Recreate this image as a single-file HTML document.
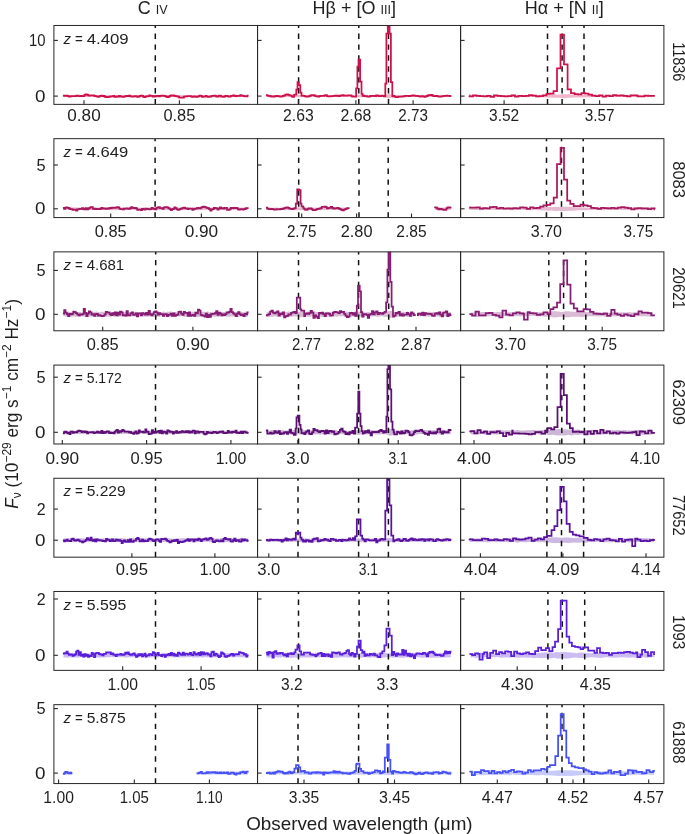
<!DOCTYPE html>
<html><head><meta charset="utf-8"><style>
html,body{margin:0;padding:0;background:#fff;overflow:hidden;}
svg{display:block;font-family:"Liberation Sans",sans-serif;will-change:transform;}
</style></head><body>
<svg width="685" height="834" viewBox="0 0 685 834">
<defs>
<clipPath id="cp00"><rect x="53.90" y="25.47" width="203.65" height="78.90"/></clipPath>
<clipPath id="cp01"><rect x="257.55" y="25.47" width="203.05" height="78.90"/></clipPath>
<clipPath id="cp02"><rect x="460.60" y="25.47" width="203.30" height="78.90"/></clipPath>
<clipPath id="cp10"><rect x="53.90" y="138.67" width="203.65" height="78.90"/></clipPath>
<clipPath id="cp11"><rect x="257.55" y="138.67" width="203.05" height="78.90"/></clipPath>
<clipPath id="cp12"><rect x="460.60" y="138.67" width="203.30" height="78.90"/></clipPath>
<clipPath id="cp20"><rect x="53.90" y="251.87" width="203.65" height="78.90"/></clipPath>
<clipPath id="cp21"><rect x="257.55" y="251.87" width="203.05" height="78.90"/></clipPath>
<clipPath id="cp22"><rect x="460.60" y="251.87" width="203.30" height="78.90"/></clipPath>
<clipPath id="cp30"><rect x="53.90" y="365.07" width="203.65" height="78.90"/></clipPath>
<clipPath id="cp31"><rect x="257.55" y="365.07" width="203.05" height="78.90"/></clipPath>
<clipPath id="cp32"><rect x="460.60" y="365.07" width="203.30" height="78.90"/></clipPath>
<clipPath id="cp40"><rect x="53.90" y="478.27" width="203.65" height="78.90"/></clipPath>
<clipPath id="cp41"><rect x="257.55" y="478.27" width="203.05" height="78.90"/></clipPath>
<clipPath id="cp42"><rect x="460.60" y="478.27" width="203.30" height="78.90"/></clipPath>
<clipPath id="cp50"><rect x="53.90" y="591.47" width="203.65" height="78.90"/></clipPath>
<clipPath id="cp51"><rect x="257.55" y="591.47" width="203.05" height="78.90"/></clipPath>
<clipPath id="cp52"><rect x="460.60" y="591.47" width="203.30" height="78.90"/></clipPath>
<clipPath id="cp60"><rect x="53.90" y="704.67" width="203.65" height="78.90"/></clipPath>
<clipPath id="cp61"><rect x="257.55" y="704.67" width="203.05" height="78.90"/></clipPath>
<clipPath id="cp62"><rect x="460.60" y="704.67" width="203.30" height="78.90"/></clipPath>
</defs>
<rect width="685" height="834" fill="#fff"/>
<g clip-path="url(#cp00)"><polygon points="63.50,95.22 64.70,95.20 65.90,95.26 67.09,95.12 68.29,95.37 69.49,94.99 70.69,95.36 71.89,95.19 73.08,95.10 74.28,95.42 75.48,95.21 76.68,95.17 77.88,95.38 79.07,95.18 80.27,95.27 81.47,95.21 82.67,94.98 83.87,95.14 85.06,95.19 86.26,95.23 87.46,95.33 88.66,95.24 89.86,95.22 91.05,95.15 92.25,95.32 93.45,95.07 94.65,95.22 95.85,95.28 97.04,95.26 98.24,95.12 99.44,95.15 100.64,95.01 101.84,95.14 103.04,95.07 104.23,94.98 105.43,95.25 106.63,95.13 107.83,95.22 109.03,95.09 110.22,95.26 111.42,95.03 112.62,95.13 113.82,95.30 115.02,95.14 116.21,95.25 117.41,95.19 118.61,95.06 119.81,95.05 121.01,95.39 122.20,95.17 123.40,95.24 124.60,95.14 125.80,95.24 127.00,95.15 128.19,95.35 129.39,95.16 130.59,95.29 131.79,95.15 132.99,95.22 134.18,95.07 135.38,95.02 136.58,95.27 137.78,94.84 138.98,95.16 140.18,95.16 141.37,95.23 142.57,95.35 143.77,95.27 144.97,95.21 146.17,95.10 147.36,95.31 148.56,95.32 149.76,95.23 150.96,95.26 152.16,95.31 153.35,95.19 154.55,95.27 155.75,95.08 156.95,95.10 158.15,95.45 159.34,95.24 160.54,95.22 161.74,95.07 162.94,95.27 164.14,95.23 165.33,95.08 166.53,95.07 167.73,95.12 168.93,95.34 170.13,95.04 171.32,95.22 172.52,95.24 173.72,95.15 174.92,95.04 176.12,95.17 177.32,95.20 178.51,95.11 179.71,94.95 180.91,95.30 182.11,95.19 183.31,94.93 184.50,95.16 185.70,95.40 186.90,95.06 188.10,95.25 189.30,95.34 190.49,95.13 191.69,95.23 192.89,95.24 194.09,95.26 195.29,95.11 196.48,95.20 197.68,95.04 198.88,95.16 200.08,95.25 201.28,95.09 202.47,95.08 203.67,95.43 204.87,95.12 206.07,95.23 207.27,95.15 208.46,95.15 209.66,94.91 210.86,94.98 212.06,95.12 213.26,95.26 214.46,95.29 215.65,95.22 216.85,95.15 218.05,95.23 219.25,95.29 220.45,95.03 221.64,95.32 222.84,95.12 224.04,95.33 225.24,95.18 226.44,95.29 227.63,95.19 228.83,95.30 230.03,95.40 231.23,95.18 232.43,95.26 233.62,95.21 234.82,94.86 236.02,94.84 237.22,95.03 238.42,95.09 239.61,95.00 240.81,95.24 242.01,95.15 243.21,95.32 244.41,95.14 245.60,95.19 246.80,95.16 248.00,95.06 248.00,97.14 246.80,97.04 245.60,97.01 244.41,97.06 243.21,96.88 242.01,97.05 240.81,96.96 239.61,97.20 238.42,97.11 237.22,97.17 236.02,97.36 234.82,97.34 233.62,96.99 232.43,96.94 231.23,97.02 230.03,96.80 228.83,96.90 227.63,97.01 226.44,96.91 225.24,97.02 224.04,96.87 222.84,97.08 221.64,96.88 220.45,97.17 219.25,96.91 218.05,96.97 216.85,97.05 215.65,96.98 214.46,96.91 213.26,96.94 212.06,97.08 210.86,97.22 209.66,97.29 208.46,97.05 207.27,97.05 206.07,96.97 204.87,97.08 203.67,96.77 202.47,97.12 201.28,97.11 200.08,96.95 198.88,97.04 197.68,97.16 196.48,97.00 195.29,97.09 194.09,96.94 192.89,96.96 191.69,96.97 190.49,97.07 189.30,96.86 188.10,96.95 186.90,97.14 185.70,96.80 184.50,97.04 183.31,97.27 182.11,97.01 180.91,96.90 179.71,97.25 178.51,97.09 177.32,97.00 176.12,97.03 174.92,97.16 173.72,97.05 172.52,96.96 171.32,96.98 170.13,97.16 168.93,96.86 167.73,97.08 166.53,97.13 165.33,97.12 164.14,96.97 162.94,96.93 161.74,97.13 160.54,96.98 159.34,96.96 158.15,96.75 156.95,97.10 155.75,97.12 154.55,96.93 153.35,97.01 152.16,96.89 150.96,96.94 149.76,96.97 148.56,96.88 147.36,96.89 146.17,97.10 144.97,96.99 143.77,96.93 142.57,96.85 141.37,96.97 140.18,97.04 138.98,97.04 137.78,97.36 136.58,96.93 135.38,97.18 134.18,97.13 132.99,96.98 131.79,97.05 130.59,96.91 129.39,97.04 128.19,96.85 127.00,97.05 125.80,96.96 124.60,97.06 123.40,96.96 122.20,97.03 121.01,96.81 119.81,97.15 118.61,97.14 117.41,97.01 116.21,96.95 115.02,97.06 113.82,96.90 112.62,97.07 111.42,97.17 110.22,96.94 109.03,97.11 107.83,96.98 106.63,97.07 105.43,96.95 104.23,97.22 103.04,97.13 101.84,97.06 100.64,97.19 99.44,97.05 98.24,97.08 97.04,96.94 95.85,96.92 94.65,96.98 93.45,97.13 92.25,96.88 91.05,97.05 89.86,96.98 88.66,96.96 87.46,96.87 86.26,96.97 85.06,97.01 83.87,97.06 82.67,97.22 81.47,96.99 80.27,96.93 79.07,97.02 77.88,96.82 76.68,97.03 75.48,96.99 74.28,96.78 73.08,97.10 71.89,97.01 70.69,96.84 69.49,97.21 68.29,96.83 67.09,97.08 65.90,96.94 64.70,97.00 63.50,96.98" fill="#cf114b" fill-opacity="0.3" stroke="none"/><line x1="155.30" y1="104.37" x2="155.30" y2="25.47" stroke="#111" stroke-width="1.5" stroke-dasharray="5.4 5.5"/><polyline points="62.90,95.62 64.10,95.62 64.10,95.79 65.30,95.79 65.30,95.55 66.49,95.55 66.49,95.73 67.69,95.73 67.69,96.06 68.89,96.06 68.89,96.53 70.09,96.53 70.09,96.34 71.29,96.34 71.29,96.14 72.48,96.14 72.48,96.22 73.68,96.22 73.68,96.04 74.88,96.04 74.88,96.13 76.08,96.13 76.08,95.71 77.28,95.71 77.28,95.74 78.47,95.74 78.47,96.02 79.67,96.02 79.67,96.16 80.87,96.16 80.87,95.88 82.07,95.88 82.07,96.24 83.27,96.24 83.27,96.17 84.47,96.17 84.47,94.97 85.66,94.97 85.66,94.29 86.86,94.29 86.86,94.59 88.06,94.59 88.06,95.31 89.26,95.31 89.26,95.57 90.46,95.57 90.46,95.41 91.65,95.41 91.65,95.37 92.85,95.37 92.85,95.37 94.05,95.37 94.05,95.94 95.25,95.94 95.25,96.10 96.45,96.10 96.45,96.30 97.64,96.30 97.64,96.78 98.84,96.78 98.84,96.49 100.04,96.49 100.04,95.84 101.24,95.84 101.24,95.68 102.44,95.68 102.44,96.01 103.63,96.01 103.63,95.99 104.83,95.99 104.83,96.96 106.03,96.96 106.03,97.18 107.23,97.18 107.23,97.10 108.43,97.10 108.43,96.75 109.62,96.75 109.62,96.59 110.82,96.59 110.82,96.28 112.02,96.28 112.02,96.27 113.22,96.27 113.22,95.99 114.42,95.99 114.42,96.82 115.61,96.82 115.61,96.79 116.81,96.79 116.81,96.41 118.01,96.41 118.01,96.60 119.21,96.60 119.21,95.96 120.41,95.96 120.41,96.60 121.61,96.60 121.61,96.68 122.80,96.68 122.80,96.82 124.00,96.82 124.00,96.61 125.20,96.61 125.20,96.20 126.40,96.20 126.40,95.99 127.60,95.99 127.60,96.17 128.79,96.17 128.79,95.74 129.99,95.74 129.99,96.16 131.19,96.16 131.19,96.60 132.39,96.60 132.39,96.63 133.59,96.63 133.59,96.25 134.78,96.25 134.78,96.12 135.98,96.12 135.98,96.39 137.18,96.39 137.18,96.96 138.38,96.96 138.38,96.70 139.58,96.70 139.58,95.92 140.77,95.92 140.77,95.62 141.97,95.62 141.97,95.83 143.17,95.83 143.17,96.82 144.37,96.82 144.37,97.06 145.57,97.06 145.57,96.43 146.76,96.43 146.76,96.29 147.96,96.29 147.96,96.11 149.16,96.11 149.16,95.40 150.36,95.40 150.36,95.96 151.56,95.96 151.56,95.96 152.75,95.96 152.75,96.53 153.95,96.53 153.95,96.19 155.15,96.19 155.15,96.40 156.35,96.40 156.35,95.92 157.55,95.92 157.55,95.96 158.75,95.96 158.75,96.43 159.94,96.43 159.94,95.78 161.14,95.78 161.14,95.60 162.34,95.60 162.34,95.70 163.54,95.70 163.54,95.96 164.74,95.96 164.74,96.21 165.93,96.21 165.93,96.65 167.13,96.65 167.13,97.01 168.33,97.01 168.33,96.93 169.53,96.93 169.53,95.99 170.73,95.99 170.73,95.27 171.92,95.27 171.92,95.59 173.12,95.59 173.12,95.26 174.32,95.26 174.32,95.81 175.52,95.81 175.52,96.05 176.72,96.05 176.72,96.28 177.91,96.28 177.91,96.71 179.11,96.71 179.11,97.59 180.31,97.59 180.31,97.66 181.51,97.66 181.51,97.56 182.71,97.56 182.71,97.71 183.90,97.71 183.90,96.74 185.10,96.74 185.10,96.43 186.30,96.43 186.30,96.32 187.50,96.32 187.50,96.11 188.70,96.11 188.70,96.07 189.89,96.07 189.89,96.15 191.09,96.15 191.09,96.60 192.29,96.60 192.29,96.79 193.49,96.79 193.49,96.46 194.69,96.46 194.69,96.57 195.89,96.57 195.89,96.82 197.08,96.82 197.08,96.63 198.28,96.63 198.28,96.47 199.48,96.47 199.48,95.63 200.68,95.63 200.68,95.93 201.88,95.93 201.88,96.86 203.07,96.86 203.07,96.63 204.27,96.63 204.27,96.62 205.47,96.62 205.47,95.78 206.67,95.78 206.67,96.64 207.87,96.64 207.87,96.84 209.06,96.84 209.06,96.67 210.26,96.67 210.26,96.66 211.46,96.66 211.46,95.90 212.66,95.90 212.66,95.82 213.86,95.82 213.86,95.60 215.05,95.60 215.05,95.94 216.25,95.94 216.25,96.72 217.45,96.72 217.45,96.57 218.65,96.57 218.65,95.71 219.85,95.71 219.85,95.74 221.04,95.74 221.04,96.51 222.24,96.51 222.24,96.59 223.44,96.59 223.44,96.80 224.64,96.80 224.64,96.17 225.84,96.17 225.84,95.83 227.03,95.83 227.03,96.06 228.23,96.06 228.23,96.68 229.43,96.68 229.43,96.50 230.63,96.50 230.63,95.91 231.83,95.91 231.83,95.84 233.03,95.84 233.03,95.31 234.22,95.31 234.22,95.98 235.42,95.98 235.42,96.18 236.62,96.18 236.62,95.87 237.82,95.87 237.82,95.85 239.02,95.85 239.02,95.78 240.21,95.78 240.21,95.14 241.41,95.14 241.41,95.69 242.61,95.69 242.61,95.77 243.81,95.77 243.81,96.02 245.01,96.02 245.01,96.28 246.20,96.28 246.20,96.39 247.40,96.39 247.40,95.64 248.60,95.64" fill="none" stroke="#cf114b" stroke-width="1.75" stroke-linejoin="miter"/></g>
<rect x="53.90" y="25.47" width="203.65" height="78.90" fill="none" stroke="#262626" stroke-width="1.0"/>
<line x1="53.90" y1="40.40" x2="57.90" y2="40.40" stroke="#262626" stroke-width="1.1"/>
<text x="45.6" y="45.90" text-anchor="end" font-size="16.0" fill="#1e1e1e" textLength="16.5" lengthAdjust="spacingAndGlyphs">10</text>
<line x1="53.90" y1="96.10" x2="57.90" y2="96.10" stroke="#262626" stroke-width="1.1"/>
<text x="45.6" y="101.60" text-anchor="end" font-size="16.0" fill="#1e1e1e" textLength="10.5" lengthAdjust="spacingAndGlyphs">0</text>
<line x1="84.00" y1="104.37" x2="84.00" y2="100.37" stroke="#262626" stroke-width="1.1"/>
<text x="84.00" y="120.77" text-anchor="middle" font-size="16.0" fill="#1e1e1e" textLength="33.3" lengthAdjust="spacingAndGlyphs">0.80</text>
<line x1="179.40" y1="104.37" x2="179.40" y2="100.37" stroke="#262626" stroke-width="1.1"/>
<text x="179.40" y="120.77" text-anchor="middle" font-size="16.0" fill="#1e1e1e" textLength="31.900000000000002" lengthAdjust="spacingAndGlyphs">0.85</text>
<g clip-path="url(#cp01)"><polygon points="266.60,95.18 267.90,95.31 269.19,94.96 270.49,95.30 271.79,95.36 273.08,95.08 274.38,95.14 275.68,95.16 276.98,95.27 278.27,95.35 279.57,95.22 280.87,95.20 282.17,95.20 283.46,95.19 284.76,95.07 286.06,95.32 287.35,95.41 288.65,95.24 289.95,95.38 291.25,95.47 292.54,95.03 293.65,95.17 295.20,95.21 296.90,95.09 298.20,94.85 299.60,94.98 300.90,95.06 301.89,95.15 302.92,95.31 304.22,95.21 305.51,95.30 306.81,94.98 308.11,95.31 309.41,95.34 310.70,95.38 312.00,95.11 313.30,95.38 314.60,95.13 315.89,95.17 317.19,95.22 318.49,94.93 319.78,95.26 321.08,95.15 322.38,95.33 323.68,95.29 324.97,95.12 326.27,95.28 327.57,95.20 328.86,95.13 330.16,95.19 331.46,95.24 332.76,95.19 334.05,95.43 335.35,95.23 336.65,95.09 337.94,95.01 339.24,95.12 340.54,95.18 341.84,95.18 343.13,95.28 344.43,95.10 345.73,95.10 347.03,95.26 348.32,95.37 349.62,95.15 350.92,95.06 352.21,95.25 353.51,95.17 354.81,95.14 355.78,95.03 356.75,94.99 357.95,94.98 359.30,94.67 360.80,94.92 362.05,95.05 362.92,95.04 363.89,95.38 365.19,95.10 366.48,95.32 367.78,95.26 369.08,95.07 370.37,95.07 371.67,95.29 372.97,95.31 374.27,95.36 375.56,95.29 376.86,95.03 378.16,95.18 379.46,95.31 380.75,95.21 382.05,95.34 383.35,95.20 384.65,95.03 385.85,95.01 387.10,94.26 388.70,93.71 390.25,94.15 391.60,94.87 392.69,94.97 393.72,95.27 395.02,95.31 396.32,94.97 397.62,95.34 398.91,95.29 400.21,95.23 401.51,95.19 402.80,95.06 404.10,95.11 405.40,95.05 406.70,95.12 407.99,95.17 409.29,95.35 410.59,95.18 411.89,95.28 413.18,95.28 414.48,95.23 415.78,94.97 417.07,95.09 418.37,95.09 419.67,95.32 420.97,95.20 422.26,95.22 423.56,95.17 424.86,95.11 426.15,95.22 427.45,95.19 428.75,95.13 430.05,95.16 431.34,95.11 432.64,95.47 433.94,95.31 435.23,95.22 436.53,95.31 437.83,95.32 439.13,95.47 440.42,95.13 441.72,95.24 443.02,95.30 444.32,95.01 445.61,95.25 446.91,95.11 448.21,95.18 449.50,95.13 450.80,95.42 450.80,96.78 449.50,97.07 448.21,97.02 446.91,97.09 445.61,96.95 444.32,97.19 443.02,96.90 441.72,96.96 440.42,97.07 439.13,96.73 437.83,96.88 436.53,96.89 435.23,96.98 433.94,96.89 432.64,96.73 431.34,97.09 430.05,97.04 428.75,97.07 427.45,97.01 426.15,96.98 424.86,97.09 423.56,97.03 422.26,96.98 420.97,97.00 419.67,96.88 418.37,97.11 417.07,97.11 415.78,97.23 414.48,96.97 413.18,96.92 411.89,96.92 410.59,97.02 409.29,96.85 407.99,97.03 406.70,97.08 405.40,97.15 404.10,97.09 402.80,97.14 401.51,97.01 400.21,96.97 398.91,96.91 397.62,96.86 396.32,97.23 395.02,96.89 393.72,96.93 392.69,97.23 391.60,97.33 390.25,98.05 388.70,98.49 387.10,97.94 385.85,97.19 384.65,97.17 383.35,97.00 382.05,96.86 380.75,96.99 379.46,96.89 378.16,97.02 376.86,97.17 375.56,96.91 374.27,96.84 372.97,96.89 371.67,96.91 370.37,97.13 369.08,97.13 367.78,96.94 366.48,96.88 365.19,97.10 363.89,96.82 362.92,97.16 362.05,97.15 360.80,97.28 359.30,97.53 357.95,97.22 356.75,97.21 355.78,97.17 354.81,97.06 353.51,97.03 352.21,96.95 350.92,97.14 349.62,97.05 348.32,96.83 347.03,96.94 345.73,97.10 344.43,97.10 343.13,96.92 341.84,97.02 340.54,97.02 339.24,97.08 337.94,97.19 336.65,97.11 335.35,96.97 334.05,96.77 332.76,97.01 331.46,96.96 330.16,97.01 328.86,97.07 327.57,97.00 326.27,96.92 324.97,97.08 323.68,96.91 322.38,96.87 321.08,97.05 319.78,96.94 318.49,97.27 317.19,96.98 315.89,97.03 314.60,97.07 313.30,96.82 312.00,97.09 310.70,96.82 309.41,96.86 308.11,96.89 306.81,97.22 305.51,96.90 304.22,96.99 302.92,96.89 301.89,97.05 300.90,97.14 299.60,97.22 298.20,97.35 296.90,97.11 295.20,96.99 293.65,97.03 292.54,97.17 291.25,96.73 289.95,96.82 288.65,96.96 287.35,96.79 286.06,96.88 284.76,97.13 283.46,97.01 282.17,97.00 280.87,97.00 279.57,96.98 278.27,96.85 276.98,96.93 275.68,97.04 274.38,97.06 273.08,97.12 271.79,96.84 270.49,96.90 269.19,97.24 267.90,96.89 266.60,97.02" fill="#cf114b" fill-opacity="0.3" stroke="none"/><line x1="298.60" y1="104.37" x2="298.60" y2="25.47" stroke="#111" stroke-width="1.5" stroke-dasharray="5.4 5.5"/><line x1="358.80" y1="104.37" x2="358.80" y2="25.47" stroke="#111" stroke-width="1.5" stroke-dasharray="5.4 5.5"/><line x1="388.50" y1="104.37" x2="388.50" y2="25.47" stroke="#111" stroke-width="1.5" stroke-dasharray="5.4 5.5"/><polyline points="265.95,95.23 267.25,95.23 267.25,95.52 268.54,95.52 268.54,95.77 269.84,95.77 269.84,96.21 271.14,96.21 271.14,96.50 272.44,96.50 272.44,96.43 273.73,96.43 273.73,96.71 275.03,96.71 275.03,96.10 276.33,96.10 276.33,95.96 277.62,95.96 277.62,96.20 278.92,96.20 278.92,96.34 280.22,96.34 280.22,96.57 281.52,96.57 281.52,96.44 282.81,96.44 282.81,95.76 284.11,95.76 284.11,95.26 285.41,95.26 285.41,94.51 286.71,94.51 286.71,94.34 288.00,94.34 288.00,94.92 289.30,94.92 289.30,95.39 290.60,95.39 290.60,95.70 291.89,95.70 291.89,96.72 293.19,96.72 293.19,96.87 294.10,96.87 294.10,94.50 296.30,94.50 296.30,89.50 297.50,89.50 297.50,82.10 298.90,82.10 298.90,85.20 300.30,85.20 300.30,92.60 301.50,92.60 301.50,95.72 302.27,95.72 302.27,95.71 303.57,95.71 303.57,95.97 304.87,95.97 304.87,96.43 306.16,96.43 306.16,96.69 307.46,96.69 307.46,96.61 308.76,96.61 308.76,96.04 310.05,96.04 310.05,95.67 311.35,95.67 311.35,95.08 312.65,95.08 312.65,95.21 313.95,95.21 313.95,95.25 315.24,95.25 315.24,96.11 316.54,96.11 316.54,96.35 317.84,96.35 317.84,96.55 319.14,96.55 319.14,96.12 320.43,96.12 320.43,95.76 321.73,95.76 321.73,95.91 323.03,95.91 323.03,95.80 324.32,95.80 324.32,95.40 325.62,95.40 325.62,95.20 326.92,95.20 326.92,96.04 328.22,96.04 328.22,96.49 329.51,96.49 329.51,96.46 330.81,96.46 330.81,96.23 332.11,96.23 332.11,96.11 333.40,96.11 333.40,95.79 334.70,95.79 334.70,95.64 336.00,95.64 336.00,95.91 337.30,95.91 337.30,95.63 338.59,95.63 338.59,96.09 339.89,96.09 339.89,95.74 341.19,95.74 341.19,95.44 342.48,95.44 342.48,95.13 343.78,95.13 343.78,95.69 345.08,95.69 345.08,95.73 346.38,95.73 346.38,95.55 347.67,95.55 347.67,95.36 348.97,95.36 348.97,95.48 350.27,95.48 350.27,95.46 351.57,95.46 351.57,96.27 352.86,96.27 352.86,96.53 354.16,96.53 354.16,96.50 355.46,96.50 355.46,96.63 356.10,96.63 356.10,88.40 357.40,88.40 357.40,66.50 358.50,66.50 358.50,59.60 360.10,59.60 360.10,81.50 361.50,81.50 361.50,93.80 362.60,93.80 362.60,95.88 363.24,95.88 363.24,95.64 364.54,95.64 364.54,96.05 365.83,96.05 365.83,96.04 367.13,96.04 367.13,96.65 368.43,96.65 368.43,96.56 369.73,96.56 369.73,96.24 371.02,96.24 371.02,95.85 372.32,95.85 372.32,95.84 373.62,95.84 373.62,95.97 374.92,95.97 374.92,96.02 376.21,96.02 376.21,95.49 377.51,95.49 377.51,95.68 378.81,95.68 378.81,96.12 380.10,96.12 380.10,96.07 381.40,96.07 381.40,95.56 382.70,95.56 382.70,95.77 384.00,95.77 384.00,96.28 385.30,96.28 385.30,83.50 386.40,83.50 386.40,33.50 387.80,33.50 387.80,-13.90 389.60,-13.90 389.60,33.50 390.90,33.50 390.90,82.10 392.30,82.10 392.30,96.26 393.08,96.26 393.08,95.95 394.37,95.95 394.37,96.71 395.67,96.71 395.67,97.14 396.97,97.14 396.97,97.08 398.26,97.08 398.26,96.61 399.56,96.61 399.56,96.52 400.86,96.52 400.86,96.55 402.16,96.55 402.16,96.41 403.45,96.41 403.45,96.38 404.75,96.38 404.75,95.99 406.05,95.99 406.05,95.81 407.35,95.81 407.35,95.96 408.64,95.96 408.64,96.24 409.94,96.24 409.94,95.83 411.24,95.83 411.24,95.66 412.53,95.66 412.53,95.45 413.83,95.45 413.83,95.51 415.13,95.51 415.13,95.88 416.43,95.88 416.43,95.89 417.72,95.89 417.72,96.24 419.02,96.24 419.02,96.26 420.32,96.26 420.32,96.58 421.61,96.58 421.61,96.22 422.91,96.22 422.91,96.39 424.21,96.39 424.21,96.75 425.51,96.75 425.51,96.30 426.80,96.30 426.80,95.89 428.10,95.89 428.10,95.07 429.40,95.07 429.40,95.03 430.69,95.03 430.69,94.80 431.99,94.80 431.99,95.43 433.29,95.43 433.29,96.08 434.59,96.08 434.59,96.00 435.88,96.00 435.88,95.90 437.18,95.90 437.18,96.01 438.48,96.01 438.48,96.67 439.78,96.67 439.78,96.61 441.07,96.61 441.07,96.45 442.37,96.45 442.37,96.07 443.67,96.07 443.67,95.88 444.96,95.88 444.96,95.76 446.26,95.76 446.26,95.71 447.56,95.71 447.56,95.86 448.86,95.86 448.86,95.86 450.15,95.86 450.15,96.18 451.45,96.18" fill="none" stroke="#cf114b" stroke-width="1.75" stroke-linejoin="miter"/></g>
<rect x="257.55" y="25.47" width="203.05" height="78.90" fill="none" stroke="#262626" stroke-width="1.0"/>
<line x1="257.55" y1="40.40" x2="261.55" y2="40.40" stroke="#262626" stroke-width="1.1"/>
<line x1="257.55" y1="96.10" x2="261.55" y2="96.10" stroke="#262626" stroke-width="1.1"/>
<line x1="298.40" y1="104.37" x2="298.40" y2="100.37" stroke="#262626" stroke-width="1.1"/>
<text x="298.40" y="120.77" text-anchor="middle" font-size="16.0" fill="#1e1e1e" textLength="30.6" lengthAdjust="spacingAndGlyphs">2.63</text>
<line x1="355.90" y1="104.37" x2="355.90" y2="100.37" stroke="#262626" stroke-width="1.1"/>
<text x="355.90" y="120.77" text-anchor="middle" font-size="16.0" fill="#1e1e1e" textLength="30.8" lengthAdjust="spacingAndGlyphs">2.68</text>
<line x1="413.10" y1="104.37" x2="413.10" y2="100.37" stroke="#262626" stroke-width="1.1"/>
<text x="413.10" y="120.77" text-anchor="middle" font-size="16.0" fill="#1e1e1e" textLength="29.6" lengthAdjust="spacingAndGlyphs">2.73</text>
<g clip-path="url(#cp02)"><polygon points="469.45,95.34 471.25,95.04 474.75,95.22 478.25,95.21 481.75,95.22 485.25,95.43 488.75,95.37 492.25,95.34 495.75,95.26 499.25,95.20 502.75,95.25 506.25,95.24 509.75,95.13 513.25,95.09 516.75,95.18 520.25,95.31 523.75,95.26 527.25,95.05 530.75,95.31 534.25,95.22 537.75,95.00 541.25,94.85 544.75,94.83 548.25,94.67 551.75,94.49 555.25,94.50 558.75,94.43 562.25,94.17 565.80,94.25 569.30,94.35 572.75,94.67 576.25,94.69 579.75,94.77 583.25,95.00 586.75,94.96 590.25,94.87 593.75,95.21 597.25,95.19 600.75,95.18 604.25,95.24 607.75,95.18 611.25,95.24 614.75,95.17 618.25,95.21 621.75,95.06 625.25,95.10 628.75,95.22 632.25,95.19 635.75,95.11 639.25,95.09 642.75,95.47 646.25,95.23 649.75,95.28 653.20,95.19 653.20,97.01 649.75,96.92 646.25,96.97 642.75,96.73 639.25,97.11 635.75,97.09 632.25,97.01 628.75,96.98 625.25,97.10 621.75,97.14 618.25,96.99 614.75,97.03 611.25,96.96 607.75,97.02 604.25,96.96 600.75,97.02 597.25,97.01 593.75,96.99 590.25,97.33 586.75,97.24 583.25,97.20 579.75,97.43 576.25,97.51 572.75,97.53 569.30,97.85 565.80,97.95 562.25,98.03 558.75,97.77 555.25,97.70 551.75,97.71 548.25,97.53 544.75,97.37 541.25,97.35 537.75,97.20 534.25,96.98 530.75,96.89 527.25,97.15 523.75,96.94 520.25,96.89 516.75,97.02 513.25,97.11 509.75,97.07 506.25,96.96 502.75,96.95 499.25,97.00 495.75,96.94 492.25,96.86 488.75,96.83 485.25,96.77 481.75,96.98 478.25,96.99 474.75,96.98 471.25,97.16 469.45,96.86" fill="#cf114b" fill-opacity="0.3" stroke="none"/><line x1="547.50" y1="104.37" x2="547.50" y2="25.47" stroke="#111" stroke-width="1.5" stroke-dasharray="5.4 5.5"/><line x1="562.10" y1="104.37" x2="562.10" y2="25.47" stroke="#111" stroke-width="1.5" stroke-dasharray="5.4 5.5"/><line x1="584.00" y1="104.37" x2="584.00" y2="25.47" stroke="#111" stroke-width="1.5" stroke-dasharray="5.4 5.5"/><polyline points="469.40,95.41 469.50,95.41 469.50,96.33 473.00,96.33 473.00,95.30 476.50,95.30 476.50,95.75 480.00,95.75 480.00,96.14 483.50,96.14 483.50,96.32 487.00,96.32 487.00,95.96 490.50,95.96 490.50,96.93 494.00,96.93 494.00,95.45 497.50,95.45 497.50,95.91 501.00,95.91 501.00,96.12 504.50,96.12 504.50,96.41 508.00,96.41 508.00,96.16 511.50,96.16 511.50,95.42 515.00,95.42 515.00,96.69 518.50,96.69 518.50,95.84 522.00,95.84 522.00,96.11 525.50,96.11 525.50,95.88 529.00,95.88 529.00,95.23 532.50,95.23 532.50,95.63 536.00,95.63 536.00,96.25 539.50,96.25 539.50,96.19 543.00,96.19 543.00,95.49 546.50,95.49 546.50,93.90 550.00,93.90 550.00,93.50 553.50,93.50 553.50,91.20 557.00,91.20 557.00,68.40 560.50,68.40 560.50,34.70 564.00,34.70 564.00,64.30 567.60,64.30 567.60,89.40 571.00,89.40 571.00,93.00 574.50,93.00 574.50,94.10 578.00,94.10 578.00,94.30 581.50,94.30 581.50,93.10 585.00,93.10 585.00,93.50 588.50,93.50 588.50,94.60 592.00,94.60 592.00,95.71 595.50,95.71 595.50,96.22 599.00,96.22 599.00,95.36 602.50,95.36 602.50,96.63 606.00,96.63 606.00,95.53 609.50,95.53 609.50,96.16 613.00,96.16 613.00,95.18 616.50,95.18 616.50,95.58 620.00,95.58 620.00,95.43 623.50,95.43 623.50,95.95 627.00,95.95 627.00,96.39 630.50,96.39 630.50,95.36 634.00,95.36 634.00,95.28 637.50,95.28 637.50,96.27 641.00,96.27 641.00,96.49 644.50,96.49 644.50,95.64 648.00,95.64 648.00,95.92 651.50,95.92 651.50,95.79 654.90,95.79" fill="none" stroke="#cf114b" stroke-width="1.75" stroke-linejoin="miter"/></g>
<rect x="460.60" y="25.47" width="203.30" height="78.90" fill="none" stroke="#262626" stroke-width="1.0"/>
<line x1="460.60" y1="40.40" x2="464.60" y2="40.40" stroke="#262626" stroke-width="1.1"/>
<line x1="460.60" y1="96.10" x2="464.60" y2="96.10" stroke="#262626" stroke-width="1.1"/>
<line x1="504.10" y1="104.37" x2="504.10" y2="100.37" stroke="#262626" stroke-width="1.1"/>
<text x="504.10" y="120.77" text-anchor="middle" font-size="16.0" fill="#1e1e1e" textLength="30.1" lengthAdjust="spacingAndGlyphs">3.52</text>
<line x1="599.60" y1="104.37" x2="599.60" y2="100.37" stroke="#262626" stroke-width="1.1"/>
<text x="599.60" y="120.77" text-anchor="middle" font-size="16.0" fill="#1e1e1e" textLength="29.8" lengthAdjust="spacingAndGlyphs">3.57</text>
<text x="63.4" y="43.67" font-size="15" font-style="italic" fill="#1e1e1e">z</text>
<text x="75.0" y="43.67" font-size="15" fill="#1e1e1e" textLength="7.8" lengthAdjust="spacingAndGlyphs">=</text>
<text x="86.7" y="43.67" font-size="15" fill="#1e1e1e" textLength="42.0" lengthAdjust="spacingAndGlyphs">4.409</text>
<text transform="translate(673.4,61.80) rotate(90)" text-anchor="middle" font-size="15.8" fill="#1e1e1e" textLength="39.2" lengthAdjust="spacingAndGlyphs">11836</text>
<g clip-path="url(#cp10)"><polygon points="63.50,207.53 64.70,207.77 65.90,207.57 67.09,207.79 68.29,207.49 69.49,207.48 70.69,207.52 71.89,207.56 73.08,207.47 74.28,207.37 75.48,207.59 76.68,207.46 77.88,207.50 79.07,207.59 80.27,207.57 81.47,207.68 82.67,207.45 83.87,207.44 85.06,207.74 86.26,207.72 87.46,207.40 88.66,207.36 89.86,207.67 91.05,207.51 92.25,207.73 93.45,207.64 94.65,207.65 95.85,207.52 97.04,207.69 98.24,207.60 99.44,207.61 100.64,207.48 101.84,207.56 103.04,207.60 104.23,207.50 105.43,207.54 106.63,207.69 107.83,207.80 109.03,207.53 110.22,207.62 111.42,207.37 112.62,207.44 113.82,207.66 115.02,207.67 116.21,207.37 117.41,207.61 118.61,207.63 119.81,207.81 121.01,207.70 122.20,207.40 123.40,207.35 124.60,207.45 125.80,207.66 127.00,207.52 128.19,207.68 129.39,207.29 130.59,207.45 131.79,207.62 132.99,207.52 134.18,207.57 135.38,207.53 136.58,207.58 137.78,207.75 138.98,207.45 140.18,207.81 141.37,207.68 142.57,207.59 143.77,207.40 144.97,207.53 146.17,207.71 147.36,207.70 148.56,207.51 149.76,207.48 150.96,207.61 152.16,207.74 153.35,207.46 154.55,207.49 155.75,207.86 156.95,207.46 158.15,207.62 159.34,207.29 160.54,207.81 161.74,207.65 162.94,207.51 164.14,207.40 165.33,207.60 166.53,207.52 167.73,207.59 168.93,207.73 170.13,207.48 171.32,207.41 172.52,207.47 173.72,207.53 174.92,207.58 176.12,207.49 177.32,207.70 178.51,207.44 179.71,207.58 180.91,207.64 182.11,207.53 183.31,207.65 184.50,207.60 185.70,207.47 186.90,207.73 188.10,207.47 189.30,207.45 190.49,207.59 191.69,207.83 192.89,207.44 194.09,207.63 195.29,207.56 196.48,207.49 197.68,207.67 198.88,207.44 200.08,207.72 201.28,207.61 202.47,207.72 203.67,207.70 204.87,207.74 206.07,207.43 207.27,207.61 208.46,207.71 209.66,207.40 210.86,207.84 212.06,207.55 213.26,207.47 214.46,207.58 215.65,207.65 216.85,207.61 218.05,207.52 219.25,207.59 220.45,207.61 221.64,207.69 222.84,207.66 224.04,207.45 225.24,207.45 226.44,207.74 227.63,207.34 228.83,207.93 230.03,207.59 231.23,207.65 232.43,207.55 233.62,207.32 234.82,207.67 236.02,207.96 237.22,207.63 238.42,207.64 239.61,207.46 240.81,207.62 242.01,207.49 243.21,207.49 244.41,207.68 245.60,207.62 246.80,207.66 248.00,207.43 248.00,210.17 246.80,209.94 245.60,209.98 244.41,209.92 243.21,210.11 242.01,210.11 240.81,209.98 239.61,210.14 238.42,209.96 237.22,209.97 236.02,209.64 234.82,209.93 233.62,210.28 232.43,210.05 231.23,209.95 230.03,210.01 228.83,209.67 227.63,210.26 226.44,209.86 225.24,210.15 224.04,210.15 222.84,209.94 221.64,209.91 220.45,209.99 219.25,210.01 218.05,210.08 216.85,209.99 215.65,209.95 214.46,210.02 213.26,210.13 212.06,210.05 210.86,209.76 209.66,210.20 208.46,209.89 207.27,209.99 206.07,210.17 204.87,209.86 203.67,209.90 202.47,209.88 201.28,209.99 200.08,209.88 198.88,210.16 197.68,209.93 196.48,210.11 195.29,210.04 194.09,209.97 192.89,210.16 191.69,209.77 190.49,210.01 189.30,210.15 188.10,210.13 186.90,209.87 185.70,210.13 184.50,210.00 183.31,209.95 182.11,210.07 180.91,209.96 179.71,210.02 178.51,210.16 177.32,209.90 176.12,210.11 174.92,210.02 173.72,210.07 172.52,210.13 171.32,210.19 170.13,210.12 168.93,209.87 167.73,210.01 166.53,210.08 165.33,210.00 164.14,210.20 162.94,210.09 161.74,209.95 160.54,209.79 159.34,210.31 158.15,209.98 156.95,210.14 155.75,209.74 154.55,210.11 153.35,210.14 152.16,209.86 150.96,209.99 149.76,210.12 148.56,210.09 147.36,209.90 146.17,209.89 144.97,210.07 143.77,210.20 142.57,210.01 141.37,209.92 140.18,209.79 138.98,210.15 137.78,209.85 136.58,210.02 135.38,210.07 134.18,210.03 132.99,210.08 131.79,209.98 130.59,210.15 129.39,210.31 128.19,209.92 127.00,210.08 125.80,209.94 124.60,210.15 123.40,210.25 122.20,210.20 121.01,209.90 119.81,209.79 118.61,209.97 117.41,209.99 116.21,210.23 115.02,209.93 113.82,209.94 112.62,210.16 111.42,210.23 110.22,209.98 109.03,210.07 107.83,209.80 106.63,209.91 105.43,210.06 104.23,210.10 103.04,210.00 101.84,210.04 100.64,210.12 99.44,209.99 98.24,210.00 97.04,209.91 95.85,210.08 94.65,209.95 93.45,209.96 92.25,209.87 91.05,210.09 89.86,209.93 88.66,210.24 87.46,210.20 86.26,209.88 85.06,209.86 83.87,210.16 82.67,210.15 81.47,209.92 80.27,210.03 79.07,210.01 77.88,210.10 76.68,210.14 75.48,210.01 74.28,210.23 73.08,210.13 71.89,210.04 70.69,210.08 69.49,210.12 68.29,210.11 67.09,209.81 65.90,210.03 64.70,209.83 63.50,210.07" fill="#a8185f" fill-opacity="0.3" stroke="none"/><line x1="155.10" y1="217.57" x2="155.10" y2="138.67" stroke="#111" stroke-width="1.5" stroke-dasharray="5.4 5.5"/><polyline points="62.90,207.97 64.10,207.97 64.10,208.94 65.30,208.94 65.30,207.65 66.49,207.65 66.49,207.44 67.69,207.44 67.69,207.99 68.89,207.99 68.89,208.29 70.09,208.29 70.09,209.11 71.29,209.11 71.29,209.11 72.48,209.11 72.48,209.86 73.68,209.86 73.68,209.71 74.88,209.71 74.88,209.63 76.08,209.63 76.08,210.51 77.28,210.51 77.28,209.25 78.47,209.25 78.47,209.05 79.67,209.05 79.67,208.81 80.87,208.81 80.87,208.89 82.07,208.89 82.07,208.23 83.27,208.23 83.27,209.05 84.47,209.05 84.47,209.33 85.66,209.33 85.66,208.06 86.86,208.06 86.86,209.34 88.06,209.34 88.06,208.64 89.26,208.64 89.26,207.95 90.46,207.95 90.46,207.02 91.65,207.02 91.65,207.24 92.85,207.24 92.85,208.81 94.05,208.81 94.05,208.51 95.25,208.51 95.25,209.07 96.45,209.07 96.45,208.76 97.64,208.76 97.64,209.10 98.84,209.10 98.84,209.15 100.04,209.15 100.04,208.91 101.24,208.91 101.24,207.79 102.44,207.79 102.44,208.63 103.63,208.63 103.63,208.43 104.83,208.43 104.83,208.52 106.03,208.52 106.03,208.83 107.23,208.83 107.23,208.31 108.43,208.31 108.43,208.54 109.62,208.54 109.62,207.97 110.82,207.97 110.82,208.06 112.02,208.06 112.02,207.53 113.22,207.53 113.22,207.56 114.42,207.56 114.42,207.95 115.61,207.95 115.61,207.57 116.81,207.57 116.81,207.24 118.01,207.24 118.01,207.48 119.21,207.48 119.21,208.55 120.41,208.55 120.41,209.10 121.61,209.10 121.61,209.04 122.80,209.04 122.80,209.27 124.00,209.27 124.00,208.51 125.20,208.51 125.20,208.57 126.40,208.57 126.40,208.28 127.60,208.28 127.60,208.53 128.79,208.53 128.79,208.85 129.99,208.85 129.99,208.12 131.19,208.12 131.19,207.14 132.39,207.14 132.39,207.93 133.59,207.93 133.59,208.22 134.78,208.22 134.78,207.96 135.98,207.96 135.98,208.36 137.18,208.36 137.18,209.99 138.38,209.99 138.38,209.59 139.58,209.59 139.58,209.64 140.77,209.64 140.77,210.19 141.97,210.19 141.97,208.94 143.17,208.94 143.17,209.17 144.37,209.17 144.37,209.56 145.57,209.56 145.57,208.66 146.76,208.66 146.76,208.83 147.96,208.83 147.96,209.06 149.16,209.06 149.16,209.49 150.36,209.49 150.36,209.02 151.56,209.02 151.56,207.97 152.75,207.97 152.75,208.66 153.95,208.66 153.95,208.78 155.15,208.78 155.15,209.28 156.35,209.28 156.35,207.79 157.55,207.79 157.55,207.35 158.75,207.35 158.75,207.05 159.94,207.05 159.94,208.12 161.14,208.12 161.14,208.13 162.34,208.13 162.34,208.76 163.54,208.76 163.54,207.54 164.74,207.54 164.74,207.06 165.93,207.06 165.93,207.08 167.13,207.08 167.13,207.31 168.33,207.31 168.33,208.22 169.53,208.22 169.53,209.16 170.73,209.16 170.73,210.02 171.92,210.02 171.92,209.15 173.12,209.15 173.12,208.94 174.32,208.94 174.32,207.34 175.52,207.34 175.52,208.04 176.72,208.04 176.72,209.42 177.91,209.42 177.91,209.91 179.11,209.91 179.11,209.38 180.31,209.38 180.31,208.86 181.51,208.86 181.51,208.44 182.71,208.44 182.71,207.83 183.90,207.83 183.90,207.71 185.10,207.71 185.10,208.33 186.30,208.33 186.30,208.49 187.50,208.49 187.50,209.03 188.70,209.03 188.70,208.66 189.89,208.66 189.89,208.73 191.09,208.73 191.09,208.61 192.29,208.61 192.29,209.78 193.49,209.78 193.49,209.19 194.69,209.19 194.69,208.53 195.89,208.53 195.89,208.55 197.08,208.55 197.08,207.95 198.28,207.95 198.28,208.20 199.48,208.20 199.48,208.39 200.68,208.39 200.68,207.64 201.88,207.64 201.88,207.07 203.07,207.07 203.07,206.52 204.27,206.52 204.27,206.98 205.47,206.98 205.47,207.36 206.67,207.36 206.67,207.84 207.87,207.84 207.87,208.15 209.06,208.15 209.06,209.15 210.26,209.15 210.26,210.64 211.46,210.64 211.46,209.49 212.66,209.49 212.66,209.01 213.86,209.01 213.86,207.81 215.05,207.81 215.05,208.21 216.25,208.21 216.25,208.08 217.45,208.08 217.45,209.71 218.65,209.71 218.65,208.57 219.85,208.57 219.85,207.40 221.04,207.40 221.04,208.33 222.24,208.33 222.24,208.00 223.44,208.00 223.44,208.65 224.64,208.65 224.64,207.93 225.84,207.93 225.84,207.90 227.03,207.90 227.03,209.89 228.23,209.89 228.23,209.94 229.43,209.94 229.43,209.25 230.63,209.25 230.63,207.92 231.83,207.92 231.83,208.03 233.03,208.03 233.03,207.94 234.22,207.94 234.22,208.00 235.42,208.00 235.42,207.99 236.62,207.99 236.62,208.22 237.82,208.22 237.82,209.33 239.02,209.33 239.02,209.60 240.21,209.60 240.21,209.15 241.41,209.15 241.41,209.18 242.61,209.18 242.61,209.66 243.81,209.66 243.81,209.02 245.01,209.02 245.01,208.63 246.20,208.63 246.20,208.00 247.40,208.00 247.40,208.08 248.60,208.08" fill="none" stroke="#a8185f" stroke-width="1.75" stroke-linejoin="miter"/></g>
<rect x="53.90" y="138.67" width="203.65" height="78.90" fill="none" stroke="#262626" stroke-width="1.0"/>
<line x1="53.90" y1="165.00" x2="57.90" y2="165.00" stroke="#262626" stroke-width="1.1"/>
<text x="45.6" y="170.50" text-anchor="end" font-size="16.0" fill="#1e1e1e" textLength="9.1" lengthAdjust="spacingAndGlyphs">5</text>
<line x1="53.90" y1="208.80" x2="57.90" y2="208.80" stroke="#262626" stroke-width="1.1"/>
<text x="45.6" y="214.30" text-anchor="end" font-size="16.0" fill="#1e1e1e" textLength="10.5" lengthAdjust="spacingAndGlyphs">0</text>
<line x1="110.70" y1="217.57" x2="110.70" y2="213.57" stroke="#262626" stroke-width="1.1"/>
<text x="110.70" y="236.67" text-anchor="middle" font-size="16.0" fill="#1e1e1e" textLength="31.900000000000002" lengthAdjust="spacingAndGlyphs">0.85</text>
<line x1="201.40" y1="217.57" x2="201.40" y2="213.57" stroke="#262626" stroke-width="1.1"/>
<text x="201.40" y="236.67" text-anchor="middle" font-size="16.0" fill="#1e1e1e" textLength="33.5" lengthAdjust="spacingAndGlyphs">0.90</text>
<g clip-path="url(#cp11)"><polygon points="266.60,207.88 267.90,207.62 269.19,207.41 270.49,207.74 271.79,207.64 273.08,207.63 274.38,207.64 275.68,207.58 276.98,207.59 278.27,207.71 279.57,207.92 280.87,207.57 282.17,207.57 283.46,207.54 284.76,207.25 286.06,207.41 287.35,207.54 288.65,207.66 289.95,207.67 291.25,207.89 292.54,207.50 293.84,207.60 295.14,207.46 296.50,207.41 298.05,207.53 299.75,207.19 301.05,207.51 302.25,207.65 303.28,207.60 304.22,207.60 305.51,207.63 306.81,207.57 308.11,207.30 309.41,207.63 310.70,207.21 312.00,207.48 313.30,207.50 314.60,207.66 315.89,207.55 317.19,207.55 318.49,207.58 319.78,207.47 321.08,207.36 322.38,207.69 323.68,207.63 324.97,207.64 326.27,207.59 327.57,207.30 328.86,207.48 330.16,207.74 331.46,207.53 332.76,207.80 334.05,207.55 335.35,207.94 336.65,207.75 337.94,207.87 339.24,207.42 340.54,207.54 341.84,207.75 343.13,207.49 344.43,207.78 345.73,207.71 347.03,207.52 348.32,207.82 348.32,209.78 347.03,210.08 345.73,209.89 344.43,209.82 343.13,210.11 341.84,209.85 340.54,210.06 339.24,210.18 337.94,209.73 336.65,209.85 335.35,209.66 334.05,210.05 332.76,209.80 331.46,210.07 330.16,209.86 328.86,210.12 327.57,210.30 326.27,210.01 324.97,209.96 323.68,209.97 322.38,209.91 321.08,210.24 319.78,210.13 318.49,210.02 317.19,210.05 315.89,210.05 314.60,209.94 313.30,210.10 312.00,210.12 310.70,210.39 309.41,209.97 308.11,210.30 306.81,210.03 305.51,209.97 304.22,210.00 303.28,210.00 302.25,209.95 301.05,210.09 299.75,210.41 298.05,210.07 296.50,210.19 295.14,210.14 293.84,210.00 292.54,210.10 291.25,209.71 289.95,209.93 288.65,209.94 287.35,210.06 286.06,210.19 284.76,210.35 283.46,210.06 282.17,210.03 280.87,210.03 279.57,209.68 278.27,209.89 276.98,210.01 275.68,210.02 274.38,209.96 273.08,209.97 271.79,209.96 270.49,209.86 269.19,210.19 267.90,209.98 266.60,209.72" fill="#a8185f" fill-opacity="0.3" stroke="none"/><polygon points="435.23,207.57 436.53,207.69 437.83,207.43 439.13,207.55 440.42,207.40 441.72,207.51 443.02,207.52 444.32,207.58 445.61,207.61 446.91,207.72 448.21,207.62 449.50,207.79 450.80,207.44 450.80,210.16 449.50,209.81 448.21,209.98 446.91,209.88 445.61,209.99 444.32,210.02 443.02,210.08 441.72,210.09 440.42,210.20 439.13,210.05 437.83,210.17 436.53,209.91 435.23,210.03" fill="#a8185f" fill-opacity="0.3" stroke="none"/><line x1="298.70" y1="217.57" x2="298.70" y2="138.67" stroke="#111" stroke-width="1.5" stroke-dasharray="5.4 5.5"/><line x1="359.00" y1="217.57" x2="359.00" y2="138.67" stroke="#111" stroke-width="1.5" stroke-dasharray="5.4 5.5"/><line x1="388.20" y1="217.57" x2="388.20" y2="138.67" stroke="#111" stroke-width="1.5" stroke-dasharray="5.4 5.5"/><polyline points="265.95,207.67 267.25,207.67 267.25,208.51 268.54,208.51 268.54,209.16 269.84,209.16 269.84,209.17 271.14,209.17 271.14,208.97 272.44,208.97 272.44,209.17 273.73,209.17 273.73,209.50 275.03,209.50 275.03,209.56 276.33,209.56 276.33,209.16 277.62,209.16 277.62,209.35 278.92,209.35 278.92,209.49 280.22,209.49 280.22,208.88 281.52,208.88 281.52,209.06 282.81,209.06 282.81,208.62 284.11,208.62 284.11,208.03 285.41,208.03 285.41,207.59 286.71,207.59 286.71,207.37 288.00,207.37 288.00,207.96 289.30,207.96 289.30,208.66 290.60,208.66 290.60,208.98 291.89,208.98 291.89,209.19 293.19,209.19 293.19,208.62 294.49,208.62 294.49,208.11 295.80,208.11 295.80,203.50 297.20,203.50 297.20,189.40 298.90,189.40 298.90,190.10 300.60,190.10 300.60,203.50 301.50,203.50 301.50,206.40 303.00,206.40 303.00,206.99 303.57,206.99 303.57,208.65 304.87,208.65 304.87,209.71 306.16,209.71 306.16,209.89 307.46,209.89 307.46,208.91 308.76,208.91 308.76,208.47 310.05,208.47 310.05,208.34 311.35,208.34 311.35,209.02 312.65,209.02 312.65,210.03 313.95,210.03 313.95,210.05 315.24,210.05 315.24,209.80 316.54,209.80 316.54,209.04 317.84,209.04 317.84,208.93 319.14,208.93 319.14,208.71 320.43,208.71 320.43,208.13 321.73,208.13 321.73,206.96 323.03,206.96 323.03,206.79 324.32,206.79 324.32,206.71 325.62,206.71 325.62,207.01 326.92,207.01 326.92,208.37 328.22,208.37 328.22,208.11 329.51,208.11 329.51,207.61 330.81,207.61 330.81,206.82 332.11,206.82 332.11,207.93 333.40,207.93 333.40,208.72 334.70,208.72 334.70,208.36 336.00,208.36 336.00,208.09 337.30,208.09 337.30,207.83 338.59,207.83 338.59,208.51 339.89,208.51 339.89,209.24 341.19,209.24 341.19,209.81 342.48,209.81 342.48,210.39 343.78,210.39 343.78,209.71 345.08,209.71 345.08,209.06 346.38,209.06 346.38,208.41 347.67,208.41 347.67,208.12 349.60,208.12" fill="none" stroke="#a8185f" stroke-width="1.75" stroke-linejoin="miter"/><polyline points="434.20,207.44 435.88,207.44 435.88,207.50 437.18,207.50 437.18,208.58 438.48,208.58 438.48,209.37 439.78,209.37 439.78,208.86 441.07,208.86 441.07,209.05 442.37,209.05 442.37,209.52 443.67,209.52 443.67,209.94 444.96,209.94 444.96,209.75 446.26,209.75 446.26,208.49 447.56,208.49 447.56,207.28 448.86,207.28 448.86,207.34 450.15,207.34 450.15,207.54 451.45,207.54" fill="none" stroke="#a8185f" stroke-width="1.75" stroke-linejoin="miter"/></g>
<rect x="257.55" y="138.67" width="203.05" height="78.90" fill="none" stroke="#262626" stroke-width="1.0"/>
<line x1="257.55" y1="165.00" x2="261.55" y2="165.00" stroke="#262626" stroke-width="1.1"/>
<line x1="257.55" y1="208.80" x2="261.55" y2="208.80" stroke="#262626" stroke-width="1.1"/>
<line x1="301.70" y1="217.57" x2="301.70" y2="213.57" stroke="#262626" stroke-width="1.1"/>
<text x="301.70" y="236.67" text-anchor="middle" font-size="16.0" fill="#1e1e1e" textLength="29.5" lengthAdjust="spacingAndGlyphs">2.75</text>
<line x1="356.60" y1="217.57" x2="356.60" y2="213.57" stroke="#262626" stroke-width="1.1"/>
<text x="356.60" y="236.67" text-anchor="middle" font-size="16.0" fill="#1e1e1e" textLength="31.700000000000003" lengthAdjust="spacingAndGlyphs">2.80</text>
<line x1="411.50" y1="217.57" x2="411.50" y2="213.57" stroke="#262626" stroke-width="1.1"/>
<text x="411.50" y="236.67" text-anchor="middle" font-size="16.0" fill="#1e1e1e" textLength="30.3" lengthAdjust="spacingAndGlyphs">2.85</text>
<g clip-path="url(#cp12)"><polygon points="469.60,207.72 471.48,207.58 474.82,207.67 478.18,207.65 481.52,207.35 484.88,207.62 488.23,207.66 491.57,207.73 494.93,207.72 498.27,207.69 501.62,207.69 504.98,207.74 508.32,207.53 511.68,207.31 515.03,207.63 518.38,207.66 521.72,207.78 525.08,207.66 528.42,207.63 531.78,207.32 535.12,207.62 538.47,207.40 541.83,207.13 545.25,207.08 548.65,206.89 552.00,206.99 555.35,206.68 558.80,206.89 562.30,206.66 565.60,206.67 568.75,206.86 572.00,206.84 575.35,207.13 578.75,207.35 582.25,207.33 585.75,207.38 589.25,207.63 592.67,207.57 596.03,207.69 599.38,207.79 602.72,207.42 606.08,207.51 609.42,207.61 612.78,207.66 616.12,207.68 619.47,207.75 622.83,207.59 626.17,207.52 629.53,207.61 632.88,207.54 636.22,207.43 639.58,207.64 642.92,207.39 646.28,207.69 649.62,207.55 652.97,207.86 654.77,207.61 654.77,209.99 652.97,209.74 649.62,210.05 646.28,209.91 642.92,210.21 639.58,209.96 636.22,210.17 632.88,210.06 629.53,209.99 626.17,210.08 622.83,210.01 619.47,209.85 616.12,209.92 612.78,209.94 609.42,209.99 606.08,210.09 602.72,210.18 599.38,209.81 596.03,209.91 592.67,210.03 589.25,209.97 585.75,210.22 582.25,210.27 578.75,210.25 575.35,210.47 572.00,210.76 568.75,210.74 565.60,210.93 562.30,210.94 558.80,210.71 555.35,210.92 552.00,210.61 548.65,210.71 545.25,210.52 541.83,210.47 538.47,210.20 535.12,209.98 531.78,210.28 528.42,209.97 525.08,209.94 521.72,209.82 518.38,209.94 515.03,209.97 511.68,210.29 508.32,210.07 504.98,209.86 501.62,209.91 498.27,209.91 494.93,209.88 491.57,209.87 488.23,209.94 484.88,209.98 481.52,210.25 478.18,209.95 474.82,209.93 471.48,210.02 469.60,209.88" fill="#a8185f" fill-opacity="0.3" stroke="none"/><line x1="546.50" y1="217.57" x2="546.50" y2="138.67" stroke="#111" stroke-width="1.5" stroke-dasharray="5.4 5.5"/><line x1="561.50" y1="217.57" x2="561.50" y2="138.67" stroke="#111" stroke-width="1.5" stroke-dasharray="5.4 5.5"/><line x1="583.20" y1="217.57" x2="583.20" y2="138.67" stroke="#111" stroke-width="1.5" stroke-dasharray="5.4 5.5"/><polyline points="469.40,207.49 469.80,207.49 469.80,207.58 473.15,207.58 473.15,207.70 476.50,207.70 476.50,207.48 479.85,207.48 479.85,208.61 483.20,208.61 483.20,208.24 486.55,208.24 486.55,208.44 489.90,208.44 489.90,207.08 493.25,207.08 493.25,206.89 496.60,206.89 496.60,208.47 499.95,208.47 499.95,207.92 503.30,207.92 503.30,208.74 506.65,208.74 506.65,208.44 510.00,208.44 510.00,208.71 513.35,208.71 513.35,208.11 516.70,208.11 516.70,208.29 520.05,208.29 520.05,207.38 523.40,207.38 523.40,207.56 526.75,207.56 526.75,208.78 530.10,208.78 530.10,207.48 533.45,207.48 533.45,208.02 536.80,208.02 536.80,207.90 540.15,207.90 540.15,206.60 543.50,206.60 543.50,205.30 547.00,205.30 547.00,204.80 550.30,204.80 550.30,203.40 553.70,203.40 553.70,197.60 557.00,197.60 557.00,164.10 560.60,164.10 560.60,147.90 564.00,147.90 564.00,179.60 567.20,179.60 567.20,200.70 570.30,200.70 570.30,203.80 573.70,203.80 573.70,206.10 577.00,206.10 577.00,206.10 580.50,206.10 580.50,204.60 584.00,204.60 584.00,205.30 587.50,205.30 587.50,206.00 591.00,206.00 591.00,207.75 594.35,207.75 594.35,208.01 597.70,208.01 597.70,208.89 601.05,208.89 601.05,207.82 604.40,207.82 604.40,208.05 607.75,208.05 607.75,208.25 611.10,208.25 611.10,207.88 614.45,207.88 614.45,208.27 617.80,208.27 617.80,207.74 621.15,207.74 621.15,207.04 624.50,207.04 624.50,207.52 627.85,207.52 627.85,208.04 631.20,208.04 631.20,209.38 634.55,209.38 634.55,208.27 637.90,208.27 637.90,208.08 641.25,208.08 641.25,208.49 644.60,208.49 644.60,208.47 647.95,208.47 647.95,209.15 651.30,209.15 651.30,208.42 654.65,208.42 654.65,209.33 654.90,209.33" fill="none" stroke="#a8185f" stroke-width="1.75" stroke-linejoin="miter"/></g>
<rect x="460.60" y="138.67" width="203.30" height="78.90" fill="none" stroke="#262626" stroke-width="1.0"/>
<line x1="460.60" y1="165.00" x2="464.60" y2="165.00" stroke="#262626" stroke-width="1.1"/>
<line x1="460.60" y1="208.80" x2="464.60" y2="208.80" stroke="#262626" stroke-width="1.1"/>
<line x1="546.40" y1="217.57" x2="546.40" y2="213.57" stroke="#262626" stroke-width="1.1"/>
<text x="546.40" y="236.67" text-anchor="middle" font-size="16.0" fill="#1e1e1e" textLength="31.2" lengthAdjust="spacingAndGlyphs">3.70</text>
<line x1="638.30" y1="217.57" x2="638.30" y2="213.57" stroke="#262626" stroke-width="1.1"/>
<text x="638.30" y="236.67" text-anchor="middle" font-size="16.0" fill="#1e1e1e" textLength="29.8" lengthAdjust="spacingAndGlyphs">3.75</text>
<text x="63.4" y="156.87" font-size="15" font-style="italic" fill="#1e1e1e">z</text>
<text x="75.0" y="156.87" font-size="15" fill="#1e1e1e" textLength="7.8" lengthAdjust="spacingAndGlyphs">=</text>
<text x="86.7" y="156.87" font-size="15" fill="#1e1e1e" textLength="41.5" lengthAdjust="spacingAndGlyphs">4.649</text>
<text transform="translate(673.4,179.60) rotate(90)" text-anchor="middle" font-size="15.8" fill="#1e1e1e" textLength="36.8" lengthAdjust="spacingAndGlyphs">8083</text>
<g clip-path="url(#cp20)"><polygon points="63.55,311.83 64.85,312.37 66.15,312.06 67.45,311.90 68.74,311.38 70.04,312.24 71.34,311.67 72.64,311.99 73.94,312.22 75.24,311.60 76.54,312.22 77.83,312.18 79.13,311.64 80.43,311.71 81.73,312.43 83.03,312.25 84.33,311.77 85.63,312.10 86.92,312.16 88.22,311.83 89.52,311.96 90.82,312.40 92.12,311.55 93.42,311.75 94.72,311.93 96.01,311.35 97.31,311.69 98.61,311.97 99.91,312.40 101.21,311.66 102.51,311.52 103.81,312.23 105.10,312.23 106.40,311.68 107.70,312.17 109.00,311.81 110.30,311.74 111.60,312.19 112.90,312.48 114.19,311.48 115.49,312.23 116.79,312.08 118.09,311.60 119.39,312.16 120.69,312.47 121.99,312.23 123.28,311.90 124.58,312.01 125.88,311.74 127.18,311.71 128.48,312.06 129.78,312.22 131.08,312.08 132.38,312.36 133.67,312.23 134.97,311.79 136.27,311.75 137.57,311.90 138.87,312.52 140.17,311.93 141.47,312.37 142.76,312.28 144.06,311.72 145.36,312.29 146.66,311.55 147.96,311.83 149.26,312.02 150.56,312.43 151.85,312.04 153.15,311.86 154.45,311.70 155.75,312.31 157.05,311.73 158.35,311.93 159.65,311.86 160.94,312.25 162.24,312.06 163.54,311.60 164.84,311.82 166.14,312.48 167.44,311.59 168.74,312.02 170.03,311.31 171.33,311.40 172.63,312.25 173.93,311.96 175.23,312.21 176.53,312.21 177.83,312.65 179.12,311.80 180.42,312.06 181.72,312.60 183.02,312.51 184.32,311.53 185.62,311.93 186.92,312.30 188.22,312.15 189.51,311.59 190.81,312.38 192.11,311.66 193.41,311.85 194.71,311.47 196.01,312.22 197.31,311.70 198.60,311.67 199.90,311.92 201.20,311.56 202.50,311.66 203.80,311.85 205.10,311.75 206.40,311.93 207.69,311.32 208.99,312.18 210.29,311.89 211.59,311.95 212.89,311.80 214.19,311.76 215.49,311.88 216.78,312.16 218.08,311.75 219.38,311.91 220.68,312.03 221.98,312.00 223.28,312.09 224.58,312.03 225.87,312.21 227.17,311.87 228.47,311.78 229.77,311.70 231.07,312.26 232.37,311.75 233.67,312.25 234.96,311.53 236.26,312.25 237.56,311.19 238.86,311.82 240.16,311.76 241.46,312.02 242.76,312.00 244.05,312.24 245.35,311.86 246.65,311.71 247.95,312.20 247.95,316.40 246.65,316.89 245.35,316.74 244.05,316.36 242.76,316.60 241.46,316.58 240.16,316.84 238.86,316.78 237.56,317.41 236.26,316.35 234.96,317.07 233.67,316.35 232.37,316.85 231.07,316.34 229.77,316.90 228.47,316.82 227.17,316.73 225.87,316.39 224.58,316.57 223.28,316.51 221.98,316.60 220.68,316.57 219.38,316.69 218.08,316.85 216.78,316.44 215.49,316.72 214.19,316.84 212.89,316.80 211.59,316.65 210.29,316.71 208.99,316.42 207.69,317.28 206.40,316.67 205.10,316.85 203.80,316.75 202.50,316.94 201.20,317.04 199.90,316.68 198.60,316.93 197.31,316.90 196.01,316.38 194.71,317.13 193.41,316.75 192.11,316.94 190.81,316.22 189.51,317.01 188.22,316.45 186.92,316.30 185.62,316.67 184.32,317.07 183.02,316.09 181.72,316.00 180.42,316.54 179.12,316.80 177.83,315.95 176.53,316.39 175.23,316.39 173.93,316.64 172.63,316.35 171.33,317.20 170.03,317.29 168.74,316.58 167.44,317.01 166.14,316.12 164.84,316.78 163.54,317.00 162.24,316.54 160.94,316.35 159.65,316.74 158.35,316.67 157.05,316.87 155.75,316.29 154.45,316.90 153.15,316.74 151.85,316.56 150.56,316.17 149.26,316.58 147.96,316.77 146.66,317.05 145.36,316.31 144.06,316.88 142.76,316.32 141.47,316.23 140.17,316.67 138.87,316.08 137.57,316.70 136.27,316.85 134.97,316.81 133.67,316.37 132.38,316.24 131.08,316.52 129.78,316.38 128.48,316.54 127.18,316.89 125.88,316.86 124.58,316.59 123.28,316.70 121.99,316.37 120.69,316.13 119.39,316.44 118.09,317.00 116.79,316.52 115.49,316.37 114.19,317.12 112.90,316.12 111.60,316.41 110.30,316.86 109.00,316.79 107.70,316.43 106.40,316.92 105.10,316.37 103.81,316.37 102.51,317.08 101.21,316.94 99.91,316.20 98.61,316.63 97.31,316.91 96.01,317.25 94.72,316.67 93.42,316.85 92.12,317.05 90.82,316.20 89.52,316.64 88.22,316.77 86.92,316.44 85.63,316.50 84.33,316.83 83.03,316.35 81.73,316.17 80.43,316.89 79.13,316.96 77.83,316.42 76.54,316.38 75.24,317.00 73.94,316.38 72.64,316.61 71.34,316.93 70.04,316.36 68.74,317.22 67.45,316.70 66.15,316.54 64.85,316.23 63.55,316.77" fill="#861d74" fill-opacity="0.3" stroke="none"/><line x1="155.70" y1="330.77" x2="155.70" y2="251.87" stroke="#111" stroke-width="1.5" stroke-dasharray="5.4 5.5"/><polyline points="62.90,313.67 64.20,313.67 64.20,310.03 65.50,310.03 65.50,312.61 66.80,312.61 66.80,314.16 68.09,314.16 68.09,316.19 69.39,316.19 69.39,313.81 70.69,313.81 70.69,314.33 71.99,314.33 71.99,313.89 73.29,313.89 73.29,311.66 74.59,311.66 74.59,312.19 75.89,312.19 75.89,313.17 77.18,313.17 77.18,314.35 78.48,314.35 78.48,315.40 79.78,315.40 79.78,314.29 81.08,314.29 81.08,314.59 82.38,314.59 82.38,314.05 83.68,314.05 83.68,308.86 84.98,308.86 84.98,312.87 86.27,312.87 86.27,316.19 87.57,316.19 87.57,313.69 88.87,313.69 88.87,311.38 90.17,311.38 90.17,312.43 91.47,312.43 91.47,314.58 92.77,314.58 92.77,314.04 94.07,314.04 94.07,315.91 95.37,315.91 95.37,314.11 96.66,314.11 96.66,313.96 97.96,313.96 97.96,315.59 99.26,315.59 99.26,315.06 100.56,315.06 100.56,315.78 101.86,315.78 101.86,316.04 103.16,316.04 103.16,315.83 104.46,315.83 104.46,314.30 105.75,314.30 105.75,311.75 107.05,311.75 107.05,312.30 108.35,312.30 108.35,312.72 109.65,312.72 109.65,314.10 110.95,314.10 110.95,315.12 112.25,315.12 112.25,313.02 113.55,313.02 113.55,314.51 114.84,314.51 114.84,312.41 116.14,312.41 116.14,315.49 117.44,315.49 117.44,312.67 118.74,312.67 118.74,314.53 120.04,314.53 120.04,311.66 121.34,311.66 121.34,312.48 122.64,312.48 122.64,315.29 123.93,315.29 123.93,315.06 125.23,315.06 125.23,315.67 126.53,315.67 126.53,311.09 127.83,311.09 127.83,315.17 129.13,315.17 129.13,315.41 130.43,315.41 130.43,313.46 131.73,313.46 131.73,312.36 133.02,312.36 133.02,314.96 134.32,314.96 134.32,314.54 135.62,314.54 135.62,313.46 136.92,313.46 136.92,316.44 138.22,316.44 138.22,313.27 139.52,313.27 139.52,313.42 140.82,313.42 140.82,315.45 142.11,315.45 142.11,313.22 143.41,313.22 143.41,313.93 144.71,313.93 144.71,314.60 146.01,314.60 146.01,312.81 147.31,312.81 147.31,314.57 148.61,314.57 148.61,310.98 149.91,310.98 149.91,314.05 151.20,314.05 151.20,315.25 152.50,315.25 152.50,314.18 153.80,314.18 153.80,312.14 155.10,312.14 155.10,311.46 156.40,311.46 156.40,312.28 157.70,312.28 157.70,314.61 159.00,314.61 159.00,313.18 160.30,313.18 160.30,314.11 161.59,314.11 161.59,314.21 162.89,314.21 162.89,315.92 164.19,315.92 164.19,314.46 165.49,314.46 165.49,314.07 166.79,314.07 166.79,316.06 168.09,316.06 168.09,314.90 169.39,314.90 169.39,314.54 170.68,314.54 170.68,313.57 171.98,313.57 171.98,315.79 173.28,315.79 173.28,313.33 174.58,313.33 174.58,315.98 175.88,315.98 175.88,315.08 177.18,315.08 177.18,314.68 178.48,314.68 178.48,311.82 179.77,311.82 179.77,311.66 181.07,311.66 181.07,313.68 182.37,313.68 182.37,314.89 183.67,314.89 183.67,311.92 184.97,311.92 184.97,312.85 186.27,312.85 186.27,312.98 187.57,312.98 187.57,315.99 188.86,315.99 188.86,312.43 190.16,312.43 190.16,315.94 191.46,315.94 191.46,315.18 192.76,315.18 192.76,314.84 194.06,314.84 194.06,315.78 195.36,315.78 195.36,312.64 196.66,312.64 196.66,313.45 197.95,313.45 197.95,309.71 199.25,309.71 199.25,310.62 200.55,310.62 200.55,314.91 201.85,314.91 201.85,315.45 203.15,315.45 203.15,315.64 204.45,315.64 204.45,316.64 205.75,316.64 205.75,313.53 207.04,313.53 207.04,317.15 208.34,317.15 208.34,314.75 209.64,314.75 209.64,316.80 210.94,316.80 210.94,314.11 212.24,314.11 212.24,313.84 213.54,313.84 213.54,313.98 214.84,313.98 214.84,313.08 216.13,313.08 216.13,311.12 217.43,311.12 217.43,314.83 218.73,314.83 218.73,312.60 220.03,312.60 220.03,313.56 221.33,313.56 221.33,315.43 222.63,315.43 222.63,314.31 223.93,314.31 223.93,315.04 225.23,315.04 225.23,314.14 226.52,314.14 226.52,312.27 227.82,312.27 227.82,312.66 229.12,312.66 229.12,311.62 230.42,311.62 230.42,308.96 231.72,308.96 231.72,312.04 233.02,312.04 233.02,313.41 234.32,313.41 234.32,314.25 235.61,314.25 235.61,316.04 236.91,316.04 236.91,313.54 238.21,313.54 238.21,312.02 239.51,312.02 239.51,314.00 240.81,314.00 240.81,315.18 242.11,315.18 242.11,314.60 243.41,314.60 243.41,316.09 244.70,316.09 244.70,313.81 246.00,313.81 246.00,314.49 247.30,314.49 247.30,312.27 248.60,312.27" fill="none" stroke="#861d74" stroke-width="1.75" stroke-linejoin="miter"/></g>
<rect x="53.90" y="251.87" width="203.65" height="78.90" fill="none" stroke="#262626" stroke-width="1.0"/>
<line x1="53.90" y1="270.40" x2="57.90" y2="270.40" stroke="#262626" stroke-width="1.1"/>
<text x="45.6" y="275.90" text-anchor="end" font-size="16.0" fill="#1e1e1e" textLength="9.1" lengthAdjust="spacingAndGlyphs">5</text>
<line x1="53.90" y1="314.30" x2="57.90" y2="314.30" stroke="#262626" stroke-width="1.1"/>
<text x="45.6" y="319.80" text-anchor="end" font-size="16.0" fill="#1e1e1e" textLength="10.5" lengthAdjust="spacingAndGlyphs">0</text>
<line x1="102.70" y1="330.77" x2="102.70" y2="326.77" stroke="#262626" stroke-width="1.1"/>
<text x="102.70" y="349.97" text-anchor="middle" font-size="16.0" fill="#1e1e1e" textLength="31.900000000000002" lengthAdjust="spacingAndGlyphs">0.85</text>
<line x1="192.90" y1="330.77" x2="192.90" y2="326.77" stroke="#262626" stroke-width="1.1"/>
<text x="192.90" y="349.97" text-anchor="middle" font-size="16.0" fill="#1e1e1e" textLength="33.5" lengthAdjust="spacingAndGlyphs">0.90</text>
<g clip-path="url(#cp21)"><polygon points="266.65,311.95 268.04,311.92 269.44,311.51 270.83,312.00 272.23,311.71 273.62,312.05 275.02,312.53 276.41,311.79 277.81,312.22 279.20,312.01 280.59,311.86 281.99,311.92 283.38,312.13 284.78,311.65 286.17,311.91 287.57,311.80 288.96,311.17 290.36,312.00 291.75,311.74 293.15,311.79 294.54,312.33 296.02,312.02 298.55,311.77 300.80,311.47 302.75,311.86 304.65,311.92 305.75,312.23 307.09,311.83 308.49,311.49 309.88,311.88 311.28,312.26 312.67,311.99 314.07,312.04 315.46,311.81 316.86,311.99 318.25,312.52 319.65,312.14 321.04,311.95 322.44,311.89 323.83,311.91 325.23,312.15 326.62,311.80 328.02,311.73 329.41,312.01 330.81,311.92 332.20,312.28 333.59,312.33 334.99,312.10 336.38,312.14 337.78,311.96 339.17,312.65 340.57,312.19 341.96,312.36 343.36,312.25 344.75,311.95 346.15,311.52 347.54,312.01 348.94,312.04 350.33,312.08 351.73,311.51 353.12,312.42 354.52,311.58 356.01,311.33 357.40,311.89 358.85,311.84 360.35,311.74 361.60,311.69 362.89,311.48 364.28,312.09 365.67,312.67 367.07,312.05 368.46,311.98 369.86,312.37 371.25,312.69 372.65,312.15 374.04,312.39 375.44,312.03 376.83,311.82 378.23,311.94 379.62,312.21 381.02,312.26 382.41,312.47 383.81,311.82 385.30,311.95 386.75,311.83 387.95,311.49 389.40,310.96 390.95,310.86 392.30,311.20 393.65,311.94 394.98,311.76 396.36,312.09 397.75,311.77 399.15,312.22 400.54,312.40 401.94,311.70 403.33,311.81 404.73,312.30 406.12,312.02 407.52,311.36 408.91,312.69 410.31,312.13 411.70,311.99 413.09,312.13 414.49,311.99 414.49,316.61 413.09,316.47 411.70,316.61 410.31,316.47 408.91,315.91 407.52,317.24 406.12,316.58 404.73,316.30 403.33,316.79 401.94,316.90 400.54,316.20 399.15,316.38 397.75,316.83 396.36,316.51 394.98,316.84 393.65,316.66 392.30,317.40 390.95,317.74 389.40,317.64 387.95,317.11 386.75,316.77 385.30,316.65 383.81,316.78 382.41,316.13 381.02,316.34 379.62,316.39 378.23,316.66 376.83,316.78 375.44,316.57 374.04,316.21 372.65,316.45 371.25,315.91 369.86,316.23 368.46,316.62 367.07,316.55 365.67,315.93 364.28,316.51 362.89,317.12 361.60,316.91 360.35,316.86 358.85,316.76 357.40,316.71 356.01,317.27 354.52,317.02 353.12,316.18 351.73,317.09 350.33,316.52 348.94,316.56 347.54,316.59 346.15,317.08 344.75,316.65 343.36,316.35 341.96,316.24 340.57,316.41 339.17,315.95 337.78,316.64 336.38,316.46 334.99,316.50 333.59,316.27 332.20,316.32 330.81,316.68 329.41,316.59 328.02,316.87 326.62,316.80 325.23,316.45 323.83,316.69 322.44,316.71 321.04,316.65 319.65,316.46 318.25,316.08 316.86,316.61 315.46,316.79 314.07,316.56 312.67,316.61 311.28,316.34 309.88,316.72 308.49,317.11 307.09,316.77 305.75,316.37 304.65,316.68 302.75,316.74 300.80,317.13 298.55,316.83 296.02,316.58 294.54,316.27 293.15,316.81 291.75,316.86 290.36,316.60 288.96,317.43 287.57,316.80 286.17,316.69 284.78,316.95 283.38,316.47 281.99,316.68 280.59,316.74 279.20,316.59 277.81,316.38 276.41,316.81 275.02,316.07 273.62,316.55 272.23,316.89 270.83,316.60 269.44,317.09 268.04,316.68 266.65,316.65" fill="#861d74" fill-opacity="0.3" stroke="none"/><polygon points="417.28,312.09 418.67,312.11 420.07,312.43 421.46,312.34 422.86,312.30 424.25,311.92 425.65,312.05 427.04,312.22 428.44,311.73 429.83,311.83 431.23,312.33 432.62,312.06 434.02,311.81 435.41,312.45 436.81,312.10 438.20,312.22 439.59,311.83 440.99,311.56 442.38,311.96 443.78,312.22 445.17,312.08 446.57,312.09 447.96,312.40 449.36,311.95 450.75,312.05 450.75,316.55 449.36,316.65 447.96,316.20 446.57,316.51 445.17,316.52 443.78,316.38 442.38,316.64 440.99,317.04 439.59,316.77 438.20,316.38 436.81,316.50 435.41,316.15 434.02,316.79 432.62,316.54 431.23,316.27 429.83,316.77 428.44,316.87 427.04,316.38 425.65,316.55 424.25,316.68 422.86,316.30 421.46,316.26 420.07,316.17 418.67,316.49 417.28,316.51" fill="#861d74" fill-opacity="0.3" stroke="none"/><line x1="298.50" y1="330.77" x2="298.50" y2="251.87" stroke="#111" stroke-width="1.5" stroke-dasharray="5.4 5.5"/><line x1="358.60" y1="330.77" x2="358.60" y2="251.87" stroke="#111" stroke-width="1.5" stroke-dasharray="5.4 5.5"/><line x1="388.70" y1="330.77" x2="388.70" y2="251.87" stroke="#111" stroke-width="1.5" stroke-dasharray="5.4 5.5"/><polyline points="265.95,315.29 267.34,315.29 267.34,314.98 268.74,314.98 268.74,314.20 270.13,314.20 270.13,311.53 271.53,311.53 271.53,310.72 272.92,310.72 272.92,312.63 274.32,312.63 274.32,313.34 275.71,313.34 275.71,312.43 277.11,312.43 277.11,311.25 278.50,311.25 278.50,315.51 279.90,315.51 279.90,313.51 281.29,313.51 281.29,314.05 282.69,314.05 282.69,312.37 284.08,312.37 284.08,317.28 285.48,317.28 285.48,316.14 286.87,316.14 286.87,315.76 288.27,315.76 288.27,314.30 289.66,314.30 289.66,314.67 291.06,314.67 291.06,312.96 292.45,312.96 292.45,312.34 293.84,312.34 293.84,311.76 295.24,311.76 295.24,313.06 296.80,313.06 296.80,297.70 300.30,297.70 300.30,309.30 301.30,309.30 301.30,310.70 304.20,310.70 304.20,316.00 305.10,316.00 305.10,313.82 306.40,313.82 306.40,313.43 307.79,313.43 307.79,313.99 309.19,313.99 309.19,313.15 310.58,313.15 310.58,310.92 311.98,310.92 311.98,312.45 313.37,312.45 313.37,317.80 314.77,317.80 314.77,315.47 316.16,315.47 316.16,316.66 317.56,316.66 317.56,318.21 318.95,318.21 318.95,312.97 320.34,312.97 320.34,313.26 321.74,313.26 321.74,312.70 323.13,312.70 323.13,314.12 324.53,314.12 324.53,316.08 325.92,316.08 325.92,313.48 327.32,313.48 327.32,313.43 328.71,313.43 328.71,313.76 330.11,313.76 330.11,315.70 331.50,315.70 331.50,315.45 332.90,315.45 332.90,312.52 334.29,312.52 334.29,311.85 335.69,311.85 335.69,312.15 337.08,312.15 337.08,312.44 338.48,312.44 338.48,313.20 339.87,313.20 339.87,311.20 341.27,311.20 341.27,312.01 342.66,312.01 342.66,311.84 344.06,311.84 344.06,313.99 345.45,313.99 345.45,315.72 346.84,315.72 346.84,317.06 348.24,317.06 348.24,316.62 349.63,316.62 349.63,313.20 351.03,313.20 351.03,312.80 352.42,312.80 352.42,314.61 353.82,314.61 353.82,313.18 355.21,313.18 355.21,315.98 356.80,315.98 356.80,305.70 358.00,305.70 358.00,285.60 359.70,285.60 359.70,291.40 361.00,291.40 361.00,312.00 362.20,312.00 362.20,316.60 363.58,316.60 363.58,314.24 364.98,314.24 364.98,314.06 366.37,314.06 366.37,314.76 367.77,314.76 367.77,317.92 369.16,317.92 369.16,314.65 370.56,314.65 370.56,313.95 371.95,313.95 371.95,311.19 373.34,311.19 373.34,314.31 374.74,314.31 374.74,312.27 376.13,312.27 376.13,311.39 377.53,311.39 377.53,314.22 378.92,314.22 378.92,312.87 380.32,312.87 380.32,313.27 381.71,313.27 381.71,313.81 383.11,313.81 383.11,312.82 384.50,312.82 384.50,311.86 386.10,311.86 386.10,302.40 387.40,302.40 387.40,269.60 388.50,269.60 388.50,219.30 390.30,219.30 390.30,281.80 391.60,281.80 391.60,306.60 393.00,306.60 393.00,316.60 394.30,316.60 394.30,315.71 395.66,315.71 395.66,312.92 397.06,312.92 397.06,313.48 398.45,313.48 398.45,311.99 399.84,311.99 399.84,315.47 401.24,315.47 401.24,314.03 402.63,314.03 402.63,315.65 404.03,315.65 404.03,314.74 405.42,314.74 405.42,314.51 406.82,314.51 406.82,312.86 408.21,312.86 408.21,314.01 409.61,314.01 409.61,315.95 411.00,315.95 411.00,312.43 412.40,312.43 412.40,313.63 413.79,313.63 413.79,315.11 415.80,315.11" fill="none" stroke="#861d74" stroke-width="1.75" stroke-linejoin="miter"/><polyline points="417.00,315.13 417.98,315.13 417.98,313.99 419.37,313.99 419.37,313.66 420.77,313.66 420.77,314.93 422.16,314.93 422.16,312.72 423.56,312.72 423.56,315.20 424.95,315.20 424.95,313.09 426.34,313.09 426.34,313.75 427.74,313.75 427.74,313.83 429.13,313.83 429.13,313.81 430.53,313.81 430.53,314.23 431.92,314.23 431.92,315.50 433.32,315.50 433.32,315.75 434.71,315.75 434.71,313.68 436.11,313.68 436.11,313.00 437.50,313.00 437.50,313.76 438.90,313.76 438.90,312.42 440.29,312.42 440.29,314.70 441.69,314.70 441.69,316.33 443.08,316.33 443.08,312.65 444.48,312.65 444.48,312.42 445.87,312.42 445.87,311.47 447.27,311.47 447.27,316.00 448.66,316.00 448.66,314.14 450.06,314.14 450.06,315.00 451.45,315.00" fill="none" stroke="#861d74" stroke-width="1.75" stroke-linejoin="miter"/></g>
<rect x="257.55" y="251.87" width="203.05" height="78.90" fill="none" stroke="#262626" stroke-width="1.0"/>
<line x1="257.55" y1="270.40" x2="261.55" y2="270.40" stroke="#262626" stroke-width="1.1"/>
<line x1="257.55" y1="314.30" x2="261.55" y2="314.30" stroke="#262626" stroke-width="1.1"/>
<line x1="306.50" y1="330.77" x2="306.50" y2="326.77" stroke="#262626" stroke-width="1.1"/>
<text x="306.50" y="349.97" text-anchor="middle" font-size="16.0" fill="#1e1e1e" textLength="29.0" lengthAdjust="spacingAndGlyphs">2.77</text>
<line x1="359.20" y1="330.77" x2="359.20" y2="326.77" stroke="#262626" stroke-width="1.1"/>
<text x="359.20" y="349.97" text-anchor="middle" font-size="16.0" fill="#1e1e1e" textLength="30.1" lengthAdjust="spacingAndGlyphs">2.82</text>
<line x1="416.00" y1="330.77" x2="416.00" y2="326.77" stroke="#262626" stroke-width="1.1"/>
<text x="416.00" y="349.97" text-anchor="middle" font-size="16.0" fill="#1e1e1e" textLength="29.8" lengthAdjust="spacingAndGlyphs">2.87</text>
<g clip-path="url(#cp22)"><polygon points="470.75,312.47 473.80,312.52 477.20,311.50 480.60,312.12 484.00,311.94 487.40,312.45 490.80,312.42 494.20,312.28 497.60,312.03 500.90,312.07 504.30,312.49 507.80,312.36 511.20,312.33 514.60,312.28 518.00,312.36 521.40,312.33 523.55,312.19 525.85,312.25 528.80,312.68 531.60,312.76 535.00,312.53 538.40,312.27 541.80,312.25 545.55,311.73 548.95,312.10 551.85,311.35 555.20,311.14 558.60,311.48 561.90,311.88 565.40,311.31 568.85,311.31 572.15,311.74 575.55,311.73 578.90,311.83 582.05,311.59 585.30,311.97 588.50,312.29 591.75,312.46 595.20,312.36 598.60,312.11 602.00,312.38 605.40,311.84 608.80,312.80 610.90,312.18 612.95,312.45 615.95,312.15 619.00,312.56 622.40,312.26 625.80,312.47 629.20,312.03 632.60,312.46 636.00,311.98 638.10,312.27 640.15,312.44 643.15,312.34 646.20,312.30 649.60,312.06 653.10,312.50 653.10,316.10 649.60,316.54 646.20,316.30 643.15,316.26 640.15,316.16 638.10,316.33 636.00,316.62 632.60,316.14 629.20,316.57 625.80,316.13 622.40,316.34 619.00,316.04 615.95,316.45 612.95,316.15 610.90,316.42 608.80,315.80 605.40,316.76 602.00,316.22 598.60,316.49 595.20,316.24 591.75,316.14 588.50,316.31 585.30,316.63 582.05,317.01 578.90,316.77 575.55,316.87 572.15,316.86 568.85,317.29 565.40,317.29 561.90,316.72 558.60,317.12 555.20,317.46 551.85,317.25 548.95,316.50 545.55,316.87 541.80,316.35 538.40,316.33 535.00,316.07 531.60,315.84 528.80,315.92 525.85,316.35 523.55,316.41 521.40,316.27 518.00,316.24 514.60,316.32 511.20,316.27 507.80,316.24 504.30,316.11 500.90,316.53 497.60,316.57 494.20,316.32 490.80,316.18 487.40,316.15 484.00,316.66 480.60,316.48 477.20,317.10 473.80,316.08 470.75,316.13" fill="#861d74" fill-opacity="0.3" stroke="none"/><line x1="548.80" y1="330.77" x2="548.80" y2="251.87" stroke="#111" stroke-width="1.5" stroke-dasharray="5.4 5.5"/><line x1="563.60" y1="330.77" x2="563.60" y2="251.87" stroke="#111" stroke-width="1.5" stroke-dasharray="5.4 5.5"/><line x1="585.80" y1="330.77" x2="585.80" y2="251.87" stroke="#111" stroke-width="1.5" stroke-dasharray="5.4 5.5"/><polyline points="469.40,314.11 472.10,314.11 472.10,315.74 475.50,315.74 475.50,311.59 478.90,311.59 478.90,315.44 482.30,315.44 482.30,315.40 485.70,315.40 485.70,313.21 489.10,313.21 489.10,312.97 492.50,312.97 492.50,314.82 495.90,314.82 495.90,315.55 499.30,315.55 499.30,317.31 502.50,317.31 502.50,310.50 506.10,310.50 506.10,314.65 509.50,314.65 509.50,315.41 512.90,315.41 512.90,313.36 516.30,313.36 516.30,312.28 519.70,312.28 519.70,313.42 523.10,313.42 523.10,313.97 524.00,313.97 524.00,319.70 527.70,319.70 527.70,312.24 529.90,312.24 529.90,313.02 533.30,313.02 533.30,313.37 536.70,313.37 536.70,314.95 540.10,314.95 540.10,314.38 543.50,314.38 543.50,312.40 547.60,312.40 547.60,314.20 550.30,314.20 550.30,309.20 553.40,309.20 553.40,307.40 557.00,307.40 557.00,302.50 560.20,302.50 560.20,284.00 563.60,284.00 563.60,260.40 567.20,260.40 567.20,284.50 570.50,284.50 570.50,303.50 573.80,303.50 573.80,308.30 577.30,308.30 577.30,311.30 580.50,311.30 580.50,311.30 583.60,311.30 583.60,309.20 587.00,309.20 587.00,309.30 590.00,309.30 590.00,311.90 593.50,311.90 593.50,313.64 596.90,313.64 596.90,313.86 600.30,313.86 600.30,314.23 603.70,314.23 603.70,313.64 607.10,313.64 607.10,315.84 610.50,315.84 610.50,314.23 611.30,314.23 611.30,309.80 614.60,309.80 614.60,313.57 617.30,313.57 617.30,314.64 620.70,314.64 620.70,315.99 624.10,315.99 624.10,314.43 627.50,314.43 627.50,315.29 630.90,315.29 630.90,316.07 634.30,316.07 634.30,314.13 637.70,314.13 637.70,314.34 638.50,314.34 638.50,311.30 641.80,311.30 641.80,312.58 644.50,312.58 644.50,312.74 647.90,312.74 647.90,313.12 651.30,313.12 651.30,315.42 654.90,315.42" fill="none" stroke="#861d74" stroke-width="1.75" stroke-linejoin="miter"/></g>
<rect x="460.60" y="251.87" width="203.30" height="78.90" fill="none" stroke="#262626" stroke-width="1.0"/>
<line x1="460.60" y1="270.40" x2="464.60" y2="270.40" stroke="#262626" stroke-width="1.1"/>
<line x1="460.60" y1="314.30" x2="464.60" y2="314.30" stroke="#262626" stroke-width="1.1"/>
<line x1="510.40" y1="330.77" x2="510.40" y2="326.77" stroke="#262626" stroke-width="1.1"/>
<text x="510.40" y="349.97" text-anchor="middle" font-size="16.0" fill="#1e1e1e" textLength="31.2" lengthAdjust="spacingAndGlyphs">3.70</text>
<line x1="602.20" y1="330.77" x2="602.20" y2="326.77" stroke="#262626" stroke-width="1.1"/>
<text x="602.20" y="349.97" text-anchor="middle" font-size="16.0" fill="#1e1e1e" textLength="29.8" lengthAdjust="spacingAndGlyphs">3.75</text>
<text x="63.4" y="270.07" font-size="15" font-style="italic" fill="#1e1e1e">z</text>
<text x="75.0" y="270.07" font-size="15" fill="#1e1e1e" textLength="7.8" lengthAdjust="spacingAndGlyphs">=</text>
<text x="86.7" y="270.07" font-size="15" fill="#1e1e1e" textLength="37.5" lengthAdjust="spacingAndGlyphs">4.681</text>
<text transform="translate(673.4,288.10) rotate(90)" text-anchor="middle" font-size="15.8" fill="#1e1e1e" textLength="41.6" lengthAdjust="spacingAndGlyphs">20621</text>
<g clip-path="url(#cp30)"><polygon points="63.45,430.61 64.55,430.70 65.65,430.71 66.75,430.91 67.84,430.57 68.94,431.17 70.04,430.58 71.14,430.72 72.24,430.76 73.34,430.86 74.44,430.84 75.54,430.78 76.64,430.55 77.73,430.83 78.83,430.81 79.93,430.58 81.03,430.64 82.13,430.45 83.23,430.53 84.33,430.87 85.43,430.72 86.52,430.54 87.62,430.90 88.72,430.75 89.82,430.79 90.92,431.07 92.02,430.74 93.12,430.73 94.22,430.65 95.32,430.75 96.41,430.60 97.51,430.67 98.61,430.66 99.71,430.87 100.81,430.94 101.91,430.58 103.01,430.95 104.11,430.74 105.20,430.83 106.30,430.97 107.40,430.73 108.50,430.54 109.60,430.54 110.70,430.40 111.80,431.03 112.90,430.95 113.99,430.59 115.09,430.71 116.19,430.54 117.29,430.77 118.39,430.85 119.49,430.92 120.59,430.53 121.69,430.44 122.79,430.82 123.88,430.58 124.98,431.07 126.08,430.56 127.18,430.55 128.28,430.75 129.38,430.54 130.48,430.89 131.58,430.64 132.67,430.77 133.77,430.84 134.87,430.44 135.97,430.80 137.07,431.09 138.17,430.84 139.27,430.47 140.37,430.72 141.47,430.98 142.56,430.86 143.66,430.55 144.76,430.61 145.86,430.91 146.96,430.64 148.06,430.68 149.16,430.66 150.26,430.78 151.35,430.55 152.45,430.82 153.55,430.74 154.65,430.67 155.75,430.79 156.85,430.68 157.95,430.59 159.05,430.46 160.15,430.58 161.24,430.59 162.34,430.84 163.44,430.65 164.54,430.41 165.64,430.55 166.74,430.52 167.84,430.88 168.94,430.75 170.03,430.69 171.13,430.65 172.23,430.70 173.33,430.75 174.43,430.55 175.53,430.83 176.63,430.55 177.73,431.18 178.83,430.78 179.92,430.64 181.02,430.92 182.12,430.62 183.22,430.65 184.32,430.62 185.42,430.90 186.52,430.54 187.62,430.66 188.71,430.64 189.81,430.81 190.91,430.85 192.01,430.89 193.11,430.68 194.21,430.48 195.31,431.10 196.41,430.77 197.51,430.45 198.60,430.64 199.70,430.43 200.80,430.62 201.90,430.92 203.00,430.85 204.10,430.60 205.20,430.47 206.30,430.75 207.39,430.77 208.49,430.85 209.59,430.78 210.69,430.47 211.79,430.40 212.89,430.57 213.99,430.48 215.09,430.71 216.18,430.48 217.28,430.74 218.38,430.53 219.48,430.77 220.58,430.78 221.68,430.70 222.78,430.96 223.88,430.99 224.98,430.92 226.07,430.72 227.17,430.63 228.27,430.63 229.37,430.62 230.47,430.68 231.57,430.72 232.67,430.67 233.77,430.81 234.86,430.79 235.96,430.71 237.06,430.49 238.16,431.07 239.26,430.66 240.36,430.55 241.46,430.74 242.56,430.81 243.66,430.33 244.75,430.78 245.85,430.53 246.95,430.69 248.05,431.00 248.05,433.60 246.95,433.91 245.85,434.07 244.75,433.82 243.66,434.27 242.56,433.79 241.46,433.86 240.36,434.05 239.26,433.94 238.16,433.53 237.06,434.11 235.96,433.89 234.86,433.81 233.77,433.79 232.67,433.93 231.57,433.88 230.47,433.92 229.37,433.98 228.27,433.97 227.17,433.97 226.07,433.88 224.98,433.68 223.88,433.61 222.78,433.64 221.68,433.90 220.58,433.82 219.48,433.83 218.38,434.07 217.28,433.86 216.18,434.12 215.09,433.89 213.99,434.12 212.89,434.03 211.79,434.20 210.69,434.13 209.59,433.82 208.49,433.75 207.39,433.83 206.30,433.85 205.20,434.13 204.10,434.00 203.00,433.75 201.90,433.68 200.80,433.98 199.70,434.17 198.60,433.96 197.51,434.15 196.41,433.83 195.31,433.50 194.21,434.12 193.11,433.92 192.01,433.71 190.91,433.75 189.81,433.79 188.71,433.96 187.62,433.94 186.52,434.06 185.42,433.70 184.32,433.98 183.22,433.95 182.12,433.98 181.02,433.68 179.92,433.96 178.83,433.82 177.73,433.42 176.63,434.05 175.53,433.77 174.43,434.05 173.33,433.85 172.23,433.90 171.13,433.95 170.03,433.91 168.94,433.85 167.84,433.72 166.74,434.08 165.64,434.05 164.54,434.19 163.44,433.95 162.34,433.76 161.24,434.01 160.15,434.02 159.05,434.14 157.95,434.01 156.85,433.92 155.75,433.81 154.65,433.93 153.55,433.86 152.45,433.78 151.35,434.05 150.26,433.82 149.16,433.94 148.06,433.92 146.96,433.96 145.86,433.69 144.76,433.99 143.66,434.05 142.56,433.74 141.47,433.62 140.37,433.88 139.27,434.13 138.17,433.76 137.07,433.51 135.97,433.80 134.87,434.16 133.77,433.76 132.67,433.83 131.58,433.96 130.48,433.71 129.38,434.06 128.28,433.85 127.18,434.05 126.08,434.04 124.98,433.53 123.88,434.02 122.79,433.78 121.69,434.16 120.59,434.07 119.49,433.68 118.39,433.75 117.29,433.83 116.19,434.06 115.09,433.89 113.99,434.01 112.90,433.65 111.80,433.57 110.70,434.20 109.60,434.06 108.50,434.06 107.40,433.87 106.30,433.63 105.20,433.77 104.11,433.86 103.01,433.65 101.91,434.02 100.81,433.66 99.71,433.73 98.61,433.94 97.51,433.93 96.41,434.00 95.32,433.85 94.22,433.95 93.12,433.87 92.02,433.86 90.92,433.53 89.82,433.81 88.72,433.85 87.62,433.70 86.52,434.06 85.43,433.88 84.33,433.73 83.23,434.07 82.13,434.15 81.03,433.96 79.93,434.02 78.83,433.79 77.73,433.77 76.64,434.05 75.54,433.82 74.44,433.76 73.34,433.74 72.24,433.84 71.14,433.88 70.04,434.02 68.94,433.43 67.84,434.03 66.75,433.69 65.65,433.89 64.55,433.90 63.45,433.99" fill="#5e0f76" fill-opacity="0.3" stroke="none"/><line x1="155.50" y1="443.97" x2="155.50" y2="365.07" stroke="#111" stroke-width="1.5" stroke-dasharray="5.4 5.5"/><polyline points="62.90,433.34 64.00,433.34 64.00,432.20 65.10,432.20 65.10,431.56 66.20,431.56 66.20,432.33 67.30,432.33 67.30,433.25 68.39,433.25 68.39,432.83 69.49,432.83 69.49,434.03 70.59,434.03 70.59,431.65 71.69,431.65 71.69,431.68 72.79,431.68 72.79,432.90 73.89,432.90 73.89,432.24 74.99,432.24 74.99,432.09 76.09,432.09 76.09,432.26 77.18,432.26 77.18,431.43 78.28,431.43 78.28,430.69 79.38,430.69 79.38,430.97 80.48,430.97 80.48,431.17 81.58,431.17 81.58,432.13 82.68,432.13 82.68,431.60 83.78,431.60 83.78,431.47 84.88,431.47 84.88,432.20 85.98,432.20 85.98,431.62 87.07,431.62 87.07,433.32 88.17,433.32 88.17,432.31 89.27,432.31 89.27,432.36 90.37,432.36 90.37,432.37 91.47,432.37 91.47,432.02 92.57,432.02 92.57,432.11 93.67,432.11 93.67,433.18 94.77,433.18 94.77,432.52 95.86,432.52 95.86,432.65 96.96,432.65 96.96,431.71 98.06,431.71 98.06,432.62 99.16,432.62 99.16,432.01 100.26,432.01 100.26,432.90 101.36,432.90 101.36,430.99 102.46,430.99 102.46,433.11 103.56,433.11 103.56,432.10 104.66,432.10 104.66,432.88 105.75,432.88 105.75,431.94 106.85,431.94 106.85,431.34 107.95,431.34 107.95,431.64 109.05,431.64 109.05,433.20 110.15,433.20 110.15,432.56 111.25,432.56 111.25,433.19 112.35,433.19 112.35,432.97 113.45,432.97 113.45,433.27 114.54,433.27 114.54,431.80 115.64,431.80 115.64,430.63 116.74,430.63 116.74,429.94 117.84,429.94 117.84,432.73 118.94,432.73 118.94,431.23 120.04,431.23 120.04,431.75 121.14,431.75 121.14,431.23 122.24,431.23 122.24,429.88 123.33,429.88 123.33,430.67 124.43,430.67 124.43,431.56 125.53,431.56 125.53,431.53 126.63,431.53 126.63,431.65 127.73,431.65 127.73,431.52 128.83,431.52 128.83,432.48 129.93,432.48 129.93,431.76 131.03,431.76 131.03,433.24 132.13,433.24 132.13,433.18 133.22,433.18 133.22,433.82 134.32,433.82 134.32,432.61 135.42,432.61 135.42,431.37 136.52,431.37 136.52,433.68 137.62,433.68 137.62,433.06 138.72,433.06 138.72,430.28 139.82,430.28 139.82,431.83 140.92,431.83 140.92,431.99 142.01,431.99 142.01,431.55 143.11,431.55 143.11,432.49 144.21,432.49 144.21,432.43 145.31,432.43 145.31,429.42 146.41,429.42 146.41,431.89 147.51,431.89 147.51,431.55 148.61,431.55 148.61,434.01 149.71,434.01 149.71,433.84 150.81,433.84 150.81,433.69 151.90,433.69 151.90,430.18 153.00,430.18 153.00,432.92 154.10,432.92 154.10,431.91 155.20,431.91 155.20,432.51 156.30,432.51 156.30,431.66 157.40,431.66 157.40,431.96 158.50,431.96 158.50,430.87 159.60,430.87 159.60,432.87 160.69,432.87 160.69,430.65 161.79,430.65 161.79,433.47 162.89,433.47 162.89,431.64 163.99,431.64 163.99,431.97 165.09,431.97 165.09,432.43 166.19,432.43 166.19,433.61 167.29,433.61 167.29,430.43 168.39,430.43 168.39,430.76 169.49,430.76 169.49,431.97 170.58,431.97 170.58,431.65 171.68,431.65 171.68,431.98 172.78,431.98 172.78,433.66 173.88,433.66 173.88,432.02 174.98,432.02 174.98,432.73 176.08,432.73 176.08,431.20 177.18,431.20 177.18,432.95 178.28,432.95 178.28,432.72 179.37,432.72 179.37,431.98 180.47,431.98 180.47,432.38 181.57,432.38 181.57,431.06 182.67,431.06 182.67,431.31 183.77,431.31 183.77,432.22 184.87,432.22 184.87,432.20 185.97,432.20 185.97,431.02 187.07,431.02 187.07,432.18 188.17,432.18 188.17,431.00 189.26,431.00 189.26,432.73 190.36,432.73 190.36,431.64 191.46,431.64 191.46,432.48 192.56,432.48 192.56,430.72 193.66,430.72 193.66,430.67 194.76,430.67 194.76,433.43 195.86,433.43 195.86,431.41 196.96,431.41 196.96,431.39 198.05,431.39 198.05,432.59 199.15,432.59 199.15,431.80 200.25,431.80 200.25,431.94 201.35,431.94 201.35,431.98 202.45,431.98 202.45,431.79 203.55,431.79 203.55,433.70 204.65,433.70 204.65,434.37 205.75,434.37 205.75,433.94 206.84,433.94 206.84,431.89 207.94,431.89 207.94,432.83 209.04,432.83 209.04,432.50 210.14,432.50 210.14,432.54 211.24,432.54 211.24,433.23 212.34,433.23 212.34,432.60 213.44,432.60 213.44,431.75 214.54,431.75 214.54,431.91 215.64,431.91 215.64,432.47 216.73,432.47 216.73,433.16 217.83,433.16 217.83,432.26 218.93,432.26 218.93,432.05 220.03,432.05 220.03,431.53 221.13,431.53 221.13,431.93 222.23,431.93 222.23,431.41 223.33,431.41 223.33,433.00 224.43,433.00 224.43,433.11 225.52,433.11 225.52,432.76 226.62,432.76 226.62,432.88 227.72,432.88 227.72,430.87 228.82,430.87 228.82,432.26 229.92,432.26 229.92,432.16 231.02,432.16 231.02,432.51 232.12,432.51 232.12,431.73 233.22,431.73 233.22,432.07 234.32,432.07 234.32,432.17 235.41,432.17 235.41,430.66 236.51,430.66 236.51,432.82 237.61,432.82 237.61,432.67 238.71,432.67 238.71,433.21 239.81,433.21 239.81,432.55 240.91,432.55 240.91,431.55 242.01,431.55 242.01,433.14 243.11,433.14 243.11,431.71 244.20,431.71 244.20,431.54 245.30,431.54 245.30,432.42 246.40,432.42 246.40,432.68 247.50,432.68 247.50,432.84 248.60,432.84" fill="none" stroke="#5e0f76" stroke-width="1.75" stroke-linejoin="miter"/></g>
<rect x="53.90" y="365.07" width="203.65" height="78.90" fill="none" stroke="#262626" stroke-width="1.0"/>
<line x1="53.90" y1="377.20" x2="57.90" y2="377.20" stroke="#262626" stroke-width="1.1"/>
<text x="45.6" y="382.70" text-anchor="end" font-size="16.0" fill="#1e1e1e" textLength="9.1" lengthAdjust="spacingAndGlyphs">5</text>
<line x1="53.90" y1="432.30" x2="57.90" y2="432.30" stroke="#262626" stroke-width="1.1"/>
<text x="45.6" y="437.80" text-anchor="end" font-size="16.0" fill="#1e1e1e" textLength="10.5" lengthAdjust="spacingAndGlyphs">0</text>
<line x1="62.30" y1="443.97" x2="62.30" y2="439.97" stroke="#262626" stroke-width="1.1"/>
<text x="62.30" y="463.77" text-anchor="middle" font-size="16.0" fill="#1e1e1e" textLength="33.5" lengthAdjust="spacingAndGlyphs">0.90</text>
<line x1="146.60" y1="443.97" x2="146.60" y2="439.97" stroke="#262626" stroke-width="1.1"/>
<text x="146.60" y="463.77" text-anchor="middle" font-size="16.0" fill="#1e1e1e" textLength="32.1" lengthAdjust="spacingAndGlyphs">0.95</text>
<line x1="230.90" y1="443.97" x2="230.90" y2="439.97" stroke="#262626" stroke-width="1.1"/>
<text x="230.90" y="463.77" text-anchor="middle" font-size="16.0" fill="#1e1e1e" textLength="30.5" lengthAdjust="spacingAndGlyphs">1.00</text>
<g clip-path="url(#cp31)"><polygon points="266.65,430.30 268.04,430.24 269.44,430.63 270.83,430.36 272.23,430.04 273.62,430.52 275.02,430.26 276.41,430.23 277.81,430.57 279.20,430.02 280.59,430.57 281.99,429.98 283.38,430.15 284.78,430.66 286.17,430.29 287.57,430.51 288.96,430.27 290.36,430.17 291.75,430.48 293.15,429.92 294.72,429.80 296.05,430.32 297.10,429.95 298.55,430.24 300.00,430.27 301.05,429.83 302.85,429.83 304.80,430.28 305.90,430.01 307.09,430.02 308.49,430.26 309.88,430.07 311.28,430.40 312.67,430.09 314.07,430.42 315.46,430.09 316.86,430.33 318.25,430.32 319.65,429.84 321.04,430.21 322.44,430.56 323.83,430.22 325.23,430.79 326.62,430.31 328.02,430.13 329.41,430.10 330.81,430.14 332.20,430.16 333.59,430.55 334.99,430.28 336.38,429.96 337.78,430.90 339.17,430.52 340.57,430.68 341.96,430.63 343.36,430.08 344.75,430.45 346.15,430.35 347.54,430.90 348.94,430.67 350.33,430.40 351.73,430.66 353.12,430.09 354.46,430.56 356.10,429.98 357.70,429.96 358.85,429.60 359.95,430.02 361.05,430.42 362.20,430.10 363.19,430.47 364.28,430.57 365.67,430.14 367.07,430.21 368.46,430.24 369.86,430.26 371.25,430.09 372.65,430.07 374.04,430.50 375.44,430.17 376.83,430.23 378.23,430.08 379.62,430.12 381.02,430.29 382.41,430.48 383.81,430.00 385.20,430.77 386.15,430.12 386.90,429.76 388.00,429.77 389.30,428.81 390.65,429.06 391.90,428.99 393.10,429.93 393.98,430.00 394.96,430.52 396.36,430.18 397.75,430.11 399.15,430.62 400.54,430.85 401.94,430.06 403.33,430.51 404.73,430.13 406.12,430.62 407.52,430.48 408.91,430.11 410.31,430.72 411.70,430.20 413.09,430.21 414.49,429.90 415.88,430.14 417.28,430.03 418.67,430.37 420.07,430.89 421.46,430.36 422.86,430.62 424.25,430.14 425.65,430.30 427.04,429.97 428.44,430.46 429.83,430.28 431.23,430.42 432.62,430.25 434.02,429.96 435.41,430.47 436.81,429.97 438.20,430.56 439.59,430.00 440.99,429.87 442.38,430.39 443.78,430.18 445.17,430.55 446.57,430.30 447.96,430.11 449.36,430.50 450.75,430.35 450.75,434.25 449.36,434.10 447.96,434.49 446.57,434.30 445.17,434.05 443.78,434.42 442.38,434.21 440.99,434.73 439.59,434.60 438.20,434.04 436.81,434.63 435.41,434.13 434.02,434.64 432.62,434.35 431.23,434.18 429.83,434.32 428.44,434.14 427.04,434.63 425.65,434.30 424.25,434.46 422.86,433.98 421.46,434.24 420.07,433.71 418.67,434.23 417.28,434.57 415.88,434.46 414.49,434.70 413.09,434.39 411.70,434.40 410.31,433.88 408.91,434.49 407.52,434.12 406.12,433.98 404.73,434.47 403.33,434.09 401.94,434.54 400.54,433.75 399.15,433.98 397.75,434.49 396.36,434.42 394.96,434.08 393.98,434.60 393.10,434.67 391.90,435.61 390.65,435.54 389.30,435.79 388.00,434.83 386.90,434.84 386.15,434.48 385.20,433.83 383.81,434.60 382.41,434.12 381.02,434.31 379.62,434.48 378.23,434.52 376.83,434.37 375.44,434.43 374.04,434.10 372.65,434.53 371.25,434.51 369.86,434.34 368.46,434.36 367.07,434.39 365.67,434.46 364.28,434.03 363.19,434.13 362.20,434.50 361.05,434.18 359.95,434.58 358.85,435.00 357.70,434.64 356.10,434.62 354.46,434.04 353.12,434.51 351.73,433.94 350.33,434.20 348.94,433.93 347.54,433.70 346.15,434.25 344.75,434.15 343.36,434.52 341.96,433.97 340.57,433.92 339.17,434.08 337.78,433.70 336.38,434.64 334.99,434.32 333.59,434.05 332.20,434.44 330.81,434.46 329.41,434.50 328.02,434.47 326.62,434.29 325.23,433.81 323.83,434.38 322.44,434.04 321.04,434.39 319.65,434.76 318.25,434.28 316.86,434.27 315.46,434.51 314.07,434.18 312.67,434.51 311.28,434.20 309.88,434.53 308.49,434.34 307.09,434.58 305.90,434.59 304.80,434.32 302.85,434.77 301.05,434.77 300.00,434.33 298.55,434.36 297.10,434.65 296.05,434.28 294.72,434.80 293.15,434.68 291.75,434.12 290.36,434.43 288.96,434.33 287.57,434.09 286.17,434.31 284.78,433.94 283.38,434.45 281.99,434.62 280.59,434.03 279.20,434.58 277.81,434.03 276.41,434.37 275.02,434.34 273.62,434.08 272.23,434.56 270.83,434.24 269.44,433.97 268.04,434.36 266.65,434.30" fill="#5e0f76" fill-opacity="0.3" stroke="none"/><line x1="298.50" y1="443.97" x2="298.50" y2="365.07" stroke="#111" stroke-width="1.5" stroke-dasharray="5.4 5.5"/><line x1="358.60" y1="443.97" x2="358.60" y2="365.07" stroke="#111" stroke-width="1.5" stroke-dasharray="5.4 5.5"/><line x1="388.40" y1="443.97" x2="388.40" y2="365.07" stroke="#111" stroke-width="1.5" stroke-dasharray="5.4 5.5"/><polyline points="265.95,430.46 267.34,430.46 267.34,433.74 268.74,433.74 268.74,433.60 270.13,433.60 270.13,432.53 271.53,432.53 271.53,433.55 272.92,433.55 272.92,433.35 274.32,433.35 274.32,431.16 275.71,431.16 275.71,432.43 277.11,432.43 277.11,432.89 278.50,432.89 278.50,431.10 279.90,431.10 279.90,434.09 281.29,434.09 281.29,433.37 282.69,433.37 282.69,433.67 284.08,433.67 284.08,432.35 285.48,432.35 285.48,432.20 286.87,432.20 286.87,433.91 288.27,433.91 288.27,432.03 289.66,432.03 289.66,429.71 291.06,429.71 291.06,432.94 292.45,432.94 292.45,433.41 293.84,433.41 293.84,434.76 295.60,434.76 295.60,428.50 296.50,428.50 296.50,417.30 297.70,417.30 297.70,415.60 299.40,415.60 299.40,424.90 300.60,424.90 300.60,429.30 301.50,429.30 301.50,433.10 304.20,433.10 304.20,434.00 305.40,434.00 305.40,432.36 306.40,432.36 306.40,431.42 307.79,431.42 307.79,430.43 309.19,430.43 309.19,433.97 310.58,433.97 310.58,434.11 311.98,434.11 311.98,432.32 313.37,432.32 313.37,428.75 314.77,428.75 314.77,430.32 316.16,430.32 316.16,430.01 317.56,430.01 317.56,431.38 318.95,431.38 318.95,432.13 320.34,432.13 320.34,431.03 321.74,431.03 321.74,430.95 323.13,430.95 323.13,431.17 324.53,431.17 324.53,433.66 325.92,433.66 325.92,430.38 327.32,430.38 327.32,433.09 328.71,433.09 328.71,431.17 330.11,431.17 330.11,430.91 331.50,430.91 331.50,431.84 332.90,431.84 332.90,431.32 334.29,431.32 334.29,434.38 335.69,434.38 335.69,433.84 337.08,433.84 337.08,433.57 338.48,433.57 338.48,431.82 339.87,431.82 339.87,429.87 341.27,429.87 341.27,428.72 342.66,428.72 342.66,431.46 344.06,431.46 344.06,431.76 345.45,431.76 345.45,434.17 346.84,434.17 346.84,433.23 348.24,433.23 348.24,434.39 349.63,434.39 349.63,432.13 351.03,432.13 351.03,432.87 352.42,432.87 352.42,430.76 353.82,430.76 353.82,433.73 355.10,433.73 355.10,427.50 357.10,427.50 357.10,413.60 358.30,413.60 358.30,391.50 359.40,391.50 359.40,413.60 360.50,413.60 360.50,426.20 361.60,426.20 361.60,431.10 362.80,431.10 362.80,433.60 363.58,433.60 363.58,432.96 364.98,432.96 364.98,431.08 366.37,431.08 366.37,432.44 367.77,432.44 367.77,430.41 369.16,430.41 369.16,432.54 370.56,432.54 370.56,435.37 371.95,435.37 371.95,432.20 373.34,432.20 373.34,431.76 374.74,431.76 374.74,432.01 376.13,432.01 376.13,431.99 377.53,431.99 377.53,432.01 378.92,432.01 378.92,430.89 380.32,430.89 380.32,429.75 381.71,429.75 381.71,431.04 383.11,431.04 383.11,432.63 384.50,432.63 384.50,431.02 385.90,431.02 385.90,432.13 386.40,432.13 386.40,416.70 387.40,416.70 387.40,369.00 388.60,369.00 388.60,307.30 390.00,307.30 390.00,389.30 391.30,389.30 391.30,421.70 392.50,421.70 392.50,429.70 393.70,429.70 393.70,432.32 394.27,432.32 394.27,434.38 395.66,434.38 395.66,434.38 397.06,434.38 397.06,431.89 398.45,431.89 398.45,432.33 399.84,432.33 399.84,433.55 401.24,433.55 401.24,431.45 402.63,431.45 402.63,433.48 404.03,433.48 404.03,432.76 405.42,432.76 405.42,430.53 406.82,430.53 406.82,430.95 408.21,430.95 408.21,432.11 409.61,432.11 409.61,435.18 411.00,435.18 411.00,435.47 412.40,435.47 412.40,434.45 413.79,434.45 413.79,432.12 415.19,432.12 415.19,430.56 416.58,430.56 416.58,431.11 417.98,431.11 417.98,431.05 419.37,431.05 419.37,430.40 420.77,430.40 420.77,429.95 422.16,429.95 422.16,431.25 423.56,431.25 423.56,432.79 424.95,432.79 424.95,433.77 426.34,433.77 426.34,433.51 427.74,433.51 427.74,434.98 429.13,434.98 429.13,431.73 430.53,431.73 430.53,433.01 431.92,433.01 431.92,433.42 433.32,433.42 433.32,432.49 434.71,432.49 434.71,433.32 436.11,433.32 436.11,432.20 437.50,432.20 437.50,429.23 438.90,429.23 438.90,428.54 440.29,428.54 440.29,432.23 441.69,432.23 441.69,433.65 443.08,433.65 443.08,431.29 444.48,431.29 444.48,432.46 445.87,432.46 445.87,432.00 447.27,432.00 447.27,432.34 448.66,432.34 448.66,429.75 450.06,429.75 450.06,430.20 451.45,430.20" fill="none" stroke="#5e0f76" stroke-width="1.75" stroke-linejoin="miter"/></g>
<rect x="257.55" y="365.07" width="203.05" height="78.90" fill="none" stroke="#262626" stroke-width="1.0"/>
<line x1="257.55" y1="377.20" x2="261.55" y2="377.20" stroke="#262626" stroke-width="1.1"/>
<line x1="257.55" y1="432.30" x2="261.55" y2="432.30" stroke="#262626" stroke-width="1.1"/>
<line x1="297.90" y1="443.97" x2="297.90" y2="439.97" stroke="#262626" stroke-width="1.1"/>
<text x="297.90" y="463.77" text-anchor="middle" font-size="16.0" fill="#1e1e1e" textLength="23.2" lengthAdjust="spacingAndGlyphs">3.0</text>
<line x1="398.20" y1="443.97" x2="398.20" y2="439.97" stroke="#262626" stroke-width="1.1"/>
<text x="398.20" y="463.77" text-anchor="middle" font-size="16.0" fill="#1e1e1e" textLength="19.3" lengthAdjust="spacingAndGlyphs">3.1</text>
<g clip-path="url(#cp32)"><polygon points="470.25,430.63 472.70,430.22 475.90,430.40 479.10,430.14 482.30,430.90 485.50,429.82 488.70,430.77 491.90,430.27 495.10,430.20 498.30,429.99 501.50,430.35 504.70,430.50 507.65,430.25 510.60,430.45 512.45,430.52 514.30,430.39 517.50,430.04 520.70,430.49 523.90,430.41 527.10,430.20 530.30,430.22 533.50,429.87 536.70,430.60 539.90,429.95 543.30,429.94 546.35,430.01 549.40,429.46 552.75,429.78 555.90,429.45 559.05,429.06 562.20,429.46 565.35,429.19 568.40,429.82 571.35,429.14 574.40,429.76 577.75,429.62 580.75,430.01 583.15,430.28 585.90,430.29 589.10,430.13 592.30,429.87 595.50,430.13 598.70,430.38 601.90,430.22 605.10,430.31 608.30,430.47 611.50,430.18 614.70,430.21 617.90,429.98 621.10,430.48 624.30,430.06 627.50,430.58 630.70,430.38 633.90,430.16 636.00,430.14 638.10,430.02 640.80,429.89 643.50,429.97 646.70,430.41 649.90,429.79 653.20,430.41 653.20,434.19 649.90,434.81 646.70,434.19 643.50,434.63 640.80,434.71 638.10,434.58 636.00,434.46 633.90,434.44 630.70,434.22 627.50,434.02 624.30,434.54 621.10,434.12 617.90,434.62 614.70,434.39 611.50,434.42 608.30,434.13 605.10,434.29 601.90,434.38 598.70,434.22 595.50,434.47 592.30,434.73 589.10,434.47 585.90,434.31 583.15,434.32 580.75,434.59 577.75,434.98 574.40,434.84 571.35,435.46 568.40,434.78 565.35,435.41 562.20,435.14 559.05,435.54 555.90,435.15 552.75,434.82 549.40,435.14 546.35,434.59 543.30,434.66 539.90,434.65 536.70,434.00 533.50,434.73 530.30,434.38 527.10,434.40 523.90,434.19 520.70,434.11 517.50,434.56 514.30,434.21 512.45,434.08 510.60,434.15 507.65,434.35 504.70,434.10 501.50,434.25 498.30,434.61 495.10,434.40 491.90,434.33 488.70,433.83 485.50,434.78 482.30,433.70 479.10,434.46 475.90,434.20 472.70,434.38 470.25,433.97" fill="#5e0f76" fill-opacity="0.3" stroke="none"/><line x1="547.00" y1="443.97" x2="547.00" y2="365.07" stroke="#111" stroke-width="1.5" stroke-dasharray="5.4 5.5"/><line x1="561.80" y1="443.97" x2="561.80" y2="365.07" stroke="#111" stroke-width="1.5" stroke-dasharray="5.4 5.5"/><line x1="584.40" y1="443.97" x2="584.40" y2="365.07" stroke="#111" stroke-width="1.5" stroke-dasharray="5.4 5.5"/><polyline points="469.40,431.37 471.10,431.37 471.10,431.22 474.30,431.22 474.30,433.32 477.50,433.32 477.50,430.15 480.70,430.15 480.70,432.50 483.90,432.50 483.90,431.65 487.10,431.65 487.10,433.82 490.30,433.82 490.30,432.10 493.50,432.10 493.50,432.47 496.70,432.47 496.70,431.44 499.90,431.44 499.90,433.06 503.10,433.06 503.10,436.03 506.30,436.03 506.30,432.95 509.00,432.95 509.00,434.50 512.20,434.50 512.20,430.65 512.70,430.65 512.70,433.49 515.90,433.49 515.90,433.44 519.10,433.44 519.10,433.71 522.30,433.71 522.30,433.58 525.50,433.58 525.50,433.83 528.70,433.83 528.70,434.42 531.90,434.42 531.90,433.85 535.10,433.85 535.10,432.16 538.30,432.16 538.30,432.07 541.50,432.07 541.50,433.70 545.10,433.70 545.10,430.60 547.60,430.60 547.60,428.10 551.20,428.10 551.20,429.40 554.30,429.40 554.30,427.00 557.50,427.00 557.50,407.20 560.60,407.20 560.60,373.90 563.80,373.90 563.80,395.20 566.90,395.20 566.90,423.70 569.90,423.70 569.90,428.10 572.80,428.10 572.80,431.80 576.00,431.80 576.00,431.50 579.50,431.50 579.50,432.10 582.00,432.10 582.00,431.90 584.30,431.90 584.30,434.30 587.50,434.30 587.50,431.38 590.70,431.38 590.70,433.88 593.90,433.88 593.90,430.80 597.10,430.80 597.10,433.28 600.30,433.28 600.30,429.96 603.50,429.96 603.50,432.78 606.70,432.78 606.70,431.31 609.90,431.31 609.90,433.25 613.10,433.25 613.10,432.63 616.30,432.63 616.30,433.72 619.50,433.72 619.50,432.41 622.70,432.41 622.70,432.57 625.90,432.57 625.90,432.96 629.10,432.96 629.10,432.55 632.30,432.55 632.30,432.20 635.50,432.20 635.50,431.66 636.50,431.66 636.50,435.10 639.70,435.10 639.70,431.40 641.90,431.40 641.90,431.71 645.10,431.71 645.10,433.40 648.30,433.40 648.30,430.73 651.50,430.73 651.50,432.81 654.90,432.81" fill="none" stroke="#5e0f76" stroke-width="1.75" stroke-linejoin="miter"/></g>
<rect x="460.60" y="365.07" width="203.30" height="78.90" fill="none" stroke="#262626" stroke-width="1.0"/>
<line x1="460.60" y1="377.20" x2="464.60" y2="377.20" stroke="#262626" stroke-width="1.1"/>
<line x1="460.60" y1="432.30" x2="464.60" y2="432.30" stroke="#262626" stroke-width="1.1"/>
<line x1="474.00" y1="443.97" x2="474.00" y2="439.97" stroke="#262626" stroke-width="1.1"/>
<text x="474.00" y="463.77" text-anchor="middle" font-size="16.0" fill="#1e1e1e" textLength="33.8" lengthAdjust="spacingAndGlyphs">4.00</text>
<line x1="559.80" y1="443.97" x2="559.80" y2="439.97" stroke="#262626" stroke-width="1.1"/>
<text x="559.80" y="463.77" text-anchor="middle" font-size="16.0" fill="#1e1e1e" textLength="32.4" lengthAdjust="spacingAndGlyphs">4.05</text>
<line x1="645.10" y1="443.97" x2="645.10" y2="439.97" stroke="#262626" stroke-width="1.1"/>
<text x="645.10" y="463.77" text-anchor="middle" font-size="16.0" fill="#1e1e1e" textLength="29.900000000000002" lengthAdjust="spacingAndGlyphs">4.10</text>
<text x="63.4" y="383.27" font-size="15" font-style="italic" fill="#1e1e1e">z</text>
<text x="75.0" y="383.27" font-size="15" fill="#1e1e1e" textLength="7.8" lengthAdjust="spacingAndGlyphs">=</text>
<text x="86.7" y="383.27" font-size="15" fill="#1e1e1e" textLength="35.0" lengthAdjust="spacingAndGlyphs">5.172</text>
<text transform="translate(673.4,402.30) rotate(90)" text-anchor="middle" font-size="15.8" fill="#1e1e1e" textLength="45.5" lengthAdjust="spacingAndGlyphs">62309</text>
<g clip-path="url(#cp40)"><polygon points="63.50,538.48 64.70,538.34 65.90,538.73 67.09,538.53 68.29,538.17 69.49,538.40 70.69,538.44 71.89,538.46 73.08,538.01 74.28,538.32 75.48,538.42 76.68,538.41 77.88,538.38 79.07,538.24 80.27,538.36 81.47,538.18 82.67,538.42 83.87,538.51 85.06,538.32 86.26,538.45 87.46,538.59 88.66,538.54 89.86,538.28 91.05,538.26 92.25,538.26 93.45,538.47 94.65,538.16 95.85,538.34 97.04,538.02 98.24,538.29 99.44,538.32 100.64,538.68 101.84,538.19 103.04,538.62 104.23,538.49 105.43,538.46 106.63,538.12 107.83,538.61 109.03,538.68 110.22,538.48 111.42,538.04 112.62,538.46 113.82,538.33 115.02,538.62 116.21,538.07 117.41,538.03 118.61,538.28 119.81,538.06 121.01,538.34 122.20,538.22 123.40,538.56 124.60,538.19 125.80,538.91 127.00,538.45 128.19,538.76 129.39,538.32 130.59,538.46 131.79,538.16 132.99,538.24 134.18,538.25 135.38,538.63 136.58,538.30 137.78,538.40 138.98,538.53 140.18,538.39 141.37,538.50 142.57,538.05 143.77,538.42 144.97,538.35 146.17,538.52 147.36,538.15 148.56,538.35 149.76,538.66 150.96,538.24 152.16,538.39 153.35,538.39 154.55,538.50 155.75,538.46 156.95,538.17 158.15,538.51 159.34,538.39 160.54,537.98 161.74,538.54 162.94,538.39 164.14,538.28 165.33,538.57 166.53,538.18 167.73,538.28 168.93,538.31 170.13,538.41 171.32,538.46 172.52,538.66 173.72,538.80 174.92,538.84 176.12,538.24 177.32,538.25 178.51,538.42 179.71,538.56 180.91,538.33 182.11,538.20 183.31,538.32 184.50,538.47 185.70,538.57 186.90,538.57 188.10,538.39 189.30,538.35 190.49,538.14 191.69,538.47 192.89,538.17 194.09,538.25 195.29,538.60 196.48,538.32 197.68,538.24 198.88,538.42 200.08,538.46 201.28,538.50 202.47,538.15 203.67,538.37 204.87,538.55 206.07,538.55 207.27,538.58 208.46,538.68 209.66,538.49 210.86,538.51 212.06,538.52 213.26,538.63 214.46,538.42 215.65,538.75 216.85,538.36 218.05,538.43 219.25,538.54 220.45,538.34 221.64,538.37 222.84,538.35 224.04,538.18 225.24,538.28 226.44,538.45 227.63,538.34 228.83,538.55 230.03,538.27 231.23,538.37 232.43,538.46 233.62,538.27 234.82,538.50 236.02,538.29 237.22,538.67 238.42,538.33 239.61,538.52 240.81,538.00 242.01,538.01 243.21,538.83 244.41,538.53 245.60,538.36 246.80,538.23 248.00,538.48 248.00,541.92 246.80,542.17 245.60,542.04 244.41,541.87 243.21,541.57 242.01,542.39 240.81,542.40 239.61,541.88 238.42,542.07 237.22,541.73 236.02,542.11 234.82,541.90 233.62,542.13 232.43,541.94 231.23,542.03 230.03,542.13 228.83,541.85 227.63,542.06 226.44,541.95 225.24,542.12 224.04,542.22 222.84,542.05 221.64,542.03 220.45,542.06 219.25,541.86 218.05,541.97 216.85,542.04 215.65,541.65 214.46,541.98 213.26,541.77 212.06,541.88 210.86,541.89 209.66,541.91 208.46,541.72 207.27,541.82 206.07,541.85 204.87,541.85 203.67,542.03 202.47,542.25 201.28,541.90 200.08,541.94 198.88,541.98 197.68,542.16 196.48,542.08 195.29,541.80 194.09,542.15 192.89,542.23 191.69,541.93 190.49,542.26 189.30,542.05 188.10,542.01 186.90,541.83 185.70,541.83 184.50,541.93 183.31,542.08 182.11,542.20 180.91,542.07 179.71,541.84 178.51,541.98 177.32,542.15 176.12,542.16 174.92,541.56 173.72,541.60 172.52,541.74 171.32,541.94 170.13,541.99 168.93,542.09 167.73,542.12 166.53,542.22 165.33,541.83 164.14,542.12 162.94,542.01 161.74,541.86 160.54,542.42 159.34,542.01 158.15,541.89 156.95,542.23 155.75,541.94 154.55,541.90 153.35,542.01 152.16,542.01 150.96,542.16 149.76,541.74 148.56,542.05 147.36,542.25 146.17,541.88 144.97,542.05 143.77,541.98 142.57,542.35 141.37,541.90 140.18,542.01 138.98,541.87 137.78,542.00 136.58,542.10 135.38,541.77 134.18,542.15 132.99,542.16 131.79,542.24 130.59,541.94 129.39,542.08 128.19,541.64 127.00,541.95 125.80,541.49 124.60,542.21 123.40,541.84 122.20,542.18 121.01,542.06 119.81,542.34 118.61,542.12 117.41,542.37 116.21,542.33 115.02,541.78 113.82,542.07 112.62,541.94 111.42,542.36 110.22,541.92 109.03,541.72 107.83,541.79 106.63,542.28 105.43,541.94 104.23,541.91 103.04,541.78 101.84,542.21 100.64,541.72 99.44,542.08 98.24,542.11 97.04,542.38 95.85,542.06 94.65,542.24 93.45,541.93 92.25,542.14 91.05,542.14 89.86,542.12 88.66,541.86 87.46,541.81 86.26,541.95 85.06,542.08 83.87,541.89 82.67,541.98 81.47,542.22 80.27,542.04 79.07,542.16 77.88,542.02 76.68,541.99 75.48,541.98 74.28,542.08 73.08,542.39 71.89,541.94 70.69,541.96 69.49,542.00 68.29,542.23 67.09,541.87 65.90,541.67 64.70,542.06 63.50,541.92" fill="#5a12a3" fill-opacity="0.3" stroke="none"/><line x1="155.50" y1="557.17" x2="155.50" y2="478.27" stroke="#111" stroke-width="1.5" stroke-dasharray="5.4 5.5"/><polyline points="62.90,540.42 64.10,540.42 64.10,541.25 65.30,541.25 65.30,540.52 66.49,540.52 66.49,539.63 67.69,539.63 67.69,540.95 68.89,540.95 68.89,540.88 70.09,540.88 70.09,541.01 71.29,541.01 71.29,539.06 72.48,539.06 72.48,538.61 73.68,538.61 73.68,540.16 74.88,540.16 74.88,540.60 76.08,540.60 76.08,540.14 77.28,540.14 77.28,539.56 78.47,539.56 78.47,540.45 79.67,540.45 79.67,541.29 80.87,541.29 80.87,541.40 82.07,541.40 82.07,542.46 83.27,542.46 83.27,541.64 84.47,541.64 84.47,541.17 85.66,541.17 85.66,539.83 86.86,539.83 86.86,538.13 88.06,538.13 88.06,539.34 89.26,539.34 89.26,540.07 90.46,540.07 90.46,537.52 91.65,537.52 91.65,540.09 92.85,540.09 92.85,540.80 94.05,540.80 94.05,539.70 95.25,539.70 95.25,541.26 96.45,541.26 96.45,539.37 97.64,539.37 97.64,540.23 98.84,540.23 98.84,540.06 100.04,540.06 100.04,540.32 101.24,540.32 101.24,540.43 102.44,540.43 102.44,541.20 103.63,541.20 103.63,540.77 104.83,540.77 104.83,541.43 106.03,541.43 106.03,538.86 107.23,538.86 107.23,539.79 108.43,539.79 108.43,539.65 109.62,539.65 109.62,541.08 110.82,541.08 110.82,540.53 112.02,540.53 112.02,539.46 113.22,539.46 113.22,541.01 114.42,541.01 114.42,541.01 115.61,541.01 115.61,539.52 116.81,539.52 116.81,539.81 118.01,539.81 118.01,540.66 119.21,540.66 119.21,540.16 120.41,540.16 120.41,540.81 121.61,540.81 121.61,543.12 122.80,543.12 122.80,541.47 124.00,541.47 124.00,540.42 125.20,540.42 125.20,541.79 126.40,541.79 126.40,541.78 127.60,541.78 127.60,540.11 128.79,540.11 128.79,541.88 129.99,541.88 129.99,539.34 131.19,539.34 131.19,541.54 132.39,541.54 132.39,541.90 133.59,541.90 133.59,540.72 134.78,540.72 134.78,540.67 135.98,540.67 135.98,538.78 137.18,538.78 137.18,537.98 138.38,537.98 138.38,539.14 139.58,539.14 139.58,541.25 140.77,541.25 140.77,541.04 141.97,541.04 141.97,539.54 143.17,539.54 143.17,541.47 144.37,541.47 144.37,540.60 145.57,540.60 145.57,541.06 146.76,541.06 146.76,541.22 147.96,541.22 147.96,539.55 149.16,539.55 149.16,538.50 150.36,538.50 150.36,539.12 151.56,539.12 151.56,539.55 152.75,539.55 152.75,540.94 153.95,540.94 153.95,541.11 155.15,541.11 155.15,539.97 156.35,539.97 156.35,539.28 157.55,539.28 157.55,539.48 158.75,539.48 158.75,540.98 159.94,540.98 159.94,541.93 161.14,541.93 161.14,538.77 162.34,538.77 162.34,539.15 163.54,539.15 163.54,539.21 164.74,539.21 164.74,538.68 165.93,538.68 165.93,539.50 167.13,539.50 167.13,540.96 168.33,540.96 168.33,541.31 169.53,541.31 169.53,542.28 170.73,542.28 170.73,541.61 171.92,541.61 171.92,540.59 173.12,540.59 173.12,541.01 174.32,541.01 174.32,540.16 175.52,540.16 175.52,540.92 176.72,540.92 176.72,539.92 177.91,539.92 177.91,543.01 179.11,543.01 179.11,541.61 180.31,541.61 180.31,542.13 181.51,542.13 181.51,542.20 182.71,542.20 182.71,541.60 183.90,541.60 183.90,541.37 185.10,541.37 185.10,540.69 186.30,540.69 186.30,540.22 187.50,540.22 187.50,539.06 188.70,539.06 188.70,540.90 189.89,540.90 189.89,539.82 191.09,539.82 191.09,539.43 192.29,539.43 192.29,539.67 193.49,539.67 193.49,541.31 194.69,541.31 194.69,539.38 195.89,539.38 195.89,539.74 197.08,539.74 197.08,540.09 198.28,540.09 198.28,538.67 199.48,538.67 199.48,539.31 200.68,539.31 200.68,541.18 201.88,541.18 201.88,539.66 203.07,539.66 203.07,539.28 204.27,539.28 204.27,538.96 205.47,538.96 205.47,538.48 206.67,538.48 206.67,539.79 207.87,539.79 207.87,539.28 209.06,539.28 209.06,538.44 210.26,538.44 210.26,537.93 211.46,537.93 211.46,538.87 212.66,538.87 212.66,541.85 213.86,541.85 213.86,542.12 215.05,542.12 215.05,541.14 216.25,541.14 216.25,540.25 217.45,540.25 217.45,540.67 218.65,540.67 218.65,541.39 219.85,541.39 219.85,541.41 221.04,541.41 221.04,540.37 222.24,540.37 222.24,541.28 223.44,541.28 223.44,538.79 224.64,538.79 224.64,537.98 225.84,537.98 225.84,539.11 227.03,539.11 227.03,539.09 228.23,539.09 228.23,539.53 229.43,539.53 229.43,539.15 230.63,539.15 230.63,541.27 231.83,541.27 231.83,541.67 233.03,541.67 233.03,540.13 234.22,540.13 234.22,538.73 235.42,538.73 235.42,541.08 236.62,541.08 236.62,540.06 237.82,540.06 237.82,540.13 239.02,540.13 239.02,541.67 240.21,541.67 240.21,541.59 241.41,541.59 241.41,539.46 242.61,539.46 242.61,540.55 243.81,540.55 243.81,539.39 245.01,539.39 245.01,540.18 246.20,540.18 246.20,540.12 247.40,540.12 247.40,540.94 248.60,540.94" fill="none" stroke="#5a12a3" stroke-width="1.75" stroke-linejoin="miter"/></g>
<rect x="53.90" y="478.27" width="203.65" height="78.90" fill="none" stroke="#262626" stroke-width="1.0"/>
<line x1="53.90" y1="509.10" x2="57.90" y2="509.10" stroke="#262626" stroke-width="1.1"/>
<text x="45.6" y="514.60" text-anchor="end" font-size="16.0" fill="#1e1e1e" textLength="8.9" lengthAdjust="spacingAndGlyphs">2</text>
<line x1="53.90" y1="540.20" x2="57.90" y2="540.20" stroke="#262626" stroke-width="1.1"/>
<text x="45.6" y="545.70" text-anchor="end" font-size="16.0" fill="#1e1e1e" textLength="10.5" lengthAdjust="spacingAndGlyphs">0</text>
<line x1="131.90" y1="557.17" x2="131.90" y2="553.17" stroke="#262626" stroke-width="1.1"/>
<text x="131.90" y="574.97" text-anchor="middle" font-size="16.0" fill="#1e1e1e" textLength="32.1" lengthAdjust="spacingAndGlyphs">0.95</text>
<line x1="214.90" y1="557.17" x2="214.90" y2="553.17" stroke="#262626" stroke-width="1.1"/>
<text x="214.90" y="574.97" text-anchor="middle" font-size="16.0" fill="#1e1e1e" textLength="30.5" lengthAdjust="spacingAndGlyphs">1.00</text>
<g clip-path="url(#cp41)"><polygon points="266.60,538.77 267.90,538.57 269.19,539.02 270.49,538.62 271.79,538.83 273.08,538.39 274.38,538.63 275.68,538.52 276.98,538.61 278.27,538.61 279.57,538.81 280.87,538.70 282.17,538.42 283.46,538.48 284.76,538.71 286.06,538.56 287.35,538.69 288.65,538.60 289.95,538.52 291.25,538.49 292.54,538.50 293.84,538.89 295.14,538.65 296.50,538.64 297.75,538.72 299.30,538.43 300.90,538.20 302.25,538.32 303.28,538.67 304.22,538.57 305.51,538.27 306.81,538.38 308.11,538.77 309.41,538.56 310.70,538.68 312.00,538.65 313.30,538.87 314.60,538.52 315.89,538.76 317.19,538.10 318.49,538.37 319.78,538.48 321.08,538.48 322.38,538.76 323.68,538.74 324.97,538.65 326.27,538.56 327.57,538.47 328.86,538.70 330.16,538.55 331.46,538.59 332.76,538.79 334.05,538.93 335.35,538.52 336.65,538.65 337.94,539.02 339.24,538.77 340.54,538.64 341.84,538.22 343.13,538.17 344.43,538.68 345.73,538.51 347.03,538.32 348.32,538.81 349.62,538.46 350.92,538.77 352.21,538.84 353.51,538.64 354.63,538.73 355.95,538.22 358.65,538.47 361.35,538.08 362.72,538.97 363.89,538.53 365.19,538.72 366.48,538.44 367.78,538.95 369.08,538.66 370.37,538.92 371.67,538.48 372.97,538.57 374.27,538.28 375.56,538.55 376.86,538.39 378.16,538.48 379.46,538.51 380.75,538.73 382.05,538.68 383.35,538.46 384.65,538.45 386.20,538.56 388.30,537.77 390.40,538.11 392.30,538.38 393.84,538.52 395.02,538.79 396.32,538.58 397.62,538.30 398.91,538.62 400.21,538.67 401.51,538.89 402.80,538.58 404.10,538.54 405.40,538.39 406.70,538.53 407.99,538.55 409.29,538.72 410.59,538.71 411.89,538.59 413.18,538.81 414.48,538.51 415.78,538.65 417.07,538.48 418.37,538.36 419.67,538.57 420.97,538.48 422.26,538.34 423.56,538.45 424.86,538.49 426.15,538.71 427.45,538.84 428.75,538.77 430.05,538.58 431.34,538.24 432.64,538.66 433.94,538.59 435.23,538.68 436.53,538.40 437.83,538.47 439.13,538.68 440.42,538.89 441.72,538.72 443.02,538.53 444.32,538.88 445.61,538.41 446.91,538.79 448.21,538.65 449.50,538.70 450.80,538.67 450.80,541.73 449.50,541.70 448.21,541.75 446.91,541.61 445.61,541.99 444.32,541.52 443.02,541.87 441.72,541.68 440.42,541.51 439.13,541.72 437.83,541.93 436.53,542.00 435.23,541.72 433.94,541.81 432.64,541.74 431.34,542.16 430.05,541.82 428.75,541.63 427.45,541.56 426.15,541.69 424.86,541.91 423.56,541.95 422.26,542.06 420.97,541.92 419.67,541.83 418.37,542.04 417.07,541.92 415.78,541.75 414.48,541.89 413.18,541.59 411.89,541.81 410.59,541.69 409.29,541.68 407.99,541.85 406.70,541.87 405.40,542.01 404.10,541.86 402.80,541.82 401.51,541.51 400.21,541.73 398.91,541.78 397.62,542.10 396.32,541.82 395.02,541.61 393.84,541.88 392.30,542.02 390.40,542.29 388.30,542.63 386.20,541.84 384.65,541.95 383.35,541.94 382.05,541.72 380.75,541.67 379.46,541.89 378.16,541.92 376.86,542.01 375.56,541.85 374.27,542.12 372.97,541.83 371.67,541.92 370.37,541.48 369.08,541.74 367.78,541.45 366.48,541.96 365.19,541.68 363.89,541.87 362.72,541.43 361.35,542.32 358.65,541.93 355.95,542.18 354.63,541.67 353.51,541.76 352.21,541.56 350.92,541.63 349.62,541.94 348.32,541.59 347.03,542.08 345.73,541.89 344.43,541.72 343.13,542.23 341.84,542.18 340.54,541.76 339.24,541.63 337.94,541.38 336.65,541.75 335.35,541.88 334.05,541.47 332.76,541.61 331.46,541.81 330.16,541.85 328.86,541.70 327.57,541.93 326.27,541.84 324.97,541.75 323.68,541.66 322.38,541.64 321.08,541.92 319.78,541.92 318.49,542.03 317.19,542.30 315.89,541.64 314.60,541.88 313.30,541.53 312.00,541.75 310.70,541.72 309.41,541.84 308.11,541.63 306.81,542.02 305.51,542.13 304.22,541.83 303.28,541.73 302.25,542.08 300.90,542.20 299.30,541.97 297.75,541.68 296.50,541.76 295.14,541.75 293.84,541.51 292.54,541.90 291.25,541.91 289.95,541.88 288.65,541.80 287.35,541.71 286.06,541.84 284.76,541.69 283.46,541.92 282.17,541.98 280.87,541.70 279.57,541.59 278.27,541.79 276.98,541.79 275.68,541.88 274.38,541.77 273.08,542.01 271.79,541.57 270.49,541.78 269.19,541.38 267.90,541.83 266.60,541.63" fill="#5a12a3" fill-opacity="0.3" stroke="none"/><line x1="298.00" y1="557.17" x2="298.00" y2="478.27" stroke="#111" stroke-width="1.5" stroke-dasharray="5.4 5.5"/><line x1="358.60" y1="557.17" x2="358.60" y2="478.27" stroke="#111" stroke-width="1.5" stroke-dasharray="5.4 5.5"/><line x1="388.40" y1="557.17" x2="388.40" y2="478.27" stroke="#111" stroke-width="1.5" stroke-dasharray="5.4 5.5"/><polyline points="265.95,539.96 267.25,539.96 267.25,540.39 268.54,540.39 268.54,540.51 269.84,540.51 269.84,539.67 271.14,539.67 271.14,539.82 272.44,539.82 272.44,540.06 273.73,540.06 273.73,539.97 275.03,539.97 275.03,539.87 276.33,539.87 276.33,539.92 277.62,539.92 277.62,540.21 278.92,540.21 278.92,540.43 280.22,540.43 280.22,539.88 281.52,539.88 281.52,541.59 282.81,541.59 282.81,540.40 284.11,540.40 284.11,539.95 285.41,539.95 285.41,538.31 286.71,538.31 286.71,540.34 288.00,540.34 288.00,539.24 289.30,539.24 289.30,539.69 290.60,539.69 290.60,539.95 291.89,539.95 291.89,539.41 293.19,539.41 293.19,538.64 294.49,538.64 294.49,539.52 295.80,539.52 295.80,532.50 297.20,532.50 297.20,533.70 298.30,533.70 298.30,532.50 300.30,532.50 300.30,537.60 301.50,537.60 301.50,539.70 303.00,539.70 303.00,541.59 303.57,541.59 303.57,540.50 304.87,540.50 304.87,541.63 306.16,541.63 306.16,540.02 307.46,540.02 307.46,540.27 308.76,540.27 308.76,541.67 310.05,541.67 310.05,540.92 311.35,540.92 311.35,541.77 312.65,541.77 312.65,539.40 313.95,539.40 313.95,538.51 315.24,538.51 315.24,538.85 316.54,538.85 316.54,538.02 317.84,538.02 317.84,541.30 319.14,541.30 319.14,541.11 320.43,541.11 320.43,540.03 321.73,540.03 321.73,540.46 323.03,540.46 323.03,539.98 324.32,539.98 324.32,538.99 325.62,538.99 325.62,539.85 326.92,539.85 326.92,539.56 328.22,539.56 328.22,540.50 329.51,540.50 329.51,541.04 330.81,541.04 330.81,538.84 332.11,538.84 332.11,538.92 333.40,538.92 333.40,539.90 334.70,539.90 334.70,539.64 336.00,539.64 336.00,540.81 337.30,540.81 337.30,540.86 338.59,540.86 338.59,539.82 339.89,539.82 339.89,539.84 341.19,539.84 341.19,541.18 342.48,541.18 342.48,539.83 343.78,539.83 343.78,539.98 345.08,539.98 345.08,540.42 346.38,540.42 346.38,540.48 347.67,540.48 347.67,539.91 348.97,539.91 348.97,538.49 350.27,538.49 350.27,539.64 351.57,539.64 351.57,539.87 352.86,539.87 352.86,538.23 354.16,538.23 354.16,539.84 355.10,539.84 355.10,536.30 356.80,536.30 356.80,519.30 360.50,519.30 360.50,535.50 362.20,535.50 362.20,538.63 363.24,538.63 363.24,539.69 364.54,539.69 364.54,541.41 365.83,541.41 365.83,539.32 367.13,539.32 367.13,539.25 368.43,539.25 368.43,540.20 369.73,540.20 369.73,540.45 371.02,540.45 371.02,540.47 372.32,540.47 372.32,540.40 373.62,540.40 373.62,540.21 374.92,540.21 374.92,538.95 376.21,538.95 376.21,542.33 377.51,542.33 377.51,540.74 378.81,540.74 378.81,540.47 380.10,540.47 380.10,539.27 381.40,539.27 381.40,538.87 382.70,538.87 382.70,539.66 384.00,539.66 384.00,539.44 385.30,539.44 385.30,510.70 387.10,510.70 387.10,470.20 389.50,470.20 389.50,505.30 391.30,505.30 391.30,535.50 393.30,535.50 393.30,541.28 394.37,541.28 394.37,540.44 395.67,540.44 395.67,540.04 396.97,540.04 396.97,539.67 398.26,539.67 398.26,539.12 399.56,539.12 399.56,540.62 400.86,540.62 400.86,541.08 402.16,541.08 402.16,540.48 403.45,540.48 403.45,538.81 404.75,538.81 404.75,539.18 406.05,539.18 406.05,540.71 407.35,540.71 407.35,540.78 408.64,540.78 408.64,539.85 409.94,539.85 409.94,539.21 411.24,539.21 411.24,538.48 412.53,538.48 412.53,540.03 413.83,540.03 413.83,539.22 415.13,539.22 415.13,539.54 416.43,539.54 416.43,540.23 417.72,540.23 417.72,540.18 419.02,540.18 419.02,539.31 420.32,539.31 420.32,539.90 421.61,539.90 421.61,539.20 422.91,539.20 422.91,539.37 424.21,539.37 424.21,540.84 425.51,540.84 425.51,539.32 426.80,539.32 426.80,539.48 428.10,539.48 428.10,540.48 429.40,540.48 429.40,539.19 430.69,539.19 430.69,539.42 431.99,539.42 431.99,539.70 433.29,539.70 433.29,541.19 434.59,541.19 434.59,541.07 435.88,541.07 435.88,539.67 437.18,539.67 437.18,539.07 438.48,539.07 438.48,539.87 439.78,539.87 439.78,540.16 441.07,540.16 441.07,540.57 442.37,540.57 442.37,540.44 443.67,540.44 443.67,539.71 444.96,539.71 444.96,539.75 446.26,539.75 446.26,539.19 447.56,539.19 447.56,539.44 448.86,539.44 448.86,540.09 450.15,540.09 450.15,539.65 451.45,539.65" fill="none" stroke="#5a12a3" stroke-width="1.75" stroke-linejoin="miter"/></g>
<rect x="257.55" y="478.27" width="203.05" height="78.90" fill="none" stroke="#262626" stroke-width="1.0"/>
<line x1="257.55" y1="509.10" x2="261.55" y2="509.10" stroke="#262626" stroke-width="1.1"/>
<line x1="257.55" y1="540.20" x2="261.55" y2="540.20" stroke="#262626" stroke-width="1.1"/>
<line x1="268.80" y1="557.17" x2="268.80" y2="553.17" stroke="#262626" stroke-width="1.1"/>
<text x="268.80" y="574.97" text-anchor="middle" font-size="16.0" fill="#1e1e1e" textLength="23.2" lengthAdjust="spacingAndGlyphs">3.0</text>
<line x1="368.40" y1="557.17" x2="368.40" y2="553.17" stroke="#262626" stroke-width="1.1"/>
<text x="368.40" y="574.97" text-anchor="middle" font-size="16.0" fill="#1e1e1e" textLength="19.3" lengthAdjust="spacingAndGlyphs">3.1</text>
<g clip-path="url(#cp42)"><polygon points="469.50,538.41 471.15,538.35 474.25,538.53 477.35,538.22 480.45,538.51 483.55,538.35 486.65,538.15 489.75,538.18 492.85,538.78 495.95,538.09 499.05,538.46 502.15,538.94 505.25,538.38 508.35,538.27 511.45,538.27 514.55,538.69 517.65,537.72 520.75,538.35 523.85,538.26 526.95,538.18 530.05,538.75 533.15,538.04 536.25,538.58 539.35,538.11 542.45,538.47 545.50,537.87 549.25,537.79 552.95,537.37 555.90,537.33 558.85,537.51 562.05,537.64 565.20,537.57 568.15,537.41 571.25,537.73 574.40,537.92 577.75,537.77 581.60,538.21 585.70,537.75 589.35,538.41 592.55,538.59 595.65,538.52 598.75,538.80 601.85,538.45 604.95,538.27 608.05,538.03 611.15,538.24 614.25,538.63 617.35,538.63 620.45,538.41 623.55,538.39 626.65,538.48 629.75,537.97 631.75,538.47 633.75,538.49 636.40,538.37 639.05,538.48 642.15,538.34 645.25,538.33 648.35,538.20 651.45,538.52 653.95,538.06 653.95,542.34 651.45,541.88 648.35,542.20 645.25,542.07 642.15,542.06 639.05,541.92 636.40,542.03 633.75,541.91 631.75,541.93 629.75,542.43 626.65,541.92 623.55,542.01 620.45,541.99 617.35,541.77 614.25,541.77 611.15,542.16 608.05,542.37 604.95,542.13 601.85,541.95 598.75,541.60 595.65,541.88 592.55,541.81 589.35,541.99 585.70,542.65 581.60,542.19 577.75,542.63 574.40,542.48 571.25,542.67 568.15,542.99 565.20,542.83 562.05,542.76 558.85,542.89 555.90,543.07 552.95,543.03 549.25,542.61 545.50,542.53 542.45,541.93 539.35,542.29 536.25,541.82 533.15,542.36 530.05,541.65 526.95,542.22 523.85,542.14 520.75,542.05 517.65,542.68 514.55,541.71 511.45,542.13 508.35,542.13 505.25,542.02 502.15,541.46 499.05,541.94 495.95,542.31 492.85,541.62 489.75,542.22 486.65,542.25 483.55,542.05 480.45,541.89 477.35,542.18 474.25,541.87 471.15,542.05 469.50,541.99" fill="#5a12a3" fill-opacity="0.3" stroke="none"/><line x1="546.90" y1="557.17" x2="546.90" y2="478.27" stroke="#111" stroke-width="1.5" stroke-dasharray="5.4 5.5"/><line x1="561.50" y1="557.17" x2="561.50" y2="478.27" stroke="#111" stroke-width="1.5" stroke-dasharray="5.4 5.5"/><line x1="583.60" y1="557.17" x2="583.60" y2="478.27" stroke="#111" stroke-width="1.5" stroke-dasharray="5.4 5.5"/><polyline points="469.40,539.00 469.60,539.00 469.60,539.43 472.70,539.43 472.70,540.06 475.80,540.06 475.80,540.01 478.90,540.01 478.90,540.09 482.00,540.09 482.00,538.63 485.10,538.63 485.10,538.77 488.20,538.77 488.20,540.22 491.30,540.22 491.30,540.22 494.40,540.22 494.40,539.44 497.50,539.44 497.50,540.06 500.60,540.06 500.60,540.41 503.70,540.41 503.70,539.04 506.80,539.04 506.80,539.60 509.90,539.60 509.90,540.79 513.00,540.79 513.00,538.30 516.10,538.30 516.10,539.46 519.20,539.46 519.20,539.55 522.30,539.55 522.30,539.44 525.40,539.44 525.40,538.38 528.50,538.38 528.50,537.71 531.60,537.71 531.60,540.89 534.70,540.89 534.70,539.58 537.80,539.58 537.80,538.45 540.90,538.45 540.90,539.41 544.00,539.41 544.00,537.20 547.00,537.20 547.00,535.80 551.50,535.80 551.50,530.00 554.40,530.00 554.40,526.00 557.40,526.00 557.40,510.00 560.30,510.00 560.30,486.80 563.80,486.80 563.80,501.40 566.60,501.40 566.60,523.80 569.70,523.80 569.70,531.90 572.80,531.90 572.80,534.50 576.00,534.50 576.00,535.40 579.50,535.40 579.50,536.40 583.70,536.40 583.70,537.80 587.70,537.80 587.70,539.80 591.00,539.80 591.00,540.25 594.10,540.25 594.10,539.02 597.20,539.02 597.20,539.72 600.30,539.72 600.30,541.03 603.40,541.03 603.40,539.44 606.50,539.44 606.50,538.74 609.60,538.74 609.60,540.24 612.70,540.24 612.70,540.39 615.80,540.39 615.80,541.38 618.90,541.38 618.90,538.96 622.00,538.96 622.00,541.66 625.10,541.66 625.10,539.96 628.20,539.96 628.20,539.53 631.30,539.53 631.30,539.41 632.20,539.41 632.20,546.00 635.30,546.00 635.30,538.72 637.50,538.72 637.50,539.62 640.60,539.62 640.60,541.05 643.70,541.05 643.70,540.66 646.80,540.66 646.80,541.22 649.90,541.22 649.90,540.23 653.00,540.23 653.00,539.80 654.90,539.80" fill="none" stroke="#5a12a3" stroke-width="1.75" stroke-linejoin="miter"/></g>
<rect x="460.60" y="478.27" width="203.30" height="78.90" fill="none" stroke="#262626" stroke-width="1.0"/>
<line x1="460.60" y1="509.10" x2="464.60" y2="509.10" stroke="#262626" stroke-width="1.1"/>
<line x1="460.60" y1="540.20" x2="464.60" y2="540.20" stroke="#262626" stroke-width="1.1"/>
<line x1="480.40" y1="557.17" x2="480.40" y2="553.17" stroke="#262626" stroke-width="1.1"/>
<text x="480.40" y="574.97" text-anchor="middle" font-size="16.0" fill="#1e1e1e" textLength="33.199999999999996" lengthAdjust="spacingAndGlyphs">4.04</text>
<line x1="562.90" y1="557.17" x2="562.90" y2="553.17" stroke="#262626" stroke-width="1.1"/>
<text x="562.90" y="574.97" text-anchor="middle" font-size="16.0" fill="#1e1e1e" textLength="32.9" lengthAdjust="spacingAndGlyphs">4.09</text>
<line x1="646.00" y1="557.17" x2="646.00" y2="553.17" stroke="#262626" stroke-width="1.1"/>
<text x="646.00" y="574.97" text-anchor="middle" font-size="16.0" fill="#1e1e1e" textLength="29.3" lengthAdjust="spacingAndGlyphs">4.14</text>
<text x="63.4" y="496.47" font-size="15" font-style="italic" fill="#1e1e1e">z</text>
<text x="75.0" y="496.47" font-size="15" fill="#1e1e1e" textLength="7.8" lengthAdjust="spacingAndGlyphs">=</text>
<text x="86.7" y="496.47" font-size="15" fill="#1e1e1e" textLength="39.0" lengthAdjust="spacingAndGlyphs">5.229</text>
<text transform="translate(673.4,515.20) rotate(90)" text-anchor="middle" font-size="15.8" fill="#1e1e1e" textLength="40.6" lengthAdjust="spacingAndGlyphs">77652</text>
<g clip-path="url(#cp50)"><polygon points="63.50,653.04 64.70,653.20 65.90,653.16 67.09,653.10 68.29,652.95 69.49,653.24 70.69,653.62 71.89,652.93 73.08,653.11 74.28,653.14 75.48,653.20 76.68,653.07 77.88,653.10 79.07,653.14 80.27,653.49 81.47,653.03 82.67,653.29 83.87,653.19 85.06,653.08 86.26,653.39 87.46,653.08 88.66,653.40 89.86,653.20 91.05,653.90 92.25,653.31 93.45,653.09 94.65,652.87 95.85,653.33 97.04,653.37 98.24,653.19 99.44,652.76 100.64,652.98 101.84,653.29 103.04,653.14 104.23,653.13 105.43,653.21 106.63,653.29 107.83,653.23 109.03,653.35 110.22,653.44 111.42,653.73 112.62,653.31 113.82,653.45 115.02,653.29 116.21,653.63 117.41,653.25 118.61,653.41 119.81,653.46 121.01,653.42 122.20,653.72 123.40,652.99 124.60,653.67 125.80,652.65 127.00,653.35 128.19,653.14 129.39,653.51 130.59,653.18 131.79,653.37 132.99,653.04 134.18,653.83 135.38,652.65 136.58,653.58 137.78,652.95 138.98,653.39 140.18,653.23 141.37,653.29 142.57,653.11 143.77,653.61 144.97,653.35 146.17,653.90 147.36,653.64 148.56,653.20 149.76,653.20 150.96,653.22 152.16,653.24 153.35,653.01 154.55,652.94 155.75,653.03 156.95,653.45 158.15,653.03 159.34,653.59 160.54,653.88 161.74,653.09 162.94,652.87 164.14,653.09 165.33,653.02 166.53,653.24 167.73,653.26 168.93,653.19 170.13,653.74 171.32,653.12 172.52,653.29 173.72,653.12 174.92,653.08 176.12,653.50 177.32,653.48 178.51,653.04 179.71,653.36 180.91,653.05 182.11,653.25 183.31,653.21 184.50,653.22 185.70,653.43 186.90,653.61 188.10,653.20 189.30,653.59 190.49,653.37 191.69,653.52 192.89,652.97 194.09,653.20 195.29,653.50 196.48,653.10 197.68,652.77 198.88,653.56 200.08,653.40 201.28,653.47 202.47,653.19 203.67,652.78 204.87,653.74 206.07,653.58 207.27,653.09 208.46,653.46 209.66,653.29 210.86,652.87 212.06,653.21 213.26,653.24 214.46,653.26 215.65,653.22 216.85,653.53 218.05,653.09 219.25,653.39 220.45,653.51 221.64,653.42 222.84,653.34 224.04,653.29 225.24,653.38 226.44,653.90 227.63,652.81 228.83,653.45 230.03,653.63 231.23,653.88 232.43,653.22 233.62,653.44 234.82,653.42 236.02,653.37 237.22,653.50 238.42,653.43 239.61,653.47 240.81,653.36 242.01,653.01 243.21,653.42 244.41,653.39 245.60,653.31 246.80,653.46 248.00,653.40 248.00,657.20 246.80,657.14 245.60,657.29 244.41,657.21 243.21,657.18 242.01,657.59 240.81,657.24 239.61,657.13 238.42,657.17 237.22,657.10 236.02,657.23 234.82,657.18 233.62,657.16 232.43,657.38 231.23,656.72 230.03,656.97 228.83,657.15 227.63,657.79 226.44,656.70 225.24,657.22 224.04,657.31 222.84,657.26 221.64,657.18 220.45,657.09 219.25,657.21 218.05,657.51 216.85,657.07 215.65,657.38 214.46,657.34 213.26,657.36 212.06,657.39 210.86,657.73 209.66,657.31 208.46,657.14 207.27,657.51 206.07,657.02 204.87,656.86 203.67,657.82 202.47,657.41 201.28,657.13 200.08,657.20 198.88,657.04 197.68,657.83 196.48,657.50 195.29,657.10 194.09,657.40 192.89,657.63 191.69,657.08 190.49,657.23 189.30,657.01 188.10,657.40 186.90,656.99 185.70,657.17 184.50,657.38 183.31,657.39 182.11,657.35 180.91,657.55 179.71,657.24 178.51,657.56 177.32,657.12 176.12,657.10 174.92,657.52 173.72,657.48 172.52,657.31 171.32,657.48 170.13,656.86 168.93,657.41 167.73,657.34 166.53,657.36 165.33,657.58 164.14,657.51 162.94,657.73 161.74,657.51 160.54,656.72 159.34,657.01 158.15,657.57 156.95,657.15 155.75,657.57 154.55,657.66 153.35,657.59 152.16,657.36 150.96,657.38 149.76,657.40 148.56,657.40 147.36,656.96 146.17,656.70 144.97,657.25 143.77,656.99 142.57,657.49 141.37,657.31 140.18,657.37 138.98,657.21 137.78,657.65 136.58,657.02 135.38,657.95 134.18,656.77 132.99,657.56 131.79,657.23 130.59,657.42 129.39,657.09 128.19,657.46 127.00,657.25 125.80,657.95 124.60,656.93 123.40,657.61 122.20,656.88 121.01,657.18 119.81,657.14 118.61,657.19 117.41,657.35 116.21,656.97 115.02,657.31 113.82,657.15 112.62,657.29 111.42,656.87 110.22,657.16 109.03,657.25 107.83,657.37 106.63,657.31 105.43,657.39 104.23,657.47 103.04,657.46 101.84,657.31 100.64,657.62 99.44,657.84 98.24,657.41 97.04,657.23 95.85,657.27 94.65,657.73 93.45,657.51 92.25,657.29 91.05,656.70 89.86,657.40 88.66,657.20 87.46,657.52 86.26,657.21 85.06,657.52 83.87,657.41 82.67,657.31 81.47,657.57 80.27,657.11 79.07,657.46 77.88,657.50 76.68,657.53 75.48,657.40 74.28,657.46 73.08,657.49 71.89,657.67 70.69,656.98 69.49,657.36 68.29,657.65 67.09,657.50 65.90,657.44 64.70,657.40 63.50,657.56" fill="#5a1fd8" fill-opacity="0.3" stroke="none"/><line x1="155.50" y1="670.37" x2="155.50" y2="591.47" stroke="#111" stroke-width="1.5" stroke-dasharray="5.4 5.5"/><polyline points="62.90,653.50 64.10,653.50 64.10,653.20 65.30,653.20 65.30,653.42 66.49,653.42 66.49,651.74 67.69,651.74 67.69,653.54 68.89,653.54 68.89,654.95 70.09,654.95 70.09,654.40 71.29,654.40 71.29,654.55 72.48,654.55 72.48,655.88 73.68,655.88 73.68,655.03 74.88,655.03 74.88,654.27 76.08,654.27 76.08,651.72 77.28,651.72 77.28,650.73 78.47,650.73 78.47,654.90 79.67,654.90 79.67,652.13 80.87,652.13 80.87,655.71 82.07,655.71 82.07,654.74 83.27,654.74 83.27,656.51 84.47,656.51 84.47,654.06 85.66,654.06 85.66,655.75 86.86,655.75 86.86,654.81 88.06,654.81 88.06,656.97 89.26,656.97 89.26,655.60 90.46,655.60 90.46,656.15 91.65,656.15 91.65,652.95 92.85,652.95 92.85,654.38 94.05,654.38 94.05,657.04 95.25,657.04 95.25,653.42 96.45,653.42 96.45,652.90 97.64,652.90 97.64,652.90 98.84,652.90 98.84,654.15 100.04,654.15 100.04,654.35 101.24,654.35 101.24,654.64 102.44,654.64 102.44,655.42 103.63,655.42 103.63,653.97 104.83,653.97 104.83,653.91 106.03,653.91 106.03,652.30 107.23,652.30 107.23,652.25 108.43,652.25 108.43,652.68 109.62,652.68 109.62,652.32 110.82,652.32 110.82,654.08 112.02,654.08 112.02,653.36 113.22,653.36 113.22,654.51 114.42,654.51 114.42,654.90 115.61,654.90 115.61,656.00 116.81,656.00 116.81,654.67 118.01,654.67 118.01,654.52 119.21,654.52 119.21,654.52 120.41,654.52 120.41,653.84 121.61,653.84 121.61,654.98 122.80,654.98 122.80,654.97 124.00,654.97 124.00,654.34 125.20,654.34 125.20,652.62 126.40,652.62 126.40,653.64 127.60,653.64 127.60,652.35 128.79,652.35 128.79,654.21 129.99,654.21 129.99,654.81 131.19,654.81 131.19,654.82 132.39,654.82 132.39,653.82 133.59,653.82 133.59,653.35 134.78,653.35 134.78,655.00 135.98,655.00 135.98,656.82 137.18,656.82 137.18,655.82 138.38,655.82 138.38,654.10 139.58,654.10 139.58,655.01 140.77,655.01 140.77,654.00 141.97,654.00 141.97,656.41 143.17,656.41 143.17,655.23 144.37,655.23 144.37,653.71 145.57,653.71 145.57,656.64 146.76,656.64 146.76,655.28 147.96,655.28 147.96,655.43 149.16,655.43 149.16,654.23 150.36,654.23 150.36,654.45 151.56,654.45 151.56,655.00 152.75,655.00 152.75,652.24 153.95,652.24 153.95,653.23 155.15,653.23 155.15,655.49 156.35,655.49 156.35,654.29 157.55,654.29 157.55,652.99 158.75,652.99 158.75,655.05 159.94,655.05 159.94,655.06 161.14,655.06 161.14,656.21 162.34,656.21 162.34,654.80 163.54,654.80 163.54,654.92 164.74,654.92 164.74,656.89 165.93,656.89 165.93,655.00 167.13,655.00 167.13,654.96 168.33,654.96 168.33,653.94 169.53,653.94 169.53,655.13 170.73,655.13 170.73,652.91 171.92,652.91 171.92,654.77 173.12,654.77 173.12,653.54 174.32,653.54 174.32,655.63 175.52,655.63 175.52,654.74 176.72,654.74 176.72,655.88 177.91,655.88 177.91,652.67 179.11,652.67 179.11,653.33 180.31,653.33 180.31,654.67 181.51,654.67 181.51,654.92 182.71,654.92 182.71,652.58 183.90,652.58 183.90,654.79 185.10,654.79 185.10,653.59 186.30,653.59 186.30,653.59 187.50,653.59 187.50,654.72 188.70,654.72 188.70,654.14 189.89,654.14 189.89,652.80 191.09,652.80 191.09,654.66 192.29,654.66 192.29,655.17 193.49,655.17 193.49,652.21 194.69,652.21 194.69,653.72 195.89,653.72 195.89,654.63 197.08,654.63 197.08,654.16 198.28,654.16 198.28,652.84 199.48,652.84 199.48,655.12 200.68,655.12 200.68,652.04 201.88,652.04 201.88,654.48 203.07,654.48 203.07,652.28 204.27,652.28 204.27,654.25 205.47,654.25 205.47,653.73 206.67,653.73 206.67,653.24 207.87,653.24 207.87,654.60 209.06,654.60 209.06,654.38 210.26,654.38 210.26,656.35 211.46,656.35 211.46,652.07 212.66,652.07 212.66,651.74 213.86,651.74 213.86,655.28 215.05,655.28 215.05,653.53 216.25,653.53 216.25,654.35 217.45,654.35 217.45,655.85 218.65,655.85 218.65,657.15 219.85,657.15 219.85,656.01 221.04,656.01 221.04,652.27 222.24,652.27 222.24,653.05 223.44,653.05 223.44,654.14 224.64,654.14 224.64,656.53 225.84,656.53 225.84,656.86 227.03,656.86 227.03,655.84 228.23,655.84 228.23,655.88 229.43,655.88 229.43,655.15 230.63,655.15 230.63,654.19 231.83,654.19 231.83,653.91 233.03,653.91 233.03,655.61 234.22,655.61 234.22,654.26 235.42,654.26 235.42,654.29 236.62,654.29 236.62,654.03 237.82,654.03 237.82,654.42 239.02,654.42 239.02,652.04 240.21,652.04 240.21,652.59 241.41,652.59 241.41,652.91 242.61,652.91 242.61,653.02 243.81,653.02 243.81,654.60 245.01,654.60 245.01,654.07 246.20,654.07 246.20,656.73 247.40,656.73 247.40,655.40 248.60,655.40" fill="none" stroke="#5a1fd8" stroke-width="1.75" stroke-linejoin="miter"/></g>
<rect x="53.90" y="591.47" width="203.65" height="78.90" fill="none" stroke="#262626" stroke-width="1.0"/>
<line x1="53.90" y1="599.00" x2="57.90" y2="599.00" stroke="#262626" stroke-width="1.1"/>
<text x="45.6" y="604.50" text-anchor="end" font-size="16.0" fill="#1e1e1e" textLength="8.9" lengthAdjust="spacingAndGlyphs">2</text>
<line x1="53.90" y1="655.30" x2="57.90" y2="655.30" stroke="#262626" stroke-width="1.1"/>
<text x="45.6" y="660.80" text-anchor="end" font-size="16.0" fill="#1e1e1e" textLength="10.5" lengthAdjust="spacingAndGlyphs">0</text>
<line x1="122.70" y1="670.37" x2="122.70" y2="666.37" stroke="#262626" stroke-width="1.1"/>
<text x="122.70" y="689.57" text-anchor="middle" font-size="16.0" fill="#1e1e1e" textLength="30.5" lengthAdjust="spacingAndGlyphs">1.00</text>
<line x1="201.10" y1="670.37" x2="201.10" y2="666.37" stroke="#262626" stroke-width="1.1"/>
<text x="201.10" y="689.57" text-anchor="middle" font-size="16.0" fill="#1e1e1e" textLength="29.1" lengthAdjust="spacingAndGlyphs">1.05</text>
<g clip-path="url(#cp51)"><polygon points="266.60,652.98 267.90,653.08 269.19,652.73 270.49,653.21 271.79,653.33 273.08,653.37 274.38,652.96 275.68,653.70 276.98,653.26 278.27,652.82 279.57,653.47 280.87,652.93 282.17,653.49 283.46,653.28 284.76,653.03 286.06,652.72 287.35,653.27 288.65,652.99 289.95,652.83 291.25,652.83 292.54,652.85 293.70,652.92 294.85,653.34 296.45,652.49 298.50,653.10 300.40,653.14 302.55,653.16 306.98,653.03 310.70,653.04 312.00,653.01 313.30,653.08 314.60,653.40 315.89,652.22 317.19,653.29 318.49,653.34 319.78,653.26 321.08,653.68 322.38,653.26 323.68,653.34 324.97,653.37 326.27,653.02 327.57,653.19 328.86,652.81 330.16,653.11 331.46,653.24 332.76,652.83 334.05,652.86 335.35,653.06 336.65,652.97 337.94,652.83 339.24,653.30 340.54,653.15 341.84,653.26 343.13,653.14 344.43,653.12 345.73,653.59 347.03,652.82 348.32,653.24 349.62,653.20 350.92,653.15 352.21,653.23 353.51,653.16 354.81,653.67 356.23,653.09 357.75,653.46 359.60,653.23 361.50,652.51 362.77,652.99 363.89,653.44 365.19,653.37 366.48,653.57 367.78,653.06 369.08,653.10 370.37,652.80 371.67,653.52 372.97,652.78 374.27,653.34 375.56,652.99 376.86,653.00 378.16,653.13 379.55,652.78 381.30,652.63 383.35,652.98 385.40,652.98 388.00,653.26 390.69,653.23 392.43,652.79 393.72,652.92 395.02,653.29 396.32,653.02 397.62,653.26 398.91,652.82 400.21,652.82 401.51,652.97 402.80,652.92 404.10,652.94 405.40,653.00 406.70,653.40 407.99,653.08 409.29,653.49 410.59,653.24 411.89,653.02 413.18,652.62 414.48,653.21 415.78,653.20 417.07,653.34 418.37,653.54 419.67,653.30 420.97,652.79 422.26,652.79 423.56,652.97 424.86,653.02 426.15,652.79 427.45,653.66 428.75,653.27 430.05,652.74 431.34,652.88 432.64,652.97 433.94,653.13 435.23,652.65 436.53,653.02 437.83,653.04 439.13,653.08 440.42,652.73 441.72,653.19 443.02,653.36 444.32,653.02 445.61,653.11 446.91,653.34 448.21,653.16 449.50,653.30 450.80,653.70 450.80,656.90 449.50,657.30 448.21,657.44 446.91,657.26 445.61,657.49 444.32,657.58 443.02,657.24 441.72,657.41 440.42,657.87 439.13,657.52 437.83,657.56 436.53,657.58 435.23,657.95 433.94,657.47 432.64,657.63 431.34,657.72 430.05,657.86 428.75,657.33 427.45,656.94 426.15,657.81 424.86,657.58 423.56,657.63 422.26,657.81 420.97,657.81 419.67,657.30 418.37,657.06 417.07,657.26 415.78,657.40 414.48,657.39 413.18,657.98 411.89,657.58 410.59,657.36 409.29,657.11 407.99,657.52 406.70,657.20 405.40,657.60 404.10,657.66 402.80,657.68 401.51,657.63 400.21,657.78 398.91,657.78 397.62,657.34 396.32,657.58 395.02,657.31 393.72,657.68 392.43,657.81 390.69,657.37 388.00,657.34 385.40,657.62 383.35,657.62 381.30,657.97 379.55,657.82 378.16,657.47 376.86,657.60 375.56,657.61 374.27,657.26 372.97,657.82 371.67,657.08 370.37,657.80 369.08,657.50 367.78,657.54 366.48,657.03 365.19,657.23 363.89,657.16 362.77,657.61 361.50,658.09 359.60,657.37 357.75,657.14 356.23,657.51 354.81,656.93 353.51,657.44 352.21,657.37 350.92,657.45 349.62,657.40 348.32,657.36 347.03,657.78 345.73,657.01 344.43,657.48 343.13,657.46 341.84,657.34 340.54,657.45 339.24,657.30 337.94,657.77 336.65,657.63 335.35,657.54 334.05,657.74 332.76,657.77 331.46,657.36 330.16,657.49 328.86,657.79 327.57,657.41 326.27,657.58 324.97,657.23 323.68,657.26 322.38,657.34 321.08,656.92 319.78,657.34 318.49,657.26 317.19,657.31 315.89,658.38 314.60,657.20 313.30,657.52 312.00,657.59 310.70,657.56 306.98,657.57 302.55,657.44 300.40,657.46 298.50,657.50 296.45,658.11 294.85,657.26 293.70,657.68 292.54,657.75 291.25,657.77 289.95,657.77 288.65,657.61 287.35,657.33 286.06,657.88 284.76,657.57 283.46,657.32 282.17,657.11 280.87,657.67 279.57,657.13 278.27,657.78 276.98,657.34 275.68,656.90 274.38,657.64 273.08,657.23 271.79,657.27 270.49,657.39 269.19,657.87 267.90,657.52 266.60,657.62" fill="#5a1fd8" fill-opacity="0.3" stroke="none"/><line x1="298.50" y1="670.37" x2="298.50" y2="591.47" stroke="#111" stroke-width="1.5" stroke-dasharray="5.4 5.5"/><line x1="359.10" y1="670.37" x2="359.10" y2="591.47" stroke="#111" stroke-width="1.5" stroke-dasharray="5.4 5.5"/><line x1="388.40" y1="670.37" x2="388.40" y2="591.47" stroke="#111" stroke-width="1.5" stroke-dasharray="5.4 5.5"/><polyline points="265.95,652.67 267.25,652.67 267.25,654.64 268.54,654.64 268.54,651.83 269.84,651.83 269.84,653.22 271.14,653.22 271.14,652.54 272.44,652.54 272.44,657.69 273.73,657.69 273.73,652.21 275.03,652.21 275.03,651.14 276.33,651.14 276.33,653.76 277.62,653.76 277.62,653.18 278.92,653.18 278.92,653.65 280.22,653.65 280.22,652.76 281.52,652.76 281.52,652.77 282.81,652.77 282.81,654.28 284.11,654.28 284.11,655.41 285.41,655.41 285.41,654.47 286.71,654.47 286.71,656.25 288.00,656.25 288.00,653.66 289.30,653.66 289.30,653.86 290.60,653.86 290.60,653.02 291.89,653.02 291.89,654.10 293.19,654.10 293.19,653.88 294.20,653.88 294.20,652.40 295.50,652.40 295.50,649.70 297.40,649.70 297.40,645.40 299.60,645.40 299.60,651.30 301.20,651.30 301.20,654.50 303.90,654.50 303.90,652.60 310.05,652.60 310.05,654.45 311.35,654.45 311.35,654.69 312.65,654.69 312.65,654.79 313.95,654.79 313.95,654.96 315.24,654.96 315.24,656.19 316.54,656.19 316.54,654.79 317.84,654.79 317.84,653.59 319.14,653.59 319.14,653.43 320.43,653.43 320.43,652.88 321.73,652.88 321.73,656.20 323.03,656.20 323.03,653.90 324.32,653.90 324.32,656.10 325.62,656.10 325.62,654.61 326.92,654.61 326.92,654.45 328.22,654.45 328.22,656.05 329.51,656.05 329.51,655.17 330.81,655.17 330.81,656.77 332.11,656.77 332.11,652.46 333.40,652.46 333.40,652.54 334.70,652.54 334.70,652.76 336.00,652.76 336.00,653.44 337.30,653.44 337.30,652.56 338.59,652.56 338.59,652.26 339.89,652.26 339.89,654.35 341.19,654.35 341.19,654.72 342.48,654.72 342.48,653.66 343.78,653.66 343.78,653.31 345.08,653.31 345.08,652.98 346.38,652.98 346.38,650.81 347.67,650.81 347.67,650.15 348.97,650.15 348.97,653.85 350.27,653.85 350.27,655.46 351.57,655.46 351.57,652.85 352.86,652.85 352.86,653.80 354.16,653.80 354.16,656.69 355.46,656.69 355.46,653.76 357.00,653.76 357.00,646.50 358.50,646.50 358.50,640.50 360.70,640.50 360.70,650.20 362.30,650.20 362.30,652.85 363.24,652.85 363.24,651.52 364.54,651.52 364.54,655.88 365.83,655.88 365.83,654.41 367.13,654.41 367.13,655.46 368.43,655.46 368.43,655.38 369.73,655.38 369.73,653.87 371.02,653.87 371.02,654.48 372.32,654.48 372.32,654.83 373.62,654.83 373.62,653.64 374.92,653.64 374.92,655.25 376.21,655.25 376.21,655.39 377.51,655.39 377.51,656.99 378.81,656.99 378.81,657.08 380.30,657.08 380.30,653.40 382.30,653.40 382.30,651.40 384.40,651.40 384.40,645.30 386.40,645.30 386.40,628.50 389.60,628.50 389.60,635.70 391.78,635.70 391.78,655.19 393.08,655.19 393.08,651.90 394.37,651.90 394.37,654.18 395.67,654.18 395.67,655.98 396.97,655.98 396.97,653.26 398.26,653.26 398.26,654.47 399.56,654.47 399.56,654.72 400.86,654.72 400.86,654.39 402.16,654.39 402.16,649.99 403.45,649.99 403.45,654.98 404.75,654.98 404.75,650.62 406.05,650.62 406.05,653.52 407.35,653.52 407.35,655.56 408.64,655.56 408.64,653.50 409.94,653.50 409.94,656.45 411.24,656.45 411.24,654.44 412.53,654.44 412.53,655.58 413.83,655.58 413.83,658.08 415.13,658.08 415.13,654.72 416.43,654.72 416.43,653.44 417.72,653.44 417.72,653.36 419.02,653.36 419.02,653.56 420.32,653.56 420.32,653.97 421.61,653.97 421.61,654.20 422.91,654.20 422.91,652.86 424.21,652.86 424.21,653.07 425.51,653.07 425.51,654.27 426.80,654.27 426.80,656.28 428.10,656.28 428.10,653.07 429.40,653.07 429.40,651.82 430.69,651.82 430.69,652.34 431.99,652.34 431.99,651.66 433.29,651.66 433.29,653.09 434.59,653.09 434.59,654.57 435.88,654.57 435.88,655.07 437.18,655.07 437.18,654.86 438.48,654.86 438.48,654.80 439.78,654.80 439.78,655.19 441.07,655.19 441.07,655.79 442.37,655.79 442.37,655.67 443.67,655.67 443.67,653.52 444.96,653.52 444.96,651.38 446.26,651.38 446.26,653.43 447.56,653.43 447.56,651.79 448.86,651.79 448.86,653.12 450.15,653.12 450.15,651.57 451.45,651.57" fill="none" stroke="#5a1fd8" stroke-width="1.75" stroke-linejoin="miter"/></g>
<rect x="257.55" y="591.47" width="203.05" height="78.90" fill="none" stroke="#262626" stroke-width="1.0"/>
<line x1="257.55" y1="599.00" x2="261.55" y2="599.00" stroke="#262626" stroke-width="1.1"/>
<line x1="257.55" y1="655.30" x2="261.55" y2="655.30" stroke="#262626" stroke-width="1.1"/>
<line x1="291.80" y1="670.37" x2="291.80" y2="666.37" stroke="#262626" stroke-width="1.1"/>
<text x="291.80" y="689.57" text-anchor="middle" font-size="16.0" fill="#1e1e1e" textLength="21.6" lengthAdjust="spacingAndGlyphs">3.2</text>
<line x1="387.40" y1="670.37" x2="387.40" y2="666.37" stroke="#262626" stroke-width="1.1"/>
<text x="387.40" y="689.57" text-anchor="middle" font-size="16.0" fill="#1e1e1e" textLength="21.9" lengthAdjust="spacingAndGlyphs">3.3</text>
<g clip-path="url(#cp52)"><polygon points="470.75,653.05 473.60,653.35 476.60,652.62 478.80,653.66 481.05,652.60 483.35,653.11 485.65,653.54 488.70,653.29 491.65,653.50 494.60,653.41 497.60,653.49 500.60,652.95 503.60,653.15 506.60,653.05 509.60,653.16 512.60,653.26 515.60,653.05 518.60,652.89 521.60,652.98 524.60,653.01 527.60,652.93 530.60,653.19 533.60,652.39 536.65,652.80 539.70,652.71 543.50,652.60 547.50,652.61 550.85,652.20 553.75,652.83 556.55,652.00 559.40,652.20 563.65,652.01 567.95,652.19 570.60,652.58 573.45,652.73 576.50,653.18 579.30,652.61 581.85,652.51 585.65,652.84 591.30,653.35 595.70,653.18 598.50,652.96 601.50,652.65 604.50,653.35 607.50,653.46 610.50,652.99 613.50,652.77 616.50,653.03 619.50,653.03 622.50,653.24 625.50,653.01 628.50,652.84 631.50,653.09 634.50,653.21 636.70,653.20 638.90,653.18 641.20,653.06 643.55,653.34 646.55,652.94 649.50,653.08 652.50,653.28 654.45,653.54 654.45,657.06 652.50,657.32 649.50,657.52 646.55,657.66 643.55,657.26 641.20,657.54 638.90,657.42 636.70,657.40 634.50,657.39 631.50,657.51 628.50,657.76 625.50,657.59 622.50,657.36 619.50,657.57 616.50,657.57 613.50,657.83 610.50,657.61 607.50,657.14 604.50,657.25 601.50,657.95 598.50,657.64 595.70,657.42 591.30,657.25 585.65,657.76 581.85,658.09 579.30,657.99 576.50,657.42 573.45,657.87 570.60,658.02 567.95,658.41 563.65,658.59 559.40,658.40 556.55,658.60 553.75,657.77 550.85,658.40 547.50,657.99 543.50,658.00 539.70,657.89 536.65,657.80 533.60,658.21 530.60,657.41 527.60,657.67 524.60,657.59 521.60,657.62 518.60,657.71 515.60,657.55 512.60,657.34 509.60,657.44 506.60,657.55 503.60,657.45 500.60,657.65 497.60,657.11 494.60,657.19 491.65,657.10 488.70,657.31 485.65,657.06 483.35,657.49 481.05,658.00 478.80,656.94 476.60,657.98 473.60,657.25 470.75,657.55" fill="#5a1fd8" fill-opacity="0.3" stroke="none"/><line x1="547.90" y1="670.37" x2="547.90" y2="591.47" stroke="#111" stroke-width="1.5" stroke-dasharray="5.4 5.5"/><line x1="562.30" y1="670.37" x2="562.30" y2="591.47" stroke="#111" stroke-width="1.5" stroke-dasharray="5.4 5.5"/><line x1="584.70" y1="670.37" x2="584.70" y2="591.47" stroke="#111" stroke-width="1.5" stroke-dasharray="5.4 5.5"/><polyline points="469.40,654.23 472.10,654.23 472.10,655.24 475.10,655.24 475.10,653.37 478.10,653.37 478.10,653.78 479.50,653.78 479.50,659.60 482.60,659.60 482.60,653.86 484.10,653.86 484.10,652.45 487.20,652.45 487.20,658.00 490.20,658.00 490.20,652.87 493.10,652.87 493.10,650.63 496.10,650.63 496.10,654.14 499.10,654.14 499.10,652.09 502.10,652.09 502.10,653.33 505.10,653.33 505.10,651.46 508.10,651.46 508.10,651.84 511.10,651.84 511.10,656.13 514.10,656.13 514.10,651.67 517.10,651.67 517.10,653.41 520.10,653.41 520.10,654.14 523.10,654.14 523.10,653.41 526.10,653.41 526.10,652.45 529.10,652.45 529.10,653.93 532.10,653.93 532.10,654.21 535.10,654.21 535.10,651.10 538.20,651.10 538.20,647.70 541.20,647.70 541.20,650.00 545.80,650.00 545.80,648.20 549.20,648.20 549.20,651.10 552.50,651.10 552.50,647.20 555.00,647.20 555.00,641.60 558.10,641.60 558.10,629.00 560.70,629.00 560.70,600.70 566.60,600.70 566.60,636.50 569.30,636.50 569.30,642.60 571.90,642.60 571.90,646.20 575.00,646.20 575.00,646.80 578.00,646.80 578.00,647.30 580.60,647.30 580.60,649.20 583.10,649.20 583.10,647.40 588.20,647.40 588.20,650.50 594.40,650.50 594.40,652.80 597.00,652.80 597.00,648.20 600.00,648.20 600.00,652.69 603.00,652.69 603.00,653.18 606.00,653.18 606.00,652.76 609.00,652.76 609.00,654.99 612.00,654.99 612.00,653.19 615.00,653.19 615.00,653.15 618.00,653.15 618.00,652.69 621.00,652.69 621.00,652.80 624.00,652.80 624.00,652.04 627.00,652.04 627.00,651.94 630.00,651.94 630.00,652.66 633.00,652.66 633.00,653.29 636.00,653.29 636.00,652.38 637.40,652.38 637.40,657.10 640.40,657.10 640.40,654.58 642.00,654.58 642.00,649.80 645.10,649.80 645.10,652.09 648.00,652.09 648.00,655.97 651.00,655.97 651.00,652.17 654.00,652.17 654.00,654.03 654.90,654.03" fill="none" stroke="#5a1fd8" stroke-width="1.75" stroke-linejoin="miter"/></g>
<rect x="460.60" y="591.47" width="203.30" height="78.90" fill="none" stroke="#262626" stroke-width="1.0"/>
<line x1="460.60" y1="599.00" x2="464.60" y2="599.00" stroke="#262626" stroke-width="1.1"/>
<line x1="460.60" y1="655.30" x2="464.60" y2="655.30" stroke="#262626" stroke-width="1.1"/>
<line x1="517.20" y1="670.37" x2="517.20" y2="666.37" stroke="#262626" stroke-width="1.1"/>
<text x="517.20" y="689.57" text-anchor="middle" font-size="16.0" fill="#1e1e1e" textLength="32.5" lengthAdjust="spacingAndGlyphs">4.30</text>
<line x1="595.40" y1="670.37" x2="595.40" y2="666.37" stroke="#262626" stroke-width="1.1"/>
<text x="595.40" y="689.57" text-anchor="middle" font-size="16.0" fill="#1e1e1e" textLength="31.1" lengthAdjust="spacingAndGlyphs">4.35</text>
<text x="63.4" y="609.67" font-size="15" font-style="italic" fill="#1e1e1e">z</text>
<text x="75.0" y="609.67" font-size="15" fill="#1e1e1e" textLength="7.8" lengthAdjust="spacingAndGlyphs">=</text>
<text x="86.7" y="609.67" font-size="15" fill="#1e1e1e" textLength="39.6" lengthAdjust="spacingAndGlyphs">5.595</text>
<text transform="translate(673.4,632.20) rotate(90)" text-anchor="middle" font-size="15.8" fill="#1e1e1e" textLength="34.2" lengthAdjust="spacingAndGlyphs">1093</text>
<g clip-path="url(#cp60)"><polygon points="63.50,771.80 64.70,771.60 65.90,771.72 67.09,771.66 68.29,771.69 69.49,772.05 70.69,771.57 71.89,771.66 71.89,774.54 70.69,774.63 69.49,774.15 68.29,774.51 67.09,774.54 65.90,774.48 64.70,774.60 63.50,774.40" fill="#4650f5" fill-opacity="0.3" stroke="none"/><polygon points="197.68,771.42 198.88,771.77 200.08,771.63 201.28,771.71 202.47,771.59 203.67,771.62 204.87,772.04 206.07,771.60 207.27,771.73 208.46,771.56 209.66,771.41 210.86,771.51 212.06,771.62 213.26,772.01 214.46,771.62 215.65,771.54 216.85,771.61 218.05,771.77 219.25,771.48 220.45,771.81 221.64,771.52 222.84,771.83 224.04,771.66 225.24,771.94 226.44,771.55 227.63,771.49 228.83,771.66 230.03,771.87 231.23,771.68 232.43,771.29 233.62,771.71 234.82,771.85 236.02,771.61 237.22,771.73 238.42,771.44 239.61,771.60 240.81,771.58 242.01,771.65 243.21,771.40 244.41,771.54 245.60,771.70 246.80,771.54 248.00,771.62 248.00,774.58 246.80,774.66 245.60,774.50 244.41,774.66 243.21,774.80 242.01,774.55 240.81,774.62 239.61,774.60 238.42,774.76 237.22,774.47 236.02,774.59 234.82,774.35 233.62,774.49 232.43,774.91 231.23,774.52 230.03,774.33 228.83,774.54 227.63,774.71 226.44,774.65 225.24,774.26 224.04,774.54 222.84,774.37 221.64,774.68 220.45,774.39 219.25,774.72 218.05,774.43 216.85,774.59 215.65,774.66 214.46,774.58 213.26,774.19 212.06,774.58 210.86,774.69 209.66,774.79 208.46,774.64 207.27,774.47 206.07,774.60 204.87,774.16 203.67,774.58 202.47,774.61 201.28,774.49 200.08,774.57 198.88,774.43 197.68,774.78" fill="#4650f5" fill-opacity="0.3" stroke="none"/><line x1="155.50" y1="783.57" x2="155.50" y2="704.67" stroke="#111" stroke-width="1.5" stroke-dasharray="5.4 5.5"/><polyline points="62.90,773.75 64.10,773.75 64.10,773.29 65.30,773.29 65.30,771.78 66.49,771.78 66.49,772.24 67.69,772.24 67.69,773.01 68.89,773.01 68.89,773.48 70.09,773.48 70.09,772.56 71.29,772.56 71.29,773.40 72.40,773.40" fill="none" stroke="#4650f5" stroke-width="1.75" stroke-linejoin="miter"/><polyline points="196.50,773.38 198.28,773.38 198.28,773.17 199.48,773.17 199.48,772.62 200.68,772.62 200.68,771.98 201.88,771.98 201.88,773.29 203.07,773.29 203.07,773.26 204.27,773.26 204.27,773.37 205.47,773.37 205.47,773.12 206.67,773.12 206.67,772.16 207.87,772.16 207.87,772.88 209.06,772.88 209.06,772.39 210.26,772.39 210.26,772.32 211.46,772.32 211.46,772.63 212.66,772.63 212.66,772.08 213.86,772.08 213.86,772.24 215.05,772.24 215.05,772.96 216.25,772.96 216.25,772.33 217.45,772.33 217.45,773.09 218.65,773.09 218.65,773.04 219.85,773.04 219.85,772.25 221.04,772.25 221.04,773.00 222.24,773.00 222.24,773.24 223.44,773.24 223.44,772.26 224.64,772.26 224.64,773.18 225.84,773.18 225.84,773.02 227.03,773.02 227.03,772.43 228.23,772.43 228.23,773.84 229.43,773.84 229.43,773.84 230.63,773.84 230.63,772.61 231.83,772.61 231.83,772.52 233.03,772.52 233.03,772.90 234.22,772.90 234.22,774.07 235.42,774.07 235.42,774.54 236.62,774.54 236.62,773.49 237.82,773.49 237.82,773.48 239.02,773.48 239.02,773.67 240.21,773.67 240.21,772.36 241.41,772.36 241.41,772.11 242.61,772.11 242.61,771.62 243.81,771.62 243.81,772.32 245.01,772.32 245.01,773.06 246.20,773.06 246.20,771.73 247.40,771.73 247.40,771.53 248.60,771.53" fill="none" stroke="#4650f5" stroke-width="1.75" stroke-linejoin="miter"/></g>
<rect x="53.90" y="704.67" width="203.65" height="78.90" fill="none" stroke="#262626" stroke-width="1.0"/>
<line x1="53.90" y1="708.60" x2="57.90" y2="708.60" stroke="#262626" stroke-width="1.1"/>
<text x="45.6" y="714.10" text-anchor="end" font-size="16.0" fill="#1e1e1e" textLength="9.1" lengthAdjust="spacingAndGlyphs">5</text>
<line x1="53.90" y1="773.10" x2="57.90" y2="773.10" stroke="#262626" stroke-width="1.1"/>
<text x="45.6" y="778.60" text-anchor="end" font-size="16.0" fill="#1e1e1e" textLength="10.5" lengthAdjust="spacingAndGlyphs">0</text>
<line x1="58.60" y1="783.57" x2="58.60" y2="779.57" stroke="#262626" stroke-width="1.1"/>
<text x="58.60" y="803.07" text-anchor="middle" font-size="16.0" fill="#1e1e1e" textLength="30.5" lengthAdjust="spacingAndGlyphs">1.00</text>
<line x1="134.30" y1="783.57" x2="134.30" y2="779.57" stroke="#262626" stroke-width="1.1"/>
<text x="134.30" y="803.07" text-anchor="middle" font-size="16.0" fill="#1e1e1e" textLength="29.1" lengthAdjust="spacingAndGlyphs">1.05</text>
<line x1="209.40" y1="783.57" x2="209.40" y2="779.57" stroke="#262626" stroke-width="1.1"/>
<text x="209.40" y="803.07" text-anchor="middle" font-size="16.0" fill="#1e1e1e" textLength="26.6" lengthAdjust="spacingAndGlyphs">1.10</text>
<g clip-path="url(#cp61)"><polygon points="266.60,771.67 267.90,771.58 269.19,771.43 270.49,771.84 271.79,771.53 273.08,771.67 274.38,771.34 275.68,771.39 276.98,771.64 278.27,771.84 279.57,771.73 280.87,771.87 282.17,771.61 283.46,771.70 284.76,771.82 286.06,771.64 287.35,771.53 288.65,771.58 289.95,771.31 291.25,771.69 292.54,771.31 293.80,771.73 295.20,771.88 297.35,771.68 299.50,771.84 300.64,771.54 301.62,771.46 302.92,771.70 304.22,771.49 305.51,771.75 306.81,771.46 308.11,771.50 309.41,771.59 310.70,771.48 312.00,771.55 313.30,771.67 314.60,771.47 315.89,771.63 317.19,771.44 318.49,771.45 319.78,771.27 321.08,771.44 322.38,771.81 323.68,771.54 324.97,771.45 326.27,771.72 327.57,771.77 328.86,771.50 330.16,771.34 331.46,771.87 332.76,771.52 334.05,771.65 335.35,771.72 336.65,771.59 337.94,771.31 339.24,771.50 340.54,771.87 341.84,771.39 343.13,771.55 344.43,771.78 345.73,771.56 347.03,771.40 348.32,771.24 349.62,771.65 350.92,771.36 352.21,771.46 353.73,771.52 355.35,771.51 356.50,771.63 358.20,771.45 360.30,771.38 362.30,771.68 364.02,771.56 365.19,771.79 366.48,771.96 367.78,771.60 369.08,771.24 370.37,771.60 371.67,771.79 372.97,771.72 374.27,771.69 375.56,771.61 376.86,771.58 378.16,771.72 379.46,771.41 380.75,771.85 382.05,771.61 383.35,771.69 384.40,771.46 386.00,771.55 388.00,770.85 389.60,771.18 391.20,771.64 392.54,771.59 393.72,771.53 395.02,771.87 396.32,771.80 397.62,771.50 398.91,771.68 400.21,771.86 401.51,771.60 402.80,771.61 404.10,771.64 405.40,771.80 406.70,771.95 407.99,771.53 409.29,771.79 410.59,771.25 411.89,771.44 413.18,771.72 414.48,771.56 415.78,771.59 417.07,771.67 418.37,771.52 419.67,771.81 420.97,771.52 422.26,771.55 423.56,771.67 424.86,771.64 426.15,771.90 427.45,771.59 428.75,771.34 430.05,771.69 431.34,771.58 432.64,771.92 433.94,771.76 435.23,771.80 436.53,771.68 437.83,771.94 439.13,771.63 440.42,771.92 441.72,771.82 443.02,771.68 444.32,771.96 445.61,771.67 446.91,771.52 448.21,771.55 449.50,771.35 450.80,771.26 450.80,774.94 449.50,774.85 448.21,774.65 446.91,774.68 445.61,774.53 444.32,774.24 443.02,774.52 441.72,774.38 440.42,774.28 439.13,774.57 437.83,774.26 436.53,774.52 435.23,774.40 433.94,774.44 432.64,774.28 431.34,774.62 430.05,774.51 428.75,774.86 427.45,774.61 426.15,774.30 424.86,774.56 423.56,774.53 422.26,774.65 420.97,774.68 419.67,774.39 418.37,774.68 417.07,774.53 415.78,774.61 414.48,774.64 413.18,774.48 411.89,774.76 410.59,774.95 409.29,774.41 407.99,774.67 406.70,774.25 405.40,774.40 404.10,774.56 402.80,774.59 401.51,774.60 400.21,774.34 398.91,774.52 397.62,774.70 396.32,774.40 395.02,774.33 393.72,774.67 392.54,774.61 391.20,774.56 389.60,775.02 388.00,775.35 386.00,774.65 384.40,774.74 383.35,774.51 382.05,774.59 380.75,774.35 379.46,774.79 378.16,774.48 376.86,774.62 375.56,774.59 374.27,774.51 372.97,774.48 371.67,774.41 370.37,774.60 369.08,774.96 367.78,774.60 366.48,774.24 365.19,774.41 364.02,774.64 362.30,774.52 360.30,774.82 358.20,774.75 356.50,774.57 355.35,774.69 353.73,774.68 352.21,774.74 350.92,774.84 349.62,774.55 348.32,774.96 347.03,774.80 345.73,774.64 344.43,774.42 343.13,774.65 341.84,774.81 340.54,774.33 339.24,774.70 337.94,774.89 336.65,774.61 335.35,774.48 334.05,774.55 332.76,774.68 331.46,774.33 330.16,774.86 328.86,774.70 327.57,774.43 326.27,774.48 324.97,774.75 323.68,774.66 322.38,774.39 321.08,774.76 319.78,774.93 318.49,774.75 317.19,774.76 315.89,774.57 314.60,774.73 313.30,774.53 312.00,774.65 310.70,774.72 309.41,774.61 308.11,774.70 306.81,774.74 305.51,774.45 304.22,774.71 302.92,774.50 301.62,774.74 300.64,774.66 299.50,774.36 297.35,774.52 295.20,774.32 293.80,774.47 292.54,774.89 291.25,774.51 289.95,774.89 288.65,774.62 287.35,774.67 286.06,774.56 284.76,774.38 283.46,774.50 282.17,774.59 280.87,774.33 279.57,774.47 278.27,774.36 276.98,774.56 275.68,774.81 274.38,774.86 273.08,774.53 271.79,774.67 270.49,774.36 269.19,774.77 267.90,774.62 266.60,774.53" fill="#4650f5" fill-opacity="0.3" stroke="none"/><line x1="298.00" y1="783.57" x2="298.00" y2="704.67" stroke="#111" stroke-width="1.5" stroke-dasharray="5.4 5.5"/><line x1="358.60" y1="783.57" x2="358.60" y2="704.67" stroke="#111" stroke-width="1.5" stroke-dasharray="5.4 5.5"/><line x1="387.80" y1="783.57" x2="387.80" y2="704.67" stroke="#111" stroke-width="1.5" stroke-dasharray="5.4 5.5"/><polyline points="265.95,773.11 267.25,773.11 267.25,772.86 268.54,772.86 268.54,772.56 269.84,772.56 269.84,773.62 271.14,773.62 271.14,773.44 272.44,773.44 272.44,772.60 273.73,772.60 273.73,773.51 275.03,773.51 275.03,772.48 276.33,772.48 276.33,771.76 277.62,771.76 277.62,771.20 278.92,771.20 278.92,771.43 280.22,771.43 280.22,771.82 281.52,771.82 281.52,771.53 282.81,771.53 282.81,772.79 284.11,772.79 284.11,773.63 285.41,773.63 285.41,772.92 286.71,772.92 286.71,773.36 288.00,773.36 288.00,772.39 289.30,772.39 289.30,771.64 290.60,771.64 290.60,773.00 291.89,773.00 291.89,772.70 293.19,772.70 293.19,772.10 294.40,772.10 294.40,768.50 296.00,768.50 296.00,765.20 298.70,765.20 298.70,767.30 300.30,767.30 300.30,771.67 300.97,771.67 300.97,771.24 302.27,771.24 302.27,771.46 303.57,771.46 303.57,770.82 304.87,770.82 304.87,772.73 306.16,772.73 306.16,772.47 307.46,772.47 307.46,772.33 308.76,772.33 308.76,773.61 310.05,773.61 310.05,773.73 311.35,773.73 311.35,772.56 312.65,772.56 312.65,772.46 313.95,772.46 313.95,772.30 315.24,772.30 315.24,772.85 316.54,772.85 316.54,772.08 317.84,772.08 317.84,772.51 319.14,772.51 319.14,772.28 320.43,772.28 320.43,772.87 321.73,772.87 321.73,772.51 323.03,772.51 323.03,774.51 324.32,774.51 324.32,772.35 325.62,772.35 325.62,772.58 326.92,772.58 326.92,773.01 328.22,773.01 328.22,772.56 329.51,772.56 329.51,772.71 330.81,772.71 330.81,772.32 332.11,772.32 332.11,772.30 333.40,772.30 333.40,771.12 334.70,771.12 334.70,772.52 336.00,772.52 336.00,771.67 337.30,771.67 337.30,772.53 338.59,772.53 338.59,771.50 339.89,771.50 339.89,772.57 341.19,772.57 341.19,772.72 342.48,772.72 342.48,773.39 343.78,773.39 343.78,773.17 345.08,773.17 345.08,773.01 346.38,773.01 346.38,773.34 347.67,773.34 347.67,773.63 348.97,773.63 348.97,773.79 350.27,773.79 350.27,772.87 351.57,772.87 351.57,772.95 352.86,772.95 352.86,772.34 354.60,772.34 354.60,770.80 356.10,770.80 356.10,764.40 356.90,764.40 356.90,763.60 359.50,763.60 359.50,768.80 361.10,768.80 361.10,771.20 363.50,771.20 363.50,772.70 364.54,772.70 364.54,772.88 365.83,772.88 365.83,772.60 367.13,772.60 367.13,772.82 368.43,772.82 368.43,773.79 369.73,773.79 369.73,773.11 371.02,773.11 371.02,773.03 372.32,773.03 372.32,772.38 373.62,772.38 373.62,772.08 374.92,772.08 374.92,770.45 376.21,770.45 376.21,770.33 377.51,770.33 377.51,771.74 378.81,771.74 378.81,770.85 380.10,770.85 380.10,773.25 381.40,773.25 381.40,772.92 382.70,772.92 382.70,771.27 384.00,771.27 384.00,772.14 384.80,772.14 384.80,757.50 387.20,757.50 387.20,744.30 388.80,744.30 388.80,759.90 390.40,759.90 390.40,771.60 392.00,771.60 392.00,773.54 393.08,773.54 393.08,770.92 394.37,770.92 394.37,771.40 395.67,771.40 395.67,771.80 396.97,771.80 396.97,771.82 398.26,771.82 398.26,772.30 399.56,772.30 399.56,772.57 400.86,772.57 400.86,772.78 402.16,772.78 402.16,772.73 403.45,772.73 403.45,771.90 404.75,771.90 404.75,772.26 406.05,772.26 406.05,772.75 407.35,772.75 407.35,772.90 408.64,772.90 408.64,772.98 409.94,772.98 409.94,772.19 411.24,772.19 411.24,772.23 412.53,772.23 412.53,773.09 413.83,773.09 413.83,773.70 415.13,773.70 415.13,774.36 416.43,774.36 416.43,773.75 417.72,773.75 417.72,773.17 419.02,773.17 419.02,772.67 420.32,772.67 420.32,773.87 421.61,773.87 421.61,774.02 422.91,774.02 422.91,773.45 424.21,773.45 424.21,772.76 425.51,772.76 425.51,772.44 426.80,772.44 426.80,772.68 428.10,772.68 428.10,773.41 429.40,773.41 429.40,773.35 430.69,773.35 430.69,773.18 431.99,773.18 431.99,773.86 433.29,773.86 433.29,772.48 434.59,772.48 434.59,772.48 435.88,772.48 435.88,772.08 437.18,772.08 437.18,772.15 438.48,772.15 438.48,773.50 439.78,773.50 439.78,772.80 441.07,772.80 441.07,773.04 442.37,773.04 442.37,771.56 443.67,771.56 443.67,772.21 444.96,772.21 444.96,772.16 446.26,772.16 446.26,772.86 447.56,772.86 447.56,773.46 448.86,773.46 448.86,773.58 450.15,773.58 450.15,773.13 451.45,773.13" fill="none" stroke="#4650f5" stroke-width="1.75" stroke-linejoin="miter"/></g>
<rect x="257.55" y="704.67" width="203.05" height="78.90" fill="none" stroke="#262626" stroke-width="1.0"/>
<line x1="257.55" y1="708.60" x2="261.55" y2="708.60" stroke="#262626" stroke-width="1.1"/>
<line x1="257.55" y1="773.10" x2="261.55" y2="773.10" stroke="#262626" stroke-width="1.1"/>
<line x1="304.00" y1="783.57" x2="304.00" y2="779.57" stroke="#262626" stroke-width="1.1"/>
<text x="304.00" y="803.07" text-anchor="middle" font-size="16.0" fill="#1e1e1e" textLength="30.4" lengthAdjust="spacingAndGlyphs">3.35</text>
<line x1="394.50" y1="783.57" x2="394.50" y2="779.57" stroke="#262626" stroke-width="1.1"/>
<text x="394.50" y="803.07" text-anchor="middle" font-size="16.0" fill="#1e1e1e" textLength="31.1" lengthAdjust="spacingAndGlyphs">3.45</text>
<g clip-path="url(#cp62)"><polygon points="470.65,771.28 473.40,771.37 476.25,771.21 479.00,771.16 480.70,770.92 482.50,771.05 485.00,771.17 487.40,771.36 490.20,771.30 493.00,771.02 495.80,771.58 498.60,771.35 501.40,771.16 504.20,771.47 507.00,771.44 509.80,770.82 512.60,771.72 515.40,771.40 518.20,771.24 521.00,771.21 523.80,771.02 526.60,771.20 529.40,771.39 532.20,771.32 537.40,770.85 542.75,771.09 545.85,770.79 548.65,771.06 552.60,770.79 556.70,770.47 559.40,770.18 562.20,770.53 565.00,770.26 567.55,770.35 570.25,770.28 573.35,770.52 576.75,770.77 580.80,770.88 584.55,771.12 587.40,771.01 590.20,771.09 593.00,771.03 595.80,771.39 598.60,771.09 601.40,771.55 604.20,771.22 607.00,771.30 609.80,771.36 612.60,771.34 615.40,771.26 618.20,771.05 620.05,771.38 622.85,771.35 626.60,771.57 628.85,771.01 631.20,771.28 633.15,771.45 635.00,771.49 637.80,771.48 640.60,771.26 643.40,771.15 645.65,771.36 648.00,771.58 649.95,771.20 651.80,771.55 654.05,771.10 654.05,775.10 651.80,774.65 649.95,775.00 648.00,774.62 645.65,774.84 643.40,775.05 640.60,774.94 637.80,774.72 635.00,774.71 633.15,774.75 631.20,774.92 628.85,775.19 626.60,774.63 622.85,774.85 620.05,774.82 618.20,775.15 615.40,774.94 612.60,774.86 609.80,774.84 607.00,774.90 604.20,774.98 601.40,774.65 598.60,775.11 595.80,774.81 593.00,775.17 590.20,775.11 587.40,775.19 584.55,775.08 580.80,775.32 576.75,775.43 573.35,775.68 570.25,775.92 567.55,775.85 565.00,775.94 562.20,775.67 559.40,776.02 556.70,775.73 552.60,775.41 548.65,775.14 545.85,775.41 542.75,775.11 537.40,775.35 532.20,774.88 529.40,774.81 526.60,775.00 523.80,775.18 521.00,774.99 518.20,774.96 515.40,774.80 512.60,774.48 509.80,775.38 507.00,774.76 504.20,774.73 501.40,775.04 498.60,774.85 495.80,774.62 493.00,775.18 490.20,774.90 487.40,774.84 485.00,775.03 482.50,775.15 480.70,775.28 479.00,775.04 476.25,774.99 473.40,774.83 470.65,774.92" fill="#4650f5" fill-opacity="0.3" stroke="none"/><line x1="547.00" y1="783.57" x2="547.00" y2="704.67" stroke="#111" stroke-width="1.5" stroke-dasharray="5.4 5.5"/><line x1="562.00" y1="783.57" x2="562.00" y2="704.67" stroke="#111" stroke-width="1.5" stroke-dasharray="5.4 5.5"/><line x1="583.80" y1="783.57" x2="583.80" y2="704.67" stroke="#111" stroke-width="1.5" stroke-dasharray="5.4 5.5"/><polyline points="469.40,771.74 471.90,771.74 471.90,775.00 474.90,775.00 474.90,772.01 477.60,772.01 477.60,772.03 480.40,772.03 480.40,773.01 481.00,773.01 481.00,770.10 484.00,770.10 484.00,771.07 486.00,771.07 486.00,771.17 488.80,771.17 488.80,773.09 491.60,773.09 491.60,770.99 494.40,770.99 494.40,773.26 497.20,773.26 497.20,772.07 500.00,772.07 500.00,772.78 502.80,772.78 502.80,771.16 505.60,771.16 505.60,772.42 508.40,772.42 508.40,770.96 511.20,770.96 511.20,769.85 514.00,769.85 514.00,772.07 516.80,772.07 516.80,771.28 519.60,771.28 519.60,771.69 522.40,771.69 522.40,773.57 525.20,773.57 525.20,772.60 528.00,772.60 528.00,770.23 530.80,770.23 530.80,771.56 533.60,771.56 533.60,770.40 541.20,770.40 541.20,768.90 544.30,768.90 544.30,769.60 547.40,769.60 547.40,766.80 549.90,766.80 549.90,765.10 555.30,765.10 555.30,756.10 558.10,756.10 558.10,735.70 560.70,735.70 560.70,714.00 563.70,714.00 563.70,730.50 566.30,730.50 566.30,757.60 568.80,757.60 568.80,763.20 571.70,763.20 571.70,766.30 575.00,766.30 575.00,767.30 578.50,767.30 578.50,768.10 583.10,768.10 583.10,769.40 586.00,769.40 586.00,770.25 588.80,770.25 588.80,771.67 591.60,771.67 591.60,774.06 594.40,774.06 594.40,772.06 597.20,772.06 597.20,773.01 600.00,773.01 600.00,773.60 602.80,773.60 602.80,773.07 605.60,773.07 605.60,772.54 608.40,772.54 608.40,770.49 611.20,770.49 611.20,773.41 614.00,773.41 614.00,771.78 616.80,771.78 616.80,772.22 619.60,772.22 619.60,770.78 620.50,770.78 620.50,775.00 625.20,775.00 625.20,773.50 628.00,773.50 628.00,770.04 629.70,770.04 629.70,770.40 632.70,770.40 632.70,773.15 633.60,773.15 633.60,770.54 636.40,770.54 636.40,772.05 639.20,772.05 639.20,771.90 642.00,771.90 642.00,773.32 644.80,773.32 644.80,773.24 646.50,773.24 646.50,770.10 649.50,770.10 649.50,771.59 650.40,771.59 650.40,772.13 653.20,772.13 653.20,770.79 654.90,770.79" fill="none" stroke="#4650f5" stroke-width="1.75" stroke-linejoin="miter"/></g>
<rect x="460.60" y="704.67" width="203.30" height="78.90" fill="none" stroke="#262626" stroke-width="1.0"/>
<line x1="460.60" y1="708.60" x2="464.60" y2="708.60" stroke="#262626" stroke-width="1.1"/>
<line x1="460.60" y1="773.10" x2="464.60" y2="773.10" stroke="#262626" stroke-width="1.1"/>
<line x1="497.30" y1="783.57" x2="497.30" y2="779.57" stroke="#262626" stroke-width="1.1"/>
<text x="497.30" y="803.07" text-anchor="middle" font-size="16.0" fill="#1e1e1e" textLength="31.3" lengthAdjust="spacingAndGlyphs">4.47</text>
<line x1="573.00" y1="783.57" x2="573.00" y2="779.57" stroke="#262626" stroke-width="1.1"/>
<text x="573.00" y="803.07" text-anchor="middle" font-size="16.0" fill="#1e1e1e" textLength="30.8" lengthAdjust="spacingAndGlyphs">4.52</text>
<line x1="648.70" y1="783.57" x2="648.70" y2="779.57" stroke="#262626" stroke-width="1.1"/>
<text x="648.70" y="803.07" text-anchor="middle" font-size="16.0" fill="#1e1e1e" textLength="30.5" lengthAdjust="spacingAndGlyphs">4.57</text>
<text x="63.4" y="722.87" font-size="15" font-style="italic" fill="#1e1e1e">z</text>
<text x="75.0" y="722.87" font-size="15" fill="#1e1e1e" textLength="7.8" lengthAdjust="spacingAndGlyphs">=</text>
<text x="86.7" y="722.87" font-size="15" fill="#1e1e1e" textLength="39.0" lengthAdjust="spacingAndGlyphs">5.875</text>
<text transform="translate(673.4,742.30) rotate(90)" text-anchor="middle" font-size="15.8" fill="#1e1e1e" textLength="42.1" lengthAdjust="spacingAndGlyphs">61888</text>
<text x="137.8" y="14.0" font-size="18" fill="#1e1e1e">C <tspan font-size="12.6">IV</tspan></text>
<text x="312.6" y="13.7" font-size="18" fill="#1e1e1e">Hβ + [O <tspan font-size="12.6">III</tspan>]</text>
<text x="524.8" y="13.7" font-size="18" fill="#1e1e1e">Hα + [N <tspan font-size="12.6">II</tspan>]</text>
<text x="359.4" y="829.6" text-anchor="middle" font-size="18.6" fill="#1e1e1e" textLength="226.5" lengthAdjust="spacingAndGlyphs">Observed wavelength (μm)</text>
<text transform="translate(17.8,403.9) rotate(-90)" text-anchor="middle" font-size="18" fill="#1e1e1e" textLength="209.5" lengthAdjust="spacingAndGlyphs"><tspan font-style="italic">F</tspan><tspan font-size="12.6" dy="3">ν</tspan><tspan dy="-3"> (10</tspan><tspan font-size="12.6" dy="-7">−29</tspan><tspan dy="7"> erg s</tspan><tspan font-size="12.6" dy="-7">−1</tspan><tspan dy="7"> cm</tspan><tspan font-size="12.6" dy="-7">−2</tspan><tspan dy="7"> Hz</tspan><tspan font-size="12.6" dy="-7">−1</tspan><tspan dy="7">)</tspan></text>
</svg>
</body></html>
